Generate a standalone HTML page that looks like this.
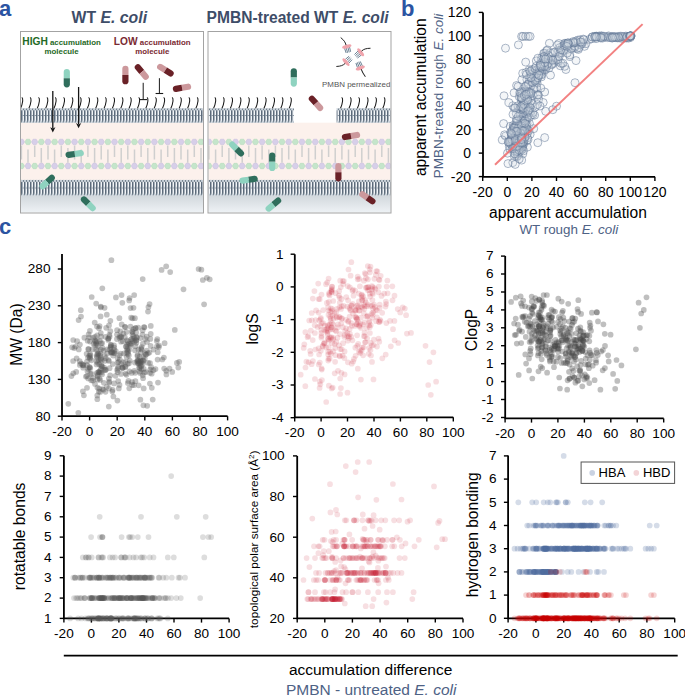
<!DOCTYPE html>
<html><head><meta charset="utf-8"><title>Figure</title>
<style>html,body{margin:0;padding:0;background:#fff}svg{display:block}text{font-family:"Liberation Sans",sans-serif}</style>
</head><body>
<svg width="685" height="695" viewBox="0 0 685 695">
<text x="-1" y="16" font-size="22" font-weight="bold" fill="#2b54a2" font-family='"Liberation Sans",sans-serif'>a</text><text x="401" y="16" font-size="22" font-weight="bold" fill="#2b54a2" font-family='"Liberation Sans",sans-serif'>b</text><defs><pattern id="mem" x="0" y="108.3" width="3" height="14.4" patternUnits="userSpaceOnUse"><rect width="3" height="14.4" fill="#f2f5f8"/><rect x="0" y="2" width="1.5" height="10.4" fill="#5b6a7a"/><rect x="1.45" y="6.8" width="1.55" height="0.9" fill="#8893a0"/><rect x="0" y="0" width="2" height="2" fill="#c6cfd8"/><rect x="2" y="0" width="1" height="2" fill="#76848f"/><rect x="1" y="12.4" width="2" height="2" fill="#c6cfd8"/><rect x="0" y="12.4" width="1" height="2" fill="#76848f"/></pattern><pattern id="mem2" x="0" y="179.9" width="3" height="15.8" patternUnits="userSpaceOnUse"><rect width="3" height="15.8" fill="#f2f5f8"/><rect x="0" y="2" width="1.5" height="11.8" fill="#5b6a7a"/><rect x="1.45" y="7.5" width="1.55" height="0.9" fill="#8893a0"/><rect x="0" y="0" width="2" height="2" fill="#c6cfd8"/><rect x="2" y="0" width="1" height="2" fill="#76848f"/><rect x="1" y="13.8" width="2" height="2" fill="#c6cfd8"/><rect x="0" y="13.8" width="1" height="2" fill="#76848f"/></pattern><linearGradient id="cyt" x1="0" y1="0" x2="0" y2="1"><stop offset="0" stop-color="#d2d8dd"/><stop offset="1" stop-color="#eef2f5"/></linearGradient></defs><clipPath id="cb1"><rect x="21" y="32" width="182" height="180.5"/></clipPath><clipPath id="cb2"><rect x="208.5" y="32" width="182" height="180.5"/></clipPath><rect x="20.5" y="31.5" width="183" height="181.5" fill="#fff"/><rect x="21.0" y="122.7" width="182" height="57.2" fill="#fcf1ec"/><g clip-path="url(#cb1)"><line x1="21.4" y1="145.4" x2="21.4" y2="159.5" stroke="#cfcfcf" stroke-width="1.5"/><line x1="28" y1="149.5" x2="28" y2="162.8" stroke="#cfcfcf" stroke-width="1.5"/><line x1="34.7" y1="145.4" x2="34.7" y2="157.0" stroke="#cfcfcf" stroke-width="1.5"/><line x1="41.3" y1="148.0" x2="41.3" y2="162.8" stroke="#cfcfcf" stroke-width="1.5"/><line x1="48" y1="145.4" x2="48" y2="159.5" stroke="#cfcfcf" stroke-width="1.5"/><line x1="54.6" y1="149.5" x2="54.6" y2="162.8" stroke="#cfcfcf" stroke-width="1.5"/><line x1="61.3" y1="145.4" x2="61.3" y2="157.0" stroke="#cfcfcf" stroke-width="1.5"/><line x1="67.9" y1="148.0" x2="67.9" y2="162.8" stroke="#cfcfcf" stroke-width="1.5"/><line x1="74.6" y1="145.4" x2="74.6" y2="159.5" stroke="#cfcfcf" stroke-width="1.5"/><line x1="81.2" y1="149.5" x2="81.2" y2="162.8" stroke="#cfcfcf" stroke-width="1.5"/><line x1="87.9" y1="145.4" x2="87.9" y2="157.0" stroke="#cfcfcf" stroke-width="1.5"/><line x1="94.6" y1="148.0" x2="94.6" y2="162.8" stroke="#cfcfcf" stroke-width="1.5"/><line x1="101.2" y1="145.4" x2="101.2" y2="159.5" stroke="#cfcfcf" stroke-width="1.5"/><line x1="107.9" y1="149.5" x2="107.9" y2="162.8" stroke="#cfcfcf" stroke-width="1.5"/><line x1="114.5" y1="145.4" x2="114.5" y2="157.0" stroke="#cfcfcf" stroke-width="1.5"/><line x1="121.2" y1="148.0" x2="121.2" y2="162.8" stroke="#cfcfcf" stroke-width="1.5"/><line x1="127.8" y1="145.4" x2="127.8" y2="159.5" stroke="#cfcfcf" stroke-width="1.5"/><line x1="134.5" y1="149.5" x2="134.5" y2="162.8" stroke="#cfcfcf" stroke-width="1.5"/><line x1="141.1" y1="145.4" x2="141.1" y2="157.0" stroke="#cfcfcf" stroke-width="1.5"/><line x1="147.8" y1="148.0" x2="147.8" y2="162.8" stroke="#cfcfcf" stroke-width="1.5"/><line x1="154.4" y1="145.4" x2="154.4" y2="159.5" stroke="#cfcfcf" stroke-width="1.5"/><line x1="161.1" y1="149.5" x2="161.1" y2="162.8" stroke="#cfcfcf" stroke-width="1.5"/><line x1="167.7" y1="145.4" x2="167.7" y2="157.0" stroke="#cfcfcf" stroke-width="1.5"/><line x1="174.4" y1="148.0" x2="174.4" y2="162.8" stroke="#cfcfcf" stroke-width="1.5"/><line x1="181" y1="145.4" x2="181" y2="159.5" stroke="#cfcfcf" stroke-width="1.5"/><line x1="187.7" y1="149.5" x2="187.7" y2="162.8" stroke="#cfcfcf" stroke-width="1.5"/><line x1="194.3" y1="145.4" x2="194.3" y2="157.0" stroke="#cfcfcf" stroke-width="1.5"/><line x1="201" y1="148.0" x2="201" y2="162.8" stroke="#cfcfcf" stroke-width="1.5"/><polygon points="24.5,141.9 22.9,144.6 19.8,144.6 18.3,141.9 19.8,139.2 22.9,139.2" fill="#d7cfe9" stroke="#c4badc" stroke-width="0.5"/><polygon points="31.1,141.9 29.6,144.6 26.5,144.6 24.9,141.9 26.5,139.2 29.6,139.2" fill="#c5e5cb" stroke="#aed8b6" stroke-width="0.5"/><polygon points="37.8,141.9 36.2,144.6 33.1,144.6 31.6,141.9 33.1,139.2 36.2,139.2" fill="#d7cfe9" stroke="#c4badc" stroke-width="0.5"/><polygon points="44.4,141.9 42.9,144.6 39.8,144.6 38.2,141.9 39.8,139.2 42.9,139.2" fill="#c5e5cb" stroke="#aed8b6" stroke-width="0.5"/><polygon points="51.1,141.9 49.5,144.6 46.4,144.6 44.9,141.9 46.4,139.2 49.5,139.2" fill="#d7cfe9" stroke="#c4badc" stroke-width="0.5"/><polygon points="57.7,141.9 56.2,144.6 53.1,144.6 51.5,141.9 53.1,139.2 56.2,139.2" fill="#c5e5cb" stroke="#aed8b6" stroke-width="0.5"/><polygon points="64.4,141.9 62.8,144.6 59.7,144.6 58.2,141.9 59.7,139.2 62.8,139.2" fill="#d7cfe9" stroke="#c4badc" stroke-width="0.5"/><polygon points="71,141.9 69.5,144.6 66.4,144.6 64.8,141.9 66.4,139.2 69.5,139.2" fill="#c5e5cb" stroke="#aed8b6" stroke-width="0.5"/><polygon points="77.7,141.9 76.1,144.6 73,144.6 71.5,141.9 73,139.2 76.1,139.2" fill="#d7cfe9" stroke="#c4badc" stroke-width="0.5"/><polygon points="84.3,141.9 82.8,144.6 79.7,144.6 78.2,141.9 79.7,139.2 82.8,139.2" fill="#c5e5cb" stroke="#aed8b6" stroke-width="0.5"/><polygon points="91,141.9 89.5,144.6 86.4,144.6 84.8,141.9 86.4,139.2 89.5,139.2" fill="#d7cfe9" stroke="#c4badc" stroke-width="0.5"/><polygon points="97.7,141.9 96.1,144.6 93,144.6 91.5,141.9 93,139.2 96.1,139.2" fill="#c5e5cb" stroke="#aed8b6" stroke-width="0.5"/><polygon points="104.3,141.9 102.8,144.6 99.7,144.6 98.1,141.9 99.7,139.2 102.8,139.2" fill="#d7cfe9" stroke="#c4badc" stroke-width="0.5"/><polygon points="111,141.9 109.4,144.6 106.3,144.6 104.8,141.9 106.3,139.2 109.4,139.2" fill="#c5e5cb" stroke="#aed8b6" stroke-width="0.5"/><polygon points="117.6,141.9 116.1,144.6 113,144.6 111.4,141.9 113,139.2 116.1,139.2" fill="#d7cfe9" stroke="#c4badc" stroke-width="0.5"/><polygon points="124.3,141.9 122.7,144.6 119.6,144.6 118.1,141.9 119.6,139.2 122.7,139.2" fill="#c5e5cb" stroke="#aed8b6" stroke-width="0.5"/><polygon points="130.9,141.9 129.4,144.6 126.3,144.6 124.7,141.9 126.3,139.2 129.4,139.2" fill="#d7cfe9" stroke="#c4badc" stroke-width="0.5"/><polygon points="137.6,141.9 136,144.6 132.9,144.6 131.4,141.9 132.9,139.2 136,139.2" fill="#c5e5cb" stroke="#aed8b6" stroke-width="0.5"/><polygon points="144.2,141.9 142.7,144.6 139.6,144.6 138,141.9 139.6,139.2 142.7,139.2" fill="#d7cfe9" stroke="#c4badc" stroke-width="0.5"/><polygon points="150.9,141.9 149.3,144.6 146.2,144.6 144.7,141.9 146.2,139.2 149.3,139.2" fill="#c5e5cb" stroke="#aed8b6" stroke-width="0.5"/><polygon points="157.5,141.9 156,144.6 152.9,144.6 151.3,141.9 152.9,139.2 156,139.2" fill="#d7cfe9" stroke="#c4badc" stroke-width="0.5"/><polygon points="164.2,141.9 162.6,144.6 159.5,144.6 158,141.9 159.5,139.2 162.6,139.2" fill="#c5e5cb" stroke="#aed8b6" stroke-width="0.5"/><polygon points="170.8,141.9 169.3,144.6 166.2,144.6 164.6,141.9 166.2,139.2 169.3,139.2" fill="#d7cfe9" stroke="#c4badc" stroke-width="0.5"/><polygon points="177.5,141.9 175.9,144.6 172.8,144.6 171.3,141.9 172.8,139.2 175.9,139.2" fill="#c5e5cb" stroke="#aed8b6" stroke-width="0.5"/><polygon points="184.1,141.9 182.6,144.6 179.5,144.6 177.9,141.9 179.5,139.2 182.6,139.2" fill="#d7cfe9" stroke="#c4badc" stroke-width="0.5"/><polygon points="190.8,141.9 189.2,144.6 186.1,144.6 184.6,141.9 186.1,139.2 189.2,139.2" fill="#c5e5cb" stroke="#aed8b6" stroke-width="0.5"/><polygon points="197.4,141.9 195.9,144.6 192.8,144.6 191.2,141.9 192.8,139.2 195.9,139.2" fill="#d7cfe9" stroke="#c4badc" stroke-width="0.5"/><polygon points="204.1,141.9 202.5,144.6 199.4,144.6 197.9,141.9 199.4,139.2 202.5,139.2" fill="#c5e5cb" stroke="#aed8b6" stroke-width="0.5"/><polygon points="24.5,166 22.9,168.7 19.8,168.7 18.3,166 19.8,163.3 22.9,163.3" fill="#c5e5cb" stroke="#aed8b6" stroke-width="0.5"/><polygon points="31.1,166 29.6,168.7 26.5,168.7 24.9,166 26.5,163.3 29.6,163.3" fill="#d7cfe9" stroke="#c4badc" stroke-width="0.5"/><polygon points="37.8,166 36.2,168.7 33.1,168.7 31.6,166 33.1,163.3 36.2,163.3" fill="#c5e5cb" stroke="#aed8b6" stroke-width="0.5"/><polygon points="44.4,166 42.9,168.7 39.8,168.7 38.2,166 39.8,163.3 42.9,163.3" fill="#d7cfe9" stroke="#c4badc" stroke-width="0.5"/><polygon points="51.1,166 49.5,168.7 46.4,168.7 44.9,166 46.4,163.3 49.5,163.3" fill="#c5e5cb" stroke="#aed8b6" stroke-width="0.5"/><polygon points="57.7,166 56.2,168.7 53.1,168.7 51.5,166 53.1,163.3 56.2,163.3" fill="#d7cfe9" stroke="#c4badc" stroke-width="0.5"/><polygon points="64.4,166 62.8,168.7 59.7,168.7 58.2,166 59.7,163.3 62.8,163.3" fill="#c5e5cb" stroke="#aed8b6" stroke-width="0.5"/><polygon points="71,166 69.5,168.7 66.4,168.7 64.8,166 66.4,163.3 69.5,163.3" fill="#d7cfe9" stroke="#c4badc" stroke-width="0.5"/><polygon points="77.7,166 76.1,168.7 73,168.7 71.5,166 73,163.3 76.1,163.3" fill="#c5e5cb" stroke="#aed8b6" stroke-width="0.5"/><polygon points="84.3,166 82.8,168.7 79.7,168.7 78.2,166 79.7,163.3 82.8,163.3" fill="#d7cfe9" stroke="#c4badc" stroke-width="0.5"/><polygon points="91,166 89.5,168.7 86.4,168.7 84.8,166 86.4,163.3 89.5,163.3" fill="#c5e5cb" stroke="#aed8b6" stroke-width="0.5"/><polygon points="97.7,166 96.1,168.7 93,168.7 91.5,166 93,163.3 96.1,163.3" fill="#d7cfe9" stroke="#c4badc" stroke-width="0.5"/><polygon points="104.3,166 102.8,168.7 99.7,168.7 98.1,166 99.7,163.3 102.8,163.3" fill="#c5e5cb" stroke="#aed8b6" stroke-width="0.5"/><polygon points="111,166 109.4,168.7 106.3,168.7 104.8,166 106.3,163.3 109.4,163.3" fill="#d7cfe9" stroke="#c4badc" stroke-width="0.5"/><polygon points="117.6,166 116.1,168.7 113,168.7 111.4,166 113,163.3 116.1,163.3" fill="#c5e5cb" stroke="#aed8b6" stroke-width="0.5"/><polygon points="124.3,166 122.7,168.7 119.6,168.7 118.1,166 119.6,163.3 122.7,163.3" fill="#d7cfe9" stroke="#c4badc" stroke-width="0.5"/><polygon points="130.9,166 129.4,168.7 126.3,168.7 124.7,166 126.3,163.3 129.4,163.3" fill="#c5e5cb" stroke="#aed8b6" stroke-width="0.5"/><polygon points="137.6,166 136,168.7 132.9,168.7 131.4,166 132.9,163.3 136,163.3" fill="#d7cfe9" stroke="#c4badc" stroke-width="0.5"/><polygon points="144.2,166 142.7,168.7 139.6,168.7 138,166 139.6,163.3 142.7,163.3" fill="#c5e5cb" stroke="#aed8b6" stroke-width="0.5"/><polygon points="150.9,166 149.3,168.7 146.2,168.7 144.7,166 146.2,163.3 149.3,163.3" fill="#d7cfe9" stroke="#c4badc" stroke-width="0.5"/><polygon points="157.5,166 156,168.7 152.9,168.7 151.3,166 152.9,163.3 156,163.3" fill="#c5e5cb" stroke="#aed8b6" stroke-width="0.5"/><polygon points="164.2,166 162.6,168.7 159.5,168.7 158,166 159.5,163.3 162.6,163.3" fill="#d7cfe9" stroke="#c4badc" stroke-width="0.5"/><polygon points="170.8,166 169.3,168.7 166.2,168.7 164.6,166 166.2,163.3 169.3,163.3" fill="#c5e5cb" stroke="#aed8b6" stroke-width="0.5"/><polygon points="177.5,166 175.9,168.7 172.8,168.7 171.3,166 172.8,163.3 175.9,163.3" fill="#d7cfe9" stroke="#c4badc" stroke-width="0.5"/><polygon points="184.1,166 182.6,168.7 179.5,168.7 177.9,166 179.5,163.3 182.6,163.3" fill="#c5e5cb" stroke="#aed8b6" stroke-width="0.5"/><polygon points="190.8,166 189.2,168.7 186.1,168.7 184.6,166 186.1,163.3 189.2,163.3" fill="#d7cfe9" stroke="#c4badc" stroke-width="0.5"/><polygon points="197.4,166 195.9,168.7 192.8,168.7 191.2,166 192.8,163.3 195.9,163.3" fill="#c5e5cb" stroke="#aed8b6" stroke-width="0.5"/><polygon points="204.1,166 202.5,168.7 199.4,168.7 197.9,166 199.4,163.3 202.5,163.3" fill="#d7cfe9" stroke="#c4badc" stroke-width="0.5"/></g><rect x="21" y="179.9" width="182" height="15.8" fill="url(#mem2)"/><rect x="21.0" y="195.7" width="182" height="16.8" fill="url(#cyt)"/><rect x="208.0" y="31.5" width="183" height="181.5" fill="#fff"/><rect x="208.5" y="122.7" width="182" height="57.2" fill="#fcf1ec"/><g clip-path="url(#cb2)"><line x1="208.9" y1="145.4" x2="208.9" y2="159.5" stroke="#cfcfcf" stroke-width="1.5"/><line x1="215.6" y1="149.5" x2="215.6" y2="162.8" stroke="#cfcfcf" stroke-width="1.5"/><line x1="222.2" y1="145.4" x2="222.2" y2="157.0" stroke="#cfcfcf" stroke-width="1.5"/><line x1="228.9" y1="148.0" x2="228.9" y2="162.8" stroke="#cfcfcf" stroke-width="1.5"/><line x1="235.5" y1="145.4" x2="235.5" y2="159.5" stroke="#cfcfcf" stroke-width="1.5"/><line x1="242.2" y1="149.5" x2="242.2" y2="162.8" stroke="#cfcfcf" stroke-width="1.5"/><line x1="248.8" y1="145.4" x2="248.8" y2="157.0" stroke="#cfcfcf" stroke-width="1.5"/><line x1="255.5" y1="148.0" x2="255.5" y2="162.8" stroke="#cfcfcf" stroke-width="1.5"/><line x1="262.1" y1="145.4" x2="262.1" y2="159.5" stroke="#cfcfcf" stroke-width="1.5"/><line x1="268.8" y1="149.5" x2="268.8" y2="162.8" stroke="#cfcfcf" stroke-width="1.5"/><line x1="275.4" y1="145.4" x2="275.4" y2="157.0" stroke="#cfcfcf" stroke-width="1.5"/><line x1="282" y1="148.0" x2="282" y2="162.8" stroke="#cfcfcf" stroke-width="1.5"/><line x1="288.7" y1="145.4" x2="288.7" y2="159.5" stroke="#cfcfcf" stroke-width="1.5"/><line x1="295.3" y1="149.5" x2="295.3" y2="162.8" stroke="#cfcfcf" stroke-width="1.5"/><line x1="302" y1="145.4" x2="302" y2="157.0" stroke="#cfcfcf" stroke-width="1.5"/><line x1="308.6" y1="148.0" x2="308.6" y2="162.8" stroke="#cfcfcf" stroke-width="1.5"/><line x1="315.3" y1="145.4" x2="315.3" y2="159.5" stroke="#cfcfcf" stroke-width="1.5"/><line x1="321.9" y1="149.5" x2="321.9" y2="162.8" stroke="#cfcfcf" stroke-width="1.5"/><line x1="328.6" y1="145.4" x2="328.6" y2="157.0" stroke="#cfcfcf" stroke-width="1.5"/><line x1="335.2" y1="148.0" x2="335.2" y2="162.8" stroke="#cfcfcf" stroke-width="1.5"/><line x1="341.9" y1="145.4" x2="341.9" y2="159.5" stroke="#cfcfcf" stroke-width="1.5"/><line x1="348.5" y1="149.5" x2="348.5" y2="162.8" stroke="#cfcfcf" stroke-width="1.5"/><line x1="355.2" y1="145.4" x2="355.2" y2="157.0" stroke="#cfcfcf" stroke-width="1.5"/><line x1="361.8" y1="148.0" x2="361.8" y2="162.8" stroke="#cfcfcf" stroke-width="1.5"/><line x1="368.5" y1="145.4" x2="368.5" y2="159.5" stroke="#cfcfcf" stroke-width="1.5"/><line x1="375.1" y1="149.5" x2="375.1" y2="162.8" stroke="#cfcfcf" stroke-width="1.5"/><line x1="381.8" y1="145.4" x2="381.8" y2="157.0" stroke="#cfcfcf" stroke-width="1.5"/><line x1="388.4" y1="148.0" x2="388.4" y2="162.8" stroke="#cfcfcf" stroke-width="1.5"/><polygon points="212,141.9 210.5,144.6 207.3,144.6 205.8,141.9 207.3,139.2 210.5,139.2" fill="#d7cfe9" stroke="#c4badc" stroke-width="0.5"/><polygon points="218.7,141.9 217.1,144.6 214,144.6 212.5,141.9 214,139.2 217.1,139.2" fill="#c5e5cb" stroke="#aed8b6" stroke-width="0.5"/><polygon points="225.3,141.9 223.8,144.6 220.7,144.6 219.1,141.9 220.7,139.2 223.8,139.2" fill="#d7cfe9" stroke="#c4badc" stroke-width="0.5"/><polygon points="232,141.9 230.4,144.6 227.3,144.6 225.8,141.9 227.3,139.2 230.4,139.2" fill="#c5e5cb" stroke="#aed8b6" stroke-width="0.5"/><polygon points="238.6,141.9 237.1,144.6 234,144.6 232.4,141.9 234,139.2 237.1,139.2" fill="#d7cfe9" stroke="#c4badc" stroke-width="0.5"/><polygon points="245.3,141.9 243.7,144.6 240.6,144.6 239.1,141.9 240.6,139.2 243.7,139.2" fill="#c5e5cb" stroke="#aed8b6" stroke-width="0.5"/><polygon points="251.9,141.9 250.4,144.6 247.3,144.6 245.7,141.9 247.3,139.2 250.4,139.2" fill="#d7cfe9" stroke="#c4badc" stroke-width="0.5"/><polygon points="258.6,141.9 257,144.6 253.9,144.6 252.4,141.9 253.9,139.2 257,139.2" fill="#c5e5cb" stroke="#aed8b6" stroke-width="0.5"/><polygon points="265.2,141.9 263.7,144.6 260.6,144.6 259,141.9 260.6,139.2 263.7,139.2" fill="#d7cfe9" stroke="#c4badc" stroke-width="0.5"/><polygon points="271.9,141.9 270.3,144.6 267.2,144.6 265.6,141.9 267.2,139.2 270.3,139.2" fill="#c5e5cb" stroke="#aed8b6" stroke-width="0.5"/><polygon points="278.5,141.9 276.9,144.6 273.8,144.6 272.3,141.9 273.8,139.2 276.9,139.2" fill="#d7cfe9" stroke="#c4badc" stroke-width="0.5"/><polygon points="285.1,141.9 283.6,144.6 280.5,144.6 278.9,141.9 280.5,139.2 283.6,139.2" fill="#c5e5cb" stroke="#aed8b6" stroke-width="0.5"/><polygon points="291.8,141.9 290.2,144.6 287.1,144.6 285.6,141.9 287.1,139.2 290.2,139.2" fill="#d7cfe9" stroke="#c4badc" stroke-width="0.5"/><polygon points="298.4,141.9 296.9,144.6 293.8,144.6 292.2,141.9 293.8,139.2 296.9,139.2" fill="#c5e5cb" stroke="#aed8b6" stroke-width="0.5"/><polygon points="305.1,141.9 303.5,144.6 300.4,144.6 298.9,141.9 300.4,139.2 303.5,139.2" fill="#d7cfe9" stroke="#c4badc" stroke-width="0.5"/><polygon points="311.7,141.9 310.2,144.6 307.1,144.6 305.5,141.9 307.1,139.2 310.2,139.2" fill="#c5e5cb" stroke="#aed8b6" stroke-width="0.5"/><polygon points="318.4,141.9 316.8,144.6 313.7,144.6 312.2,141.9 313.7,139.2 316.8,139.2" fill="#d7cfe9" stroke="#c4badc" stroke-width="0.5"/><polygon points="325,141.9 323.5,144.6 320.4,144.6 318.8,141.9 320.4,139.2 323.5,139.2" fill="#c5e5cb" stroke="#aed8b6" stroke-width="0.5"/><polygon points="331.7,141.9 330.1,144.6 327,144.6 325.5,141.9 327,139.2 330.1,139.2" fill="#d7cfe9" stroke="#c4badc" stroke-width="0.5"/><polygon points="338.3,141.9 336.8,144.6 333.7,144.6 332.1,141.9 333.7,139.2 336.8,139.2" fill="#c5e5cb" stroke="#aed8b6" stroke-width="0.5"/><polygon points="345,141.9 343.4,144.6 340.3,144.6 338.8,141.9 340.3,139.2 343.4,139.2" fill="#d7cfe9" stroke="#c4badc" stroke-width="0.5"/><polygon points="351.6,141.9 350.1,144.6 347,144.6 345.4,141.9 347,139.2 350.1,139.2" fill="#c5e5cb" stroke="#aed8b6" stroke-width="0.5"/><polygon points="358.3,141.9 356.7,144.6 353.6,144.6 352.1,141.9 353.6,139.2 356.7,139.2" fill="#d7cfe9" stroke="#c4badc" stroke-width="0.5"/><polygon points="364.9,141.9 363.4,144.6 360.3,144.6 358.7,141.9 360.3,139.2 363.4,139.2" fill="#c5e5cb" stroke="#aed8b6" stroke-width="0.5"/><polygon points="371.6,141.9 370,144.6 366.9,144.6 365.4,141.9 366.9,139.2 370,139.2" fill="#d7cfe9" stroke="#c4badc" stroke-width="0.5"/><polygon points="378.2,141.9 376.7,144.6 373.6,144.6 372,141.9 373.6,139.2 376.7,139.2" fill="#c5e5cb" stroke="#aed8b6" stroke-width="0.5"/><polygon points="384.9,141.9 383.3,144.6 380.2,144.6 378.7,141.9 380.2,139.2 383.3,139.2" fill="#d7cfe9" stroke="#c4badc" stroke-width="0.5"/><polygon points="391.5,141.9 390,144.6 386.9,144.6 385.3,141.9 386.9,139.2 390,139.2" fill="#c5e5cb" stroke="#aed8b6" stroke-width="0.5"/><polygon points="212,166 210.5,168.7 207.3,168.7 205.8,166 207.3,163.3 210.5,163.3" fill="#c5e5cb" stroke="#aed8b6" stroke-width="0.5"/><polygon points="218.7,166 217.1,168.7 214,168.7 212.5,166 214,163.3 217.1,163.3" fill="#d7cfe9" stroke="#c4badc" stroke-width="0.5"/><polygon points="225.3,166 223.8,168.7 220.7,168.7 219.1,166 220.7,163.3 223.8,163.3" fill="#c5e5cb" stroke="#aed8b6" stroke-width="0.5"/><polygon points="232,166 230.4,168.7 227.3,168.7 225.8,166 227.3,163.3 230.4,163.3" fill="#d7cfe9" stroke="#c4badc" stroke-width="0.5"/><polygon points="238.6,166 237.1,168.7 234,168.7 232.4,166 234,163.3 237.1,163.3" fill="#c5e5cb" stroke="#aed8b6" stroke-width="0.5"/><polygon points="245.3,166 243.7,168.7 240.6,168.7 239.1,166 240.6,163.3 243.7,163.3" fill="#d7cfe9" stroke="#c4badc" stroke-width="0.5"/><polygon points="251.9,166 250.4,168.7 247.3,168.7 245.7,166 247.3,163.3 250.4,163.3" fill="#c5e5cb" stroke="#aed8b6" stroke-width="0.5"/><polygon points="258.6,166 257,168.7 253.9,168.7 252.4,166 253.9,163.3 257,163.3" fill="#d7cfe9" stroke="#c4badc" stroke-width="0.5"/><polygon points="265.2,166 263.7,168.7 260.6,168.7 259,166 260.6,163.3 263.7,163.3" fill="#c5e5cb" stroke="#aed8b6" stroke-width="0.5"/><polygon points="271.9,166 270.3,168.7 267.2,168.7 265.6,166 267.2,163.3 270.3,163.3" fill="#d7cfe9" stroke="#c4badc" stroke-width="0.5"/><polygon points="278.5,166 276.9,168.7 273.8,168.7 272.3,166 273.8,163.3 276.9,163.3" fill="#c5e5cb" stroke="#aed8b6" stroke-width="0.5"/><polygon points="285.1,166 283.6,168.7 280.5,168.7 278.9,166 280.5,163.3 283.6,163.3" fill="#d7cfe9" stroke="#c4badc" stroke-width="0.5"/><polygon points="291.8,166 290.2,168.7 287.1,168.7 285.6,166 287.1,163.3 290.2,163.3" fill="#c5e5cb" stroke="#aed8b6" stroke-width="0.5"/><polygon points="298.4,166 296.9,168.7 293.8,168.7 292.2,166 293.8,163.3 296.9,163.3" fill="#d7cfe9" stroke="#c4badc" stroke-width="0.5"/><polygon points="305.1,166 303.5,168.7 300.4,168.7 298.9,166 300.4,163.3 303.5,163.3" fill="#c5e5cb" stroke="#aed8b6" stroke-width="0.5"/><polygon points="311.7,166 310.2,168.7 307.1,168.7 305.5,166 307.1,163.3 310.2,163.3" fill="#d7cfe9" stroke="#c4badc" stroke-width="0.5"/><polygon points="318.4,166 316.8,168.7 313.7,168.7 312.2,166 313.7,163.3 316.8,163.3" fill="#c5e5cb" stroke="#aed8b6" stroke-width="0.5"/><polygon points="325,166 323.5,168.7 320.4,168.7 318.8,166 320.4,163.3 323.5,163.3" fill="#d7cfe9" stroke="#c4badc" stroke-width="0.5"/><polygon points="331.7,166 330.1,168.7 327,168.7 325.5,166 327,163.3 330.1,163.3" fill="#c5e5cb" stroke="#aed8b6" stroke-width="0.5"/><polygon points="338.3,166 336.8,168.7 333.7,168.7 332.1,166 333.7,163.3 336.8,163.3" fill="#d7cfe9" stroke="#c4badc" stroke-width="0.5"/><polygon points="345,166 343.4,168.7 340.3,168.7 338.8,166 340.3,163.3 343.4,163.3" fill="#c5e5cb" stroke="#aed8b6" stroke-width="0.5"/><polygon points="351.6,166 350.1,168.7 347,168.7 345.4,166 347,163.3 350.1,163.3" fill="#d7cfe9" stroke="#c4badc" stroke-width="0.5"/><polygon points="358.3,166 356.7,168.7 353.6,168.7 352.1,166 353.6,163.3 356.7,163.3" fill="#c5e5cb" stroke="#aed8b6" stroke-width="0.5"/><polygon points="364.9,166 363.4,168.7 360.3,168.7 358.7,166 360.3,163.3 363.4,163.3" fill="#d7cfe9" stroke="#c4badc" stroke-width="0.5"/><polygon points="371.6,166 370,168.7 366.9,168.7 365.4,166 366.9,163.3 370,163.3" fill="#c5e5cb" stroke="#aed8b6" stroke-width="0.5"/><polygon points="378.2,166 376.7,168.7 373.6,168.7 372,166 373.6,163.3 376.7,163.3" fill="#d7cfe9" stroke="#c4badc" stroke-width="0.5"/><polygon points="384.9,166 383.3,168.7 380.2,168.7 378.7,166 380.2,163.3 383.3,163.3" fill="#c5e5cb" stroke="#aed8b6" stroke-width="0.5"/><polygon points="391.5,166 390,168.7 386.9,168.7 385.3,166 386.9,163.3 390,163.3" fill="#d7cfe9" stroke="#c4badc" stroke-width="0.5"/></g><rect x="208.5" y="179.9" width="182" height="15.8" fill="url(#mem2)"/><rect x="208.5" y="195.7" width="182" height="16.8" fill="url(#cyt)"/><rect x="21" y="108.3" width="182" height="14.4" fill="url(#mem)"/><rect x="208.5" y="108.3" width="85.5" height="14.4" fill="url(#mem)"/><rect x="336.6" y="108.3" width="53.9" height="14.4" fill="url(#mem)"/><path d="M21.8,97.4 q1.2,0.8 0.9,3.6 q-0.5,4 -2.1,7.2" fill="none" stroke="#161616" stroke-width="1.05"/><path d="M30.1,97.4 q1.2,0.8 0.9,3.6 q-0.5,4 -2.1,7.2" fill="none" stroke="#161616" stroke-width="1.05"/><path d="M38.5,97.4 q1.2,0.8 0.9,3.6 q-0.5,4 -2.1,7.2" fill="none" stroke="#161616" stroke-width="1.05"/><path d="M46.9,97.4 q1.2,0.8 0.9,3.6 q-0.5,4 -2.1,7.2" fill="none" stroke="#161616" stroke-width="1.05"/><path d="M55.2,97.4 q1.2,0.8 0.9,3.6 q-0.5,4 -2.1,7.2" fill="none" stroke="#161616" stroke-width="1.05"/><path d="M63.6,97.4 q1.2,0.8 0.9,3.6 q-0.5,4 -2.1,7.2" fill="none" stroke="#161616" stroke-width="1.05"/><path d="M71.9,97.4 q1.2,0.8 0.9,3.6 q-0.5,4 -2.1,7.2" fill="none" stroke="#161616" stroke-width="1.05"/><path d="M80.2,97.4 q1.2,0.8 0.9,3.6 q-0.5,4 -2.1,7.2" fill="none" stroke="#161616" stroke-width="1.05"/><path d="M88.6,97.4 q1.2,0.8 0.9,3.6 q-0.5,4 -2.1,7.2" fill="none" stroke="#161616" stroke-width="1.05"/><path d="M96.9,97.4 q1.2,0.8 0.9,3.6 q-0.5,4 -2.1,7.2" fill="none" stroke="#161616" stroke-width="1.05"/><path d="M105.3,97.4 q1.2,0.8 0.9,3.6 q-0.5,4 -2.1,7.2" fill="none" stroke="#161616" stroke-width="1.05"/><path d="M113.6,97.4 q1.2,0.8 0.9,3.6 q-0.5,4 -2.1,7.2" fill="none" stroke="#161616" stroke-width="1.05"/><path d="M122,97.4 q1.2,0.8 0.9,3.6 q-0.5,4 -2.1,7.2" fill="none" stroke="#161616" stroke-width="1.05"/><path d="M130.3,97.4 q1.2,0.8 0.9,3.6 q-0.5,4 -2.1,7.2" fill="none" stroke="#161616" stroke-width="1.05"/><path d="M138.7,97.4 q1.2,0.8 0.9,3.6 q-0.5,4 -2.1,7.2" fill="none" stroke="#161616" stroke-width="1.05"/><path d="M147,97.4 q1.2,0.8 0.9,3.6 q-0.5,4 -2.1,7.2" fill="none" stroke="#161616" stroke-width="1.05"/><path d="M155.4,97.4 q1.2,0.8 0.9,3.6 q-0.5,4 -2.1,7.2" fill="none" stroke="#161616" stroke-width="1.05"/><path d="M163.7,97.4 q1.2,0.8 0.9,3.6 q-0.5,4 -2.1,7.2" fill="none" stroke="#161616" stroke-width="1.05"/><path d="M172.1,97.4 q1.2,0.8 0.9,3.6 q-0.5,4 -2.1,7.2" fill="none" stroke="#161616" stroke-width="1.05"/><path d="M180.4,97.4 q1.2,0.8 0.9,3.6 q-0.5,4 -2.1,7.2" fill="none" stroke="#161616" stroke-width="1.05"/><path d="M188.8,97.4 q1.2,0.8 0.9,3.6 q-0.5,4 -2.1,7.2" fill="none" stroke="#161616" stroke-width="1.05"/><path d="M197.1,97.4 q1.2,0.8 0.9,3.6 q-0.5,4 -2.1,7.2" fill="none" stroke="#161616" stroke-width="1.05"/><path d="M214.8,97.4 q1.2,0.8 0.9,3.6 q-0.5,4 -2.1,7.2" fill="none" stroke="#161616" stroke-width="1.05"/><path d="M223.2,97.4 q1.2,0.8 0.9,3.6 q-0.5,4 -2.1,7.2" fill="none" stroke="#161616" stroke-width="1.05"/><path d="M231.6,97.4 q1.2,0.8 0.9,3.6 q-0.5,4 -2.1,7.2" fill="none" stroke="#161616" stroke-width="1.05"/><path d="M240,97.4 q1.2,0.8 0.9,3.6 q-0.5,4 -2.1,7.2" fill="none" stroke="#161616" stroke-width="1.05"/><path d="M248.4,97.4 q1.2,0.8 0.9,3.6 q-0.5,4 -2.1,7.2" fill="none" stroke="#161616" stroke-width="1.05"/><path d="M256.8,97.4 q1.2,0.8 0.9,3.6 q-0.5,4 -2.1,7.2" fill="none" stroke="#161616" stroke-width="1.05"/><path d="M265.2,97.4 q1.2,0.8 0.9,3.6 q-0.5,4 -2.1,7.2" fill="none" stroke="#161616" stroke-width="1.05"/><path d="M273.6,97.4 q1.2,0.8 0.9,3.6 q-0.5,4 -2.1,7.2" fill="none" stroke="#161616" stroke-width="1.05"/><path d="M282,97.4 q1.2,0.8 0.9,3.6 q-0.5,4 -2.1,7.2" fill="none" stroke="#161616" stroke-width="1.05"/><path d="M290.4,97.4 q1.2,0.8 0.9,3.6 q-0.5,4 -2.1,7.2" fill="none" stroke="#161616" stroke-width="1.05"/><path d="M341.7,97.4 q1.2,0.8 0.9,3.6 q-0.5,4 -2.1,7.2" fill="none" stroke="#161616" stroke-width="1.05"/><path d="M350.2,97.4 q1.2,0.8 0.9,3.6 q-0.5,4 -2.1,7.2" fill="none" stroke="#161616" stroke-width="1.05"/><path d="M358.6,97.4 q1.2,0.8 0.9,3.6 q-0.5,4 -2.1,7.2" fill="none" stroke="#161616" stroke-width="1.05"/><path d="M367.1,97.4 q1.2,0.8 0.9,3.6 q-0.5,4 -2.1,7.2" fill="none" stroke="#161616" stroke-width="1.05"/><path d="M375.5,97.4 q1.2,0.8 0.9,3.6 q-0.5,4 -2.1,7.2" fill="none" stroke="#161616" stroke-width="1.05"/><path d="M384,97.4 q1.2,0.8 0.9,3.6 q-0.5,4 -2.1,7.2" fill="none" stroke="#161616" stroke-width="1.05"/><line x1="52.8" y1="91" x2="52.8" y2="128.4" stroke="#151515" stroke-width="1.3"/><path d="M50.2,127.2 L52.8,132.4 L55.4,127.2 L52.8,128.6 Z" fill="#151515"/><line x1="78.6" y1="87" x2="78.6" y2="124.30000000000001" stroke="#151515" stroke-width="1.3"/><path d="M76,123.1 L78.6,128.3 L81.2,123.1 L78.6,124.5 Z" fill="#151515"/><line x1="143.2" y1="82.8" x2="143.2" y2="99.6" stroke="#1a1a1a" stroke-width="1"/><line x1="139.4" y1="99.6" x2="147" y2="99.6" stroke="#1a1a1a" stroke-width="1.1"/><line x1="159.4" y1="78.2" x2="159.4" y2="93.5" stroke="#1a1a1a" stroke-width="1"/><line x1="155.6" y1="93.5" x2="163.2" y2="93.5" stroke="#1a1a1a" stroke-width="1.1"/><g transform="translate(66.8,78.2) rotate(0)"><path d="M-3.1,0 V-6.15 A3.1,3.1 0 0 1 3.1,-6.15 V0 Z" fill="#8fd3c0"/><path d="M-3.1,0 V6.15 A3.1,3.1 0 0 0 3.1,6.15 V0 Z" fill="#2f6e5c"/></g><g transform="translate(125.4,75) rotate(0)"><path d="M-3.1,0 V-6.15 A3.1,3.1 0 0 1 3.1,-6.15 V0 Z" fill="#cc989c"/><path d="M-3.1,0 V6.15 A3.1,3.1 0 0 0 3.1,6.15 V0 Z" fill="#6a2127"/></g><g transform="translate(141.8,72) rotate(-40)"><path d="M-3.1,0 V-6.15 A3.1,3.1 0 0 1 3.1,-6.15 V0 Z" fill="#6a2127"/><path d="M-3.1,0 V6.15 A3.1,3.1 0 0 0 3.1,6.15 V0 Z" fill="#cc989c"/></g><g transform="translate(165.4,70.2) rotate(-58)"><path d="M-3.1,0 V-6.15 A3.1,3.1 0 0 1 3.1,-6.15 V0 Z" fill="#cc989c"/><path d="M-3.1,0 V6.15 A3.1,3.1 0 0 0 3.1,6.15 V0 Z" fill="#6a2127"/></g><g transform="translate(182,87.8) rotate(80)"><path d="M-3.1,0 V-6.15 A3.1,3.1 0 0 1 3.1,-6.15 V0 Z" fill="#cc989c"/><path d="M-3.1,0 V6.15 A3.1,3.1 0 0 0 3.1,6.15 V0 Z" fill="#6a2127"/></g><g transform="translate(74.7,154) rotate(82)"><path d="M-3.1,0 V-6.15 A3.1,3.1 0 0 1 3.1,-6.15 V0 Z" fill="#8fd3c0"/><path d="M-3.1,0 V6.15 A3.1,3.1 0 0 0 3.1,6.15 V0 Z" fill="#2f6e5c"/></g><g transform="translate(47.2,182) rotate(48)"><path d="M-3.1,0 V-6.15 A3.1,3.1 0 0 1 3.1,-6.15 V0 Z" fill="#2f6e5c"/><path d="M-3.1,0 V6.15 A3.1,3.1 0 0 0 3.1,6.15 V0 Z" fill="#8fd3c0"/></g><g transform="translate(88.3,203.8) rotate(-45)"><path d="M-3.1,0 V-6.15 A3.1,3.1 0 0 1 3.1,-6.15 V0 Z" fill="#2f6e5c"/><path d="M-3.1,0 V6.15 A3.1,3.1 0 0 0 3.1,6.15 V0 Z" fill="#8fd3c0"/></g><g transform="translate(293.8,77.4) rotate(0)"><path d="M-3.1,0 V-6.15 A3.1,3.1 0 0 1 3.1,-6.15 V0 Z" fill="#2f6e5c"/><path d="M-3.1,0 V6.15 A3.1,3.1 0 0 0 3.1,6.15 V0 Z" fill="#8fd3c0"/></g><g transform="translate(316,103.3) rotate(-42)"><path d="M-3.1,0 V-6.15 A3.1,3.1 0 0 1 3.1,-6.15 V0 Z" fill="#6a2127"/><path d="M-3.1,0 V6.15 A3.1,3.1 0 0 0 3.1,6.15 V0 Z" fill="#cc989c"/></g><g transform="translate(351,136) rotate(80)"><path d="M-3.1,0 V-6.15 A3.1,3.1 0 0 1 3.1,-6.15 V0 Z" fill="#cc989c"/><path d="M-3.1,0 V6.15 A3.1,3.1 0 0 0 3.1,6.15 V0 Z" fill="#6a2127"/></g><g transform="translate(236.6,149) rotate(-45)"><path d="M-3.1,0 V-6.15 A3.1,3.1 0 0 1 3.1,-6.15 V0 Z" fill="#8fd3c0"/><path d="M-3.1,0 V6.15 A3.1,3.1 0 0 0 3.1,6.15 V0 Z" fill="#2f6e5c"/></g><g transform="translate(272.2,161.8) rotate(0)"><path d="M-3.1,0 V-6.15 A3.1,3.1 0 0 1 3.1,-6.15 V0 Z" fill="#2f6e5c"/><path d="M-3.1,0 V6.15 A3.1,3.1 0 0 0 3.1,6.15 V0 Z" fill="#8fd3c0"/></g><g transform="translate(338.4,172.2) rotate(0)"><path d="M-3.1,0 V-6.15 A3.1,3.1 0 0 1 3.1,-6.15 V0 Z" fill="#cc989c"/><path d="M-3.1,0 V6.15 A3.1,3.1 0 0 0 3.1,6.15 V0 Z" fill="#6a2127"/></g><g transform="translate(248.6,179.8) rotate(82)"><path d="M-3.1,0 V-6.15 A3.1,3.1 0 0 1 3.1,-6.15 V0 Z" fill="#2f6e5c"/><path d="M-3.1,0 V6.15 A3.1,3.1 0 0 0 3.1,6.15 V0 Z" fill="#8fd3c0"/></g><g transform="translate(367.4,197.8) rotate(-55)"><path d="M-3.1,0 V-6.15 A3.1,3.1 0 0 1 3.1,-6.15 V0 Z" fill="#cc989c"/><path d="M-3.1,0 V6.15 A3.1,3.1 0 0 0 3.1,6.15 V0 Z" fill="#6a2127"/></g><g transform="translate(273.4,204.6) rotate(50)"><path d="M-3.1,0 V-6.15 A3.1,3.1 0 0 1 3.1,-6.15 V0 Z" fill="#2f6e5c"/><path d="M-3.1,0 V6.15 A3.1,3.1 0 0 0 3.1,6.15 V0 Z" fill="#8fd3c0"/></g><g transform="translate(346.8,46.4) rotate(-15)"><path d="M-2.7,1.2 l0.4,5 M-1,1.4 l0.2,5 M0.8,1.4 l0,5 M2.5,1.2 l-0.2,5" stroke="#5f768b" stroke-width="0.85" fill="none"/><ellipse cx="0" cy="0" rx="4.8" ry="1.8" fill="#f0a4ac"/><path d="M-0.4,-1.5 c0,-3 -0.6,-5 -3.2,-8.6" fill="none" stroke="#1d1d1d" stroke-width="0.9"/></g><g transform="translate(360.7,52.3) rotate(50)"><path d="M-2.7,1.2 l0.4,5 M-1,1.4 l0.2,5 M0.8,1.4 l0,5 M2.5,1.2 l-0.2,5" stroke="#5f768b" stroke-width="0.85" fill="none"/><ellipse cx="0" cy="0" rx="4.8" ry="1.8" fill="#f0a4ac"/><path d="M-0.4,-1.5 c0,-3 0.7,-5 3.6,-8.6" fill="none" stroke="#1d1d1d" stroke-width="0.9"/></g><g transform="translate(346.0,62.1) rotate(228)"><path d="M-2.7,1.2 l0.4,5 M-1,1.4 l0.2,5 M0.8,1.4 l0,5 M2.5,1.2 l-0.2,5" stroke="#5f768b" stroke-width="0.85" fill="none"/><ellipse cx="0" cy="0" rx="4.8" ry="1.8" fill="#f0a4ac"/><path d="M-0.4,-1.5 c0,-3 0.7,-5 3.6,-8.6" fill="none" stroke="#1d1d1d" stroke-width="0.9"/></g><g transform="translate(360.3,68.0) rotate(159)"><path d="M-2.7,1.2 l0.4,5 M-1,1.4 l0.2,5 M0.8,1.4 l0,5 M2.5,1.2 l-0.2,5" stroke="#5f768b" stroke-width="0.85" fill="none"/><ellipse cx="0" cy="0" rx="4.8" ry="1.8" fill="#f0a4ac"/><path d="M-0.4,-1.5 c0,-3 -0.2,-5 -1.2,-8.6" fill="none" stroke="#1d1d1d" stroke-width="0.9"/></g><text x="322" y="86.5" font-size="7.95" fill="#555" font-family='"Liberation Sans",sans-serif'>PMBN permealized</text><text x="22.3" y="45.3" font-family='"Liberation Sans",sans-serif' font-weight="bold" fill="#1f6a26"><tspan font-size="10.2">HIGH</tspan><tspan font-size="7.9"> accumulation</tspan></text><text x="61.6" y="54.4" font-family='"Liberation Sans",sans-serif' font-weight="bold" fill="#1f6a26" font-size="7.9" text-anchor="middle">molecule</text><text x="113.8" y="45.3" font-family='"Liberation Sans",sans-serif' font-weight="bold" fill="#7a2a31"><tspan font-size="10.2">LOW</tspan><tspan font-size="7.9"> accumulation</tspan></text><text x="152.3" y="54.4" font-family='"Liberation Sans",sans-serif' font-weight="bold" fill="#7a2a31" font-size="7.9" text-anchor="middle">molecule</text><text x="109.3" y="23.4" font-family='"Liberation Sans",sans-serif' font-weight="bold" font-size="15.8" fill="#3e4d68" text-anchor="middle">WT <tspan font-style="italic">E. coli</tspan></text><text x="297.6" y="23.4" font-family='"Liberation Sans",sans-serif' font-weight="bold" font-size="15.6" fill="#3e4d68" text-anchor="middle">PMBN-treated WT <tspan font-style="italic">E. coli</tspan></text><rect x="20.5" y="31.5" width="183" height="181.5" fill="none" stroke="#a3a3a3" stroke-width="1"/><rect x="208.0" y="31.5" width="183" height="181.5" fill="none" stroke="#a3a3a3" stroke-width="1"/><g fill="#d3dbe5" fill-opacity="0.25" stroke="#5a7090" stroke-opacity="0.7" stroke-width="0.7"><circle cx="509.9" cy="142" r="4.0"/><circle cx="522.4" cy="130.6" r="4.0"/><circle cx="519.6" cy="138.1" r="4.0"/><circle cx="525.8" cy="121.5" r="4.0"/><circle cx="522.3" cy="129.7" r="4.0"/><circle cx="521.7" cy="142.6" r="4.0"/><circle cx="516.3" cy="149" r="4.0"/><circle cx="511.3" cy="139.1" r="4.0"/><circle cx="524.8" cy="136.4" r="4.0"/><circle cx="513.4" cy="138.3" r="4.0"/><circle cx="521.8" cy="136.3" r="4.0"/><circle cx="518.8" cy="133.9" r="4.0"/><circle cx="519.7" cy="147.1" r="4.0"/><circle cx="524.5" cy="131.5" r="4.0"/><circle cx="523.8" cy="123.3" r="4.0"/><circle cx="512" cy="149" r="4.0"/><circle cx="519" cy="144.5" r="4.0"/><circle cx="523.1" cy="142" r="4.0"/><circle cx="520.3" cy="133.5" r="4.0"/><circle cx="521" cy="129.4" r="4.0"/><circle cx="527.4" cy="147.1" r="4.0"/><circle cx="527" cy="123.5" r="4.0"/><circle cx="510.7" cy="141.6" r="4.0"/><circle cx="513.6" cy="147.9" r="4.0"/><circle cx="523.4" cy="128.3" r="4.0"/><circle cx="529.4" cy="123.5" r="4.0"/><circle cx="520.7" cy="131.2" r="4.0"/><circle cx="516.8" cy="138.5" r="4.0"/><circle cx="519.8" cy="145" r="4.0"/><circle cx="517.4" cy="132.9" r="4.0"/><circle cx="519.7" cy="142.2" r="4.0"/><circle cx="520.9" cy="124.8" r="4.0"/><circle cx="516.8" cy="133.2" r="4.0"/><circle cx="516.9" cy="137.6" r="4.0"/><circle cx="515.8" cy="137.9" r="4.0"/><circle cx="524.2" cy="132.3" r="4.0"/><circle cx="523.4" cy="143.3" r="4.0"/><circle cx="516.6" cy="138.8" r="4.0"/><circle cx="507.5" cy="153.2" r="4.0"/><circle cx="515.3" cy="129.5" r="4.0"/><circle cx="519.9" cy="128.9" r="4.0"/><circle cx="524.2" cy="133.5" r="4.0"/><circle cx="505.6" cy="136.1" r="4.0"/><circle cx="521.4" cy="149.8" r="4.0"/><circle cx="522" cy="119.1" r="4.0"/><circle cx="512.5" cy="141.3" r="4.0"/><circle cx="512.3" cy="131" r="4.0"/><circle cx="518.3" cy="145.7" r="4.0"/><circle cx="517.7" cy="134.7" r="4.0"/><circle cx="515.2" cy="126.8" r="4.0"/><circle cx="516.2" cy="145.3" r="4.0"/><circle cx="517.3" cy="135" r="4.0"/><circle cx="520" cy="119.2" r="4.0"/><circle cx="517.2" cy="130.3" r="4.0"/><circle cx="517.3" cy="132.9" r="4.0"/><circle cx="524.5" cy="138.7" r="4.0"/><circle cx="524.9" cy="138.3" r="4.0"/><circle cx="516.1" cy="141.6" r="4.0"/><circle cx="510.4" cy="126.4" r="4.0"/><circle cx="517.7" cy="149.3" r="4.0"/><circle cx="521.5" cy="131.6" r="4.0"/><circle cx="512.4" cy="138.2" r="4.0"/><circle cx="521.5" cy="128.7" r="4.0"/><circle cx="518.2" cy="144.9" r="4.0"/><circle cx="522.4" cy="120.6" r="4.0"/><circle cx="516.1" cy="145.4" r="4.0"/><circle cx="519.4" cy="138.6" r="4.0"/><circle cx="516.1" cy="128" r="4.0"/><circle cx="522.1" cy="141" r="4.0"/><circle cx="525" cy="129.4" r="4.0"/><circle cx="513.9" cy="147.7" r="4.0"/><circle cx="516.2" cy="127.2" r="4.0"/><circle cx="518.8" cy="132.8" r="4.0"/><circle cx="523.8" cy="141.8" r="4.0"/><circle cx="516.5" cy="135.7" r="4.0"/><circle cx="519.3" cy="136.9" r="4.0"/><circle cx="514.2" cy="148.7" r="4.0"/><circle cx="509.3" cy="146.2" r="4.0"/><circle cx="525.7" cy="127.4" r="4.0"/><circle cx="513.3" cy="125.6" r="4.0"/><circle cx="521.8" cy="132.2" r="4.0"/><circle cx="521.3" cy="140.3" r="4.0"/><circle cx="513.5" cy="144.9" r="4.0"/><circle cx="515" cy="142.5" r="4.0"/><circle cx="521.7" cy="144" r="4.0"/><circle cx="516" cy="144.5" r="4.0"/><circle cx="526.8" cy="140.9" r="4.0"/><circle cx="519.8" cy="143" r="4.0"/><circle cx="517.2" cy="120.4" r="4.0"/><circle cx="516.6" cy="142.5" r="4.0"/><circle cx="522.6" cy="146.6" r="4.0"/><circle cx="522.2" cy="139.5" r="4.0"/><circle cx="519.4" cy="131.1" r="4.0"/><circle cx="518.7" cy="127.6" r="4.0"/><circle cx="514.9" cy="126.8" r="4.0"/><circle cx="522.7" cy="141.7" r="4.0"/><circle cx="519" cy="152.9" r="4.0"/><circle cx="515.9" cy="138.9" r="4.0"/><circle cx="523.1" cy="141.3" r="4.0"/><circle cx="521" cy="148.1" r="4.0"/><circle cx="517.5" cy="131.6" r="4.0"/><circle cx="521.2" cy="136.2" r="4.0"/><circle cx="512" cy="140.4" r="4.0"/><circle cx="515.6" cy="133.2" r="4.0"/><circle cx="518.3" cy="138.9" r="4.0"/><circle cx="526.8" cy="129.5" r="4.0"/><circle cx="519.5" cy="132.7" r="4.0"/><circle cx="520.9" cy="128.8" r="4.0"/><circle cx="515.3" cy="149.4" r="4.0"/><circle cx="520.5" cy="145.7" r="4.0"/><circle cx="521.9" cy="125.1" r="4.0"/><circle cx="521" cy="144" r="4.0"/><circle cx="518.9" cy="143.4" r="4.0"/><circle cx="512.3" cy="145.4" r="4.0"/><circle cx="517.8" cy="147" r="4.0"/><circle cx="519.7" cy="140.9" r="4.0"/><circle cx="519.7" cy="146.2" r="4.0"/><circle cx="522.9" cy="140.6" r="4.0"/><circle cx="519.2" cy="127.1" r="4.0"/><circle cx="519.7" cy="134.6" r="4.0"/><circle cx="518.1" cy="131.7" r="4.0"/><circle cx="518.1" cy="126.5" r="4.0"/><circle cx="518.3" cy="151.3" r="4.0"/><circle cx="521.7" cy="136.4" r="4.0"/><circle cx="519.9" cy="130.6" r="4.0"/><circle cx="519.2" cy="134.6" r="4.0"/><circle cx="513.2" cy="140.9" r="4.0"/><circle cx="517.6" cy="142.3" r="4.0"/><circle cx="515.2" cy="154.1" r="4.0"/><circle cx="517.5" cy="143.6" r="4.0"/><circle cx="518.2" cy="142.2" r="4.0"/><circle cx="523.3" cy="137.4" r="4.0"/><circle cx="517.1" cy="138.3" r="4.0"/><circle cx="511.4" cy="135.3" r="4.0"/><circle cx="523.5" cy="144.3" r="4.0"/><circle cx="519.6" cy="131.3" r="4.0"/><circle cx="519.4" cy="126.6" r="4.0"/><circle cx="517" cy="137.6" r="4.0"/><circle cx="521.3" cy="150.1" r="4.0"/><circle cx="517.9" cy="137.1" r="4.0"/><circle cx="515.6" cy="138.3" r="4.0"/><circle cx="517.5" cy="154.1" r="4.0"/><circle cx="526.7" cy="117.6" r="4.0"/><circle cx="514.5" cy="137.9" r="4.0"/><circle cx="520" cy="135.3" r="4.0"/><circle cx="521.6" cy="136.5" r="4.0"/><circle cx="522.1" cy="143.3" r="4.0"/><circle cx="516.6" cy="134.2" r="4.0"/><circle cx="519.5" cy="137.8" r="4.0"/><circle cx="519.9" cy="129.3" r="4.0"/><circle cx="528.9" cy="130.7" r="4.0"/><circle cx="509.8" cy="149" r="4.0"/><circle cx="514.9" cy="134.8" r="4.0"/><circle cx="512.4" cy="134.6" r="4.0"/><circle cx="523.9" cy="134.4" r="4.0"/><circle cx="515.8" cy="126.4" r="4.0"/><circle cx="521.6" cy="138.1" r="4.0"/><circle cx="518.2" cy="120.5" r="4.0"/><circle cx="522.3" cy="142.5" r="4.0"/><circle cx="514.1" cy="138.5" r="4.0"/><circle cx="513.5" cy="126.9" r="4.0"/><circle cx="521.8" cy="141.1" r="4.0"/><circle cx="521" cy="140.7" r="4.0"/><circle cx="520.9" cy="145.6" r="4.0"/><circle cx="525.6" cy="131.6" r="4.0"/><circle cx="516.8" cy="137.5" r="4.0"/><circle cx="522.5" cy="136.3" r="4.0"/><circle cx="517.4" cy="141.6" r="4.0"/><circle cx="525.3" cy="119.5" r="4.0"/><circle cx="517.6" cy="129.6" r="4.0"/><circle cx="515.2" cy="128.4" r="4.0"/><circle cx="514" cy="147.8" r="4.0"/><circle cx="521.6" cy="123.9" r="4.0"/><circle cx="516.5" cy="143.2" r="4.0"/><circle cx="523.9" cy="131.8" r="4.0"/><circle cx="522.9" cy="148.9" r="4.0"/><circle cx="517.2" cy="127.9" r="4.0"/><circle cx="520" cy="138.8" r="4.0"/><circle cx="518.7" cy="137.9" r="4.0"/><circle cx="510.7" cy="144.2" r="4.0"/><circle cx="524.1" cy="115.6" r="4.0"/><circle cx="520.9" cy="133.7" r="4.0"/><circle cx="524.4" cy="124.6" r="4.0"/><circle cx="517.4" cy="144" r="4.0"/><circle cx="521.6" cy="134.9" r="4.0"/><circle cx="519.5" cy="140.4" r="4.0"/><circle cx="524.3" cy="133.7" r="4.0"/><circle cx="516.8" cy="156.9" r="4.0"/><circle cx="521.7" cy="132.7" r="4.0"/><circle cx="515.3" cy="135.6" r="4.0"/><circle cx="521" cy="130" r="4.0"/><circle cx="512.6" cy="142.4" r="4.0"/><circle cx="515.9" cy="130.9" r="4.0"/><circle cx="525.5" cy="130.2" r="4.0"/><circle cx="519.7" cy="133.8" r="4.0"/><circle cx="524.2" cy="134.5" r="4.0"/><circle cx="521.2" cy="124" r="4.0"/><circle cx="519.8" cy="129.4" r="4.0"/><circle cx="521.1" cy="139.6" r="4.0"/><circle cx="515.1" cy="136.2" r="4.0"/><circle cx="521.6" cy="147.8" r="4.0"/><circle cx="513.5" cy="143.4" r="4.0"/><circle cx="521.1" cy="137.7" r="4.0"/><circle cx="520.1" cy="149.7" r="4.0"/><circle cx="514.3" cy="132.3" r="4.0"/><circle cx="517.1" cy="144.9" r="4.0"/><circle cx="521.2" cy="119.6" r="4.0"/><circle cx="523.8" cy="126.6" r="4.0"/><circle cx="517.7" cy="148.5" r="4.0"/><circle cx="518" cy="127.4" r="4.0"/><circle cx="516.2" cy="125.5" r="4.0"/><circle cx="516" cy="147.6" r="4.0"/><circle cx="518" cy="130.1" r="4.0"/><circle cx="513.8" cy="127.9" r="4.0"/><circle cx="523.4" cy="140.3" r="4.0"/><circle cx="517.9" cy="155.6" r="4.0"/><circle cx="515" cy="142.8" r="4.0"/><circle cx="512.3" cy="138.2" r="4.0"/><circle cx="522.2" cy="127.9" r="4.0"/><circle cx="521.1" cy="125.5" r="4.0"/><circle cx="520.5" cy="143.2" r="4.0"/><circle cx="514.2" cy="146.5" r="4.0"/><circle cx="526.9" cy="118.2" r="4.0"/><circle cx="525.1" cy="131.8" r="4.0"/><circle cx="520.5" cy="137.8" r="4.0"/><circle cx="516.7" cy="142.1" r="4.0"/><circle cx="524.6" cy="134.7" r="4.0"/><circle cx="522.2" cy="141.2" r="4.0"/><circle cx="511.6" cy="135.5" r="4.0"/><circle cx="514.7" cy="151.3" r="4.0"/><circle cx="521.2" cy="126.6" r="4.0"/><circle cx="522.7" cy="120.5" r="4.0"/><circle cx="522" cy="123.7" r="4.0"/><circle cx="520.8" cy="142.9" r="4.0"/><circle cx="512.4" cy="141.5" r="4.0"/><circle cx="516.5" cy="141.6" r="4.0"/><circle cx="522.3" cy="133.4" r="4.0"/><circle cx="527.8" cy="130.4" r="4.0"/><circle cx="516.7" cy="151.5" r="4.0"/><circle cx="522.7" cy="114.1" r="4.0"/><circle cx="514.9" cy="145.7" r="4.0"/><circle cx="516" cy="143.4" r="4.0"/><circle cx="516.3" cy="121.1" r="4.0"/><circle cx="523.7" cy="141.1" r="4.0"/><circle cx="520.4" cy="132.9" r="4.0"/><circle cx="521.9" cy="138.4" r="4.0"/><circle cx="521.7" cy="143.7" r="4.0"/><circle cx="518.1" cy="134.3" r="4.0"/><circle cx="521.9" cy="139.7" r="4.0"/><circle cx="517.6" cy="132.5" r="4.0"/><circle cx="514.7" cy="134.3" r="4.0"/><circle cx="526.2" cy="124.8" r="4.0"/><circle cx="521.5" cy="125.9" r="4.0"/><circle cx="514.1" cy="131.1" r="4.0"/><circle cx="517.3" cy="138.3" r="4.0"/><circle cx="521" cy="136.3" r="4.0"/><circle cx="515.3" cy="138.9" r="4.0"/><circle cx="519.4" cy="125.3" r="4.0"/><circle cx="510.2" cy="140.5" r="4.0"/><circle cx="517" cy="146.5" r="4.0"/><circle cx="504.6" cy="134.8" r="4.0"/><circle cx="520.9" cy="138.9" r="4.0"/><circle cx="518.4" cy="145.8" r="4.0"/><circle cx="516.6" cy="118.9" r="4.0"/><circle cx="512.8" cy="162.6" r="4.0"/><circle cx="517.1" cy="151.2" r="4.0"/><circle cx="527" cy="129" r="4.0"/><circle cx="530.1" cy="134.3" r="4.0"/><circle cx="527.2" cy="133.7" r="4.0"/><circle cx="521.2" cy="133.9" r="4.0"/><circle cx="517.9" cy="145.9" r="4.0"/><circle cx="515.5" cy="146.9" r="4.0"/><circle cx="527.5" cy="137.8" r="4.0"/><circle cx="523" cy="142.4" r="4.0"/><circle cx="514.4" cy="156.3" r="4.0"/><circle cx="524.7" cy="120.9" r="4.0"/><circle cx="515.2" cy="164.4" r="4.0"/><circle cx="508.5" cy="142.3" r="4.0"/><circle cx="508" cy="163.6" r="4.0"/><circle cx="522.8" cy="153.9" r="4.0"/><circle cx="524.6" cy="130.7" r="4.0"/><circle cx="503.6" cy="123.6" r="4.0"/><circle cx="520.7" cy="142.7" r="4.0"/><circle cx="512.8" cy="148.3" r="4.0"/><circle cx="519" cy="150.1" r="4.0"/><circle cx="528" cy="139.7" r="4.0"/><circle cx="520.7" cy="133.3" r="4.0"/><circle cx="511.9" cy="139.2" r="4.0"/><circle cx="525" cy="137.1" r="4.0"/><circle cx="510.7" cy="132.2" r="4.0"/><circle cx="521.7" cy="160.1" r="4.0"/><circle cx="520.9" cy="136.1" r="4.0"/><circle cx="523.5" cy="150.8" r="4.0"/><circle cx="517.9" cy="128.6" r="4.0"/><circle cx="512.3" cy="130.6" r="4.0"/><circle cx="502.2" cy="139.9" r="4.0"/><circle cx="537.8" cy="142.7" r="4.0"/><circle cx="533.7" cy="128.7" r="4.0"/><circle cx="521.7" cy="130.4" r="4.0"/><circle cx="515.7" cy="135.3" r="4.0"/><circle cx="514.4" cy="128.1" r="4.0"/><circle cx="544.7" cy="137.6" r="4.0"/><circle cx="516" cy="131.2" r="4.0"/><circle cx="525.1" cy="123.2" r="4.0"/><circle cx="509.5" cy="141.9" r="4.0"/><circle cx="515" cy="140.5" r="4.0"/><circle cx="521.7" cy="137.5" r="4.0"/><circle cx="511.7" cy="134.1" r="4.0"/><circle cx="523.1" cy="130.9" r="4.0"/><circle cx="519.2" cy="159" r="4.0"/><circle cx="521.5" cy="139.5" r="4.0"/><circle cx="514.7" cy="153.8" r="4.0"/><circle cx="508.3" cy="141.9" r="4.0"/><circle cx="517.1" cy="131.4" r="4.0"/><circle cx="511.1" cy="133.2" r="4.0"/><circle cx="523.3" cy="91.9" r="4.0"/><circle cx="522.7" cy="98.7" r="4.0"/><circle cx="536.7" cy="88.7" r="4.0"/><circle cx="536.7" cy="87.3" r="4.0"/><circle cx="537.9" cy="94.6" r="4.0"/><circle cx="527.8" cy="116.6" r="4.0"/><circle cx="529.2" cy="69.9" r="4.0"/><circle cx="525.3" cy="110.6" r="4.0"/><circle cx="536.2" cy="73.6" r="4.0"/><circle cx="525" cy="95.8" r="4.0"/><circle cx="544.5" cy="69" r="4.0"/><circle cx="522.1" cy="93.7" r="4.0"/><circle cx="533" cy="114.7" r="4.0"/><circle cx="525.7" cy="107.5" r="4.0"/><circle cx="525.9" cy="72.5" r="4.0"/><circle cx="531" cy="85.9" r="4.0"/><circle cx="523.7" cy="104.1" r="4.0"/><circle cx="527.6" cy="101.5" r="4.0"/><circle cx="532" cy="72.9" r="4.0"/><circle cx="528.1" cy="85.4" r="4.0"/><circle cx="529.7" cy="98.2" r="4.0"/><circle cx="530.7" cy="81.6" r="4.0"/><circle cx="526.4" cy="93" r="4.0"/><circle cx="521" cy="93.8" r="4.0"/><circle cx="528.4" cy="112.7" r="4.0"/><circle cx="520.1" cy="93.6" r="4.0"/><circle cx="541.4" cy="72" r="4.0"/><circle cx="528.2" cy="101.6" r="4.0"/><circle cx="522" cy="98.2" r="4.0"/><circle cx="534.7" cy="78.4" r="4.0"/><circle cx="535.3" cy="79.5" r="4.0"/><circle cx="531.2" cy="101.2" r="4.0"/><circle cx="521.3" cy="101.1" r="4.0"/><circle cx="537.1" cy="83.2" r="4.0"/><circle cx="526" cy="93.6" r="4.0"/><circle cx="531.1" cy="92.6" r="4.0"/><circle cx="526.2" cy="113.5" r="4.0"/><circle cx="536.9" cy="80.3" r="4.0"/><circle cx="523.7" cy="88.7" r="4.0"/><circle cx="541.9" cy="73.7" r="4.0"/><circle cx="540.3" cy="65.6" r="4.0"/><circle cx="520.2" cy="109" r="4.0"/><circle cx="537.2" cy="69.6" r="4.0"/><circle cx="533.2" cy="95.7" r="4.0"/><circle cx="525.2" cy="106.5" r="4.0"/><circle cx="522.3" cy="105" r="4.0"/><circle cx="526.6" cy="85" r="4.0"/><circle cx="520" cy="109.9" r="4.0"/><circle cx="534.1" cy="89.3" r="4.0"/><circle cx="523" cy="105.8" r="4.0"/><circle cx="531.3" cy="74.4" r="4.0"/><circle cx="535.4" cy="77.9" r="4.0"/><circle cx="535.3" cy="107.2" r="4.0"/><circle cx="539.6" cy="66.5" r="4.0"/><circle cx="525" cy="110" r="4.0"/><circle cx="518.2" cy="108" r="4.0"/><circle cx="523.4" cy="109.8" r="4.0"/><circle cx="528.7" cy="92.2" r="4.0"/><circle cx="534.3" cy="73.8" r="4.0"/><circle cx="529.2" cy="108.2" r="4.0"/><circle cx="528.5" cy="94.2" r="4.0"/><circle cx="526.9" cy="79.5" r="4.0"/><circle cx="522.9" cy="100.1" r="4.0"/><circle cx="528.5" cy="83.9" r="4.0"/><circle cx="542.2" cy="70.8" r="4.0"/><circle cx="550.5" cy="75.2" r="4.0"/><circle cx="525.8" cy="91.6" r="4.0"/><circle cx="522.9" cy="112.8" r="4.0"/><circle cx="523.4" cy="108.5" r="4.0"/><circle cx="532.2" cy="78" r="4.0"/><circle cx="517.8" cy="105.9" r="4.0"/><circle cx="525.6" cy="102.8" r="4.0"/><circle cx="531.2" cy="74.1" r="4.0"/><circle cx="526.9" cy="111.7" r="4.0"/><circle cx="521.6" cy="91.4" r="4.0"/><circle cx="535.9" cy="78.9" r="4.0"/><circle cx="523.2" cy="108.4" r="4.0"/><circle cx="523.5" cy="104.5" r="4.0"/><circle cx="526.4" cy="108.2" r="4.0"/><circle cx="516.3" cy="113.7" r="4.0"/><circle cx="524.9" cy="94.6" r="4.0"/><circle cx="529.1" cy="92.1" r="4.0"/><circle cx="527.3" cy="99.7" r="4.0"/><circle cx="514.1" cy="107.9" r="4.0"/><circle cx="520.9" cy="97.8" r="4.0"/><circle cx="541.4" cy="76.9" r="4.0"/><circle cx="532.5" cy="82.5" r="4.0"/><circle cx="539.9" cy="71.5" r="4.0"/><circle cx="525.5" cy="86.4" r="4.0"/><circle cx="526.3" cy="101" r="4.0"/><circle cx="523.5" cy="107.9" r="4.0"/><circle cx="535.5" cy="70.6" r="4.0"/><circle cx="530.1" cy="112.4" r="4.0"/><circle cx="521.5" cy="97.6" r="4.0"/><circle cx="521.9" cy="79.6" r="4.0"/><circle cx="544" cy="67.5" r="4.0"/><circle cx="519.2" cy="96.7" r="4.0"/><circle cx="541.4" cy="75" r="4.0"/><circle cx="530.3" cy="77.5" r="4.0"/><circle cx="536.2" cy="79.9" r="4.0"/><circle cx="530.7" cy="93.5" r="4.0"/><circle cx="531.7" cy="103.5" r="4.0"/><circle cx="512.8" cy="105.8" r="4.0"/><circle cx="532" cy="70.6" r="4.0"/><circle cx="524.3" cy="104.4" r="4.0"/><circle cx="535" cy="80.9" r="4.0"/><circle cx="565.9" cy="69.5" r="4.0"/><circle cx="521.1" cy="106.6" r="4.0"/><circle cx="545.5" cy="69.6" r="4.0"/><circle cx="516.6" cy="85.5" r="4.0"/><circle cx="537.2" cy="95.3" r="4.0"/><circle cx="537.8" cy="77.7" r="4.0"/><circle cx="514.1" cy="92.8" r="4.0"/><circle cx="527.6" cy="99.6" r="4.0"/><circle cx="531.3" cy="115.3" r="4.0"/><circle cx="543" cy="66.7" r="4.0"/><circle cx="521.7" cy="98.1" r="4.0"/><circle cx="513" cy="114.3" r="4.0"/><circle cx="504" cy="95.8" r="4.0"/><circle cx="538.5" cy="75" r="4.0"/><circle cx="519.9" cy="92.3" r="4.0"/><circle cx="544.7" cy="92" r="4.0"/><circle cx="518.1" cy="86.5" r="4.0"/><circle cx="538.7" cy="99.2" r="4.0"/><circle cx="524.4" cy="95.7" r="4.0"/><circle cx="529" cy="109.8" r="4.0"/><circle cx="530" cy="107.5" r="4.0"/><circle cx="536.5" cy="73.8" r="4.0"/><circle cx="545.7" cy="111.3" r="4.0"/><circle cx="531.1" cy="77.6" r="4.0"/><circle cx="540.8" cy="88.1" r="4.0"/><circle cx="531.8" cy="69.5" r="4.0"/><circle cx="538.4" cy="95" r="4.0"/><circle cx="560.3" cy="65.8" r="4.0"/><circle cx="522.7" cy="73.3" r="4.0"/><circle cx="532.9" cy="112.5" r="4.0"/><circle cx="529.4" cy="117.4" r="4.0"/><circle cx="515.1" cy="107.9" r="4.0"/><circle cx="528.2" cy="111" r="4.0"/><circle cx="526.2" cy="94.4" r="4.0"/><circle cx="534.6" cy="115.2" r="4.0"/><circle cx="518.3" cy="116.3" r="4.0"/><circle cx="526.5" cy="74.5" r="4.0"/><circle cx="543.2" cy="102.5" r="4.0"/><circle cx="540" cy="106" r="4.0"/><circle cx="508.9" cy="102.6" r="4.0"/><circle cx="539.7" cy="70.7" r="4.0"/><circle cx="530.1" cy="71.5" r="4.0"/><circle cx="539" cy="75.5" r="4.0"/><circle cx="537.4" cy="104.6" r="4.0"/><circle cx="552.8" cy="63.7" r="4.0"/><circle cx="551.9" cy="59.9" r="4.0"/><circle cx="544.6" cy="62.6" r="4.0"/><circle cx="564.3" cy="49.8" r="4.0"/><circle cx="568.7" cy="46.5" r="4.0"/><circle cx="542.1" cy="62.6" r="4.0"/><circle cx="543.8" cy="62.1" r="4.0"/><circle cx="576.7" cy="48.8" r="4.0"/><circle cx="569.8" cy="56.6" r="4.0"/><circle cx="556.3" cy="60.2" r="4.0"/><circle cx="555.1" cy="58.2" r="4.0"/><circle cx="569.8" cy="54.9" r="4.0"/><circle cx="550.1" cy="52.7" r="4.0"/><circle cx="525.7" cy="62.1" r="4.0"/><circle cx="542.3" cy="65.8" r="4.0"/><circle cx="563.2" cy="50.9" r="4.0"/><circle cx="552.3" cy="59.2" r="4.0"/><circle cx="544" cy="56.1" r="4.0"/><circle cx="541.7" cy="59.6" r="4.0"/><circle cx="541.6" cy="57.8" r="4.0"/><circle cx="569.2" cy="44.7" r="4.0"/><circle cx="562.8" cy="45.9" r="4.0"/><circle cx="578.4" cy="49.4" r="4.0"/><circle cx="584.5" cy="46.3" r="4.0"/><circle cx="571.9" cy="47.8" r="4.0"/><circle cx="558.8" cy="43.5" r="4.0"/><circle cx="551.6" cy="63.8" r="4.0"/><circle cx="576" cy="60.6" r="4.0"/><circle cx="574.7" cy="47.6" r="4.0"/><circle cx="564.7" cy="66.3" r="4.0"/><circle cx="544.5" cy="53.2" r="4.0"/><circle cx="547.1" cy="64.7" r="4.0"/><circle cx="549.4" cy="43.3" r="4.0"/><circle cx="557.7" cy="61.4" r="4.0"/><circle cx="540.1" cy="64.5" r="4.0"/><circle cx="561.5" cy="52.9" r="4.0"/><circle cx="543.7" cy="53.4" r="4.0"/><circle cx="535" cy="68.5" r="4.0"/><circle cx="549.1" cy="67.9" r="4.0"/><circle cx="547" cy="66.5" r="4.0"/><circle cx="541.2" cy="67" r="4.0"/><circle cx="567.2" cy="53.1" r="4.0"/><circle cx="561.1" cy="63.4" r="4.0"/><circle cx="551.8" cy="64.7" r="4.0"/><circle cx="580.6" cy="44.8" r="4.0"/><circle cx="585.9" cy="43.7" r="4.0"/><circle cx="571.1" cy="48.8" r="4.0"/><circle cx="548" cy="54.9" r="4.0"/><circle cx="546.5" cy="50.9" r="4.0"/><circle cx="574.8" cy="46.1" r="4.0"/><circle cx="545.3" cy="59.1" r="4.0"/><circle cx="541" cy="67.1" r="4.0"/><circle cx="558.4" cy="50.9" r="4.0"/><circle cx="558" cy="56.7" r="4.0"/><circle cx="536.2" cy="66.3" r="4.0"/><circle cx="548.1" cy="63.4" r="4.0"/><circle cx="536.3" cy="60.9" r="4.0"/><circle cx="559.5" cy="53.3" r="4.0"/><circle cx="544.6" cy="66.2" r="4.0"/><circle cx="540.5" cy="63.7" r="4.0"/><circle cx="537.9" cy="58.2" r="4.0"/><circle cx="548.7" cy="55.8" r="4.0"/><circle cx="555.3" cy="51.9" r="4.0"/><circle cx="559.8" cy="47.6" r="4.0"/><circle cx="562.8" cy="63.2" r="4.0"/><circle cx="579" cy="47.7" r="4.0"/><circle cx="544.2" cy="56.7" r="4.0"/><circle cx="544.9" cy="62.5" r="4.0"/><circle cx="558.1" cy="59.5" r="4.0"/><circle cx="547.4" cy="49.9" r="4.0"/><circle cx="548.2" cy="58.8" r="4.0"/><circle cx="540.5" cy="65.5" r="4.0"/><circle cx="543.7" cy="58.8" r="4.0"/><circle cx="559.2" cy="56.4" r="4.0"/><circle cx="552.8" cy="60.3" r="4.0"/><circle cx="561.2" cy="49.8" r="4.0"/><circle cx="553" cy="52.6" r="4.0"/><circle cx="545.6" cy="59" r="4.0"/><circle cx="557.4" cy="45" r="4.0"/><circle cx="582.2" cy="43.6" r="4.0"/><circle cx="596.5" cy="36.1" r="4.0"/><circle cx="564.5" cy="45.2" r="4.0"/><circle cx="624.9" cy="37.9" r="4.0"/><circle cx="564.5" cy="43.4" r="4.0"/><circle cx="625.4" cy="36.2" r="4.0"/><circle cx="608.6" cy="35.9" r="4.0"/><circle cx="628.6" cy="36.9" r="4.0"/><circle cx="603.4" cy="36.8" r="4.0"/><circle cx="607.5" cy="36.5" r="4.0"/><circle cx="617.3" cy="37.9" r="4.0"/><circle cx="599.5" cy="35.9" r="4.0"/><circle cx="622" cy="37.2" r="4.0"/><circle cx="612" cy="38.1" r="4.0"/><circle cx="573.3" cy="42.6" r="4.0"/><circle cx="626.5" cy="38" r="4.0"/><circle cx="630.3" cy="37.5" r="4.0"/><circle cx="576.4" cy="42.5" r="4.0"/><circle cx="592.4" cy="36.8" r="4.0"/><circle cx="622.1" cy="38.5" r="4.0"/><circle cx="565.4" cy="43.4" r="4.0"/><circle cx="596" cy="38.7" r="4.0"/><circle cx="600.8" cy="36.7" r="4.0"/><circle cx="628.6" cy="38.1" r="4.0"/><circle cx="575.1" cy="42.3" r="4.0"/><circle cx="623.7" cy="36.9" r="4.0"/><circle cx="601.6" cy="36" r="4.0"/><circle cx="577.9" cy="40.1" r="4.0"/><circle cx="598.7" cy="37" r="4.0"/><circle cx="566.4" cy="43.9" r="4.0"/><circle cx="582" cy="42.2" r="4.0"/><circle cx="589.4" cy="39.4" r="4.0"/><circle cx="570.6" cy="42.9" r="4.0"/><circle cx="605.1" cy="37.1" r="4.0"/><circle cx="601.6" cy="36" r="4.0"/><circle cx="607.9" cy="37.7" r="4.0"/><circle cx="602.5" cy="38.1" r="4.0"/><circle cx="591.5" cy="38.8" r="4.0"/><circle cx="619" cy="37.9" r="4.0"/><circle cx="620.2" cy="36.2" r="4.0"/><circle cx="596.4" cy="36.5" r="4.0"/><circle cx="595" cy="36.3" r="4.0"/><circle cx="603.8" cy="36.2" r="4.0"/><circle cx="626.7" cy="36.3" r="4.0"/><circle cx="595.5" cy="36.9" r="4.0"/><circle cx="621.9" cy="36.3" r="4.0"/><circle cx="595" cy="36.3" r="4.0"/><circle cx="567.9" cy="42.9" r="4.0"/><circle cx="615.3" cy="36.5" r="4.0"/><circle cx="618.2" cy="36.4" r="4.0"/><circle cx="600.7" cy="38" r="4.0"/><circle cx="611.9" cy="36.5" r="4.0"/><circle cx="580.2" cy="39.7" r="4.0"/><circle cx="612.7" cy="36.6" r="4.0"/><circle cx="583.3" cy="39.1" r="4.0"/><circle cx="575.8" cy="41.1" r="4.0"/><circle cx="626.9" cy="37.2" r="4.0"/><circle cx="583.7" cy="39.8" r="4.0"/><circle cx="601.1" cy="37.4" r="4.0"/><circle cx="615.3" cy="37.6" r="4.0"/><circle cx="612.7" cy="37.5" r="4.0"/><circle cx="592.2" cy="37" r="4.0"/><circle cx="594.8" cy="37.2" r="4.0"/><circle cx="573.7" cy="42.9" r="4.0"/><circle cx="610.4" cy="37.5" r="4.0"/><circle cx="618.6" cy="37.4" r="4.0"/><circle cx="573.1" cy="41.6" r="4.0"/><circle cx="616.3" cy="37.4" r="4.0"/><circle cx="568.4" cy="44" r="4.0"/><circle cx="567.4" cy="44.4" r="4.0"/><circle cx="568" cy="42.9" r="4.0"/><circle cx="580.7" cy="42" r="4.0"/><circle cx="566.8" cy="46.4" r="4.0"/><circle cx="614.3" cy="37" r="4.0"/><circle cx="612.5" cy="37.7" r="4.0"/><circle cx="596.4" cy="37.1" r="4.0"/><circle cx="630.9" cy="36.2" r="4.0"/><circle cx="631.1" cy="35.6" r="4.0"/><circle cx="630" cy="35.9" r="4.0"/><circle cx="629.6" cy="36.4" r="4.0"/><circle cx="630.9" cy="36.1" r="4.0"/><circle cx="630.1" cy="36.1" r="4.0"/><circle cx="630.3" cy="36" r="4.0"/><circle cx="630.3" cy="35.9" r="4.0"/><circle cx="521.6" cy="36.4" r="4.0"/><circle cx="523" cy="36.4" r="4.0"/><circle cx="525.7" cy="36.4" r="4.0"/><circle cx="528.3" cy="36.4" r="4.0"/><circle cx="530.1" cy="36.4" r="4.0"/><circle cx="505.5" cy="48.2" r="4.0"/><circle cx="518.4" cy="44.9" r="4.0"/><circle cx="556.5" cy="106.2" r="4.0"/><circle cx="552.8" cy="109.7" r="4.0"/><circle cx="575" cy="82.7" r="4.0"/></g><line x1="495" y1="164.8" x2="642.6" y2="24.1" stroke="#f06b6b" stroke-opacity="0.85" stroke-width="2"/><path d="M483,12.4 V176.8 H655" fill="none" stroke="#000" stroke-width="1.8"/><line x1="478.8" y1="176.6" x2="483" y2="176.6" stroke="#000" stroke-width="1.4"/><line x1="478.8" y1="153.1" x2="483" y2="153.1" stroke="#000" stroke-width="1.4"/><line x1="478.8" y1="129.6" x2="483" y2="129.6" stroke="#000" stroke-width="1.4"/><line x1="478.8" y1="106.2" x2="483" y2="106.2" stroke="#000" stroke-width="1.4"/><line x1="478.8" y1="82.7" x2="483" y2="82.7" stroke="#000" stroke-width="1.4"/><line x1="478.8" y1="59.3" x2="483" y2="59.3" stroke="#000" stroke-width="1.4"/><line x1="478.8" y1="35.8" x2="483" y2="35.8" stroke="#000" stroke-width="1.4"/><line x1="478.8" y1="12.4" x2="483" y2="12.4" stroke="#000" stroke-width="1.4"/><line x1="482.7" y1="176.8" x2="482.7" y2="181" stroke="#000" stroke-width="1.4"/><line x1="507.3" y1="176.8" x2="507.3" y2="181" stroke="#000" stroke-width="1.4"/><line x1="531.9" y1="176.8" x2="531.9" y2="181" stroke="#000" stroke-width="1.4"/><line x1="556.5" y1="176.8" x2="556.5" y2="181" stroke="#000" stroke-width="1.4"/><line x1="581.1" y1="176.8" x2="581.1" y2="181" stroke="#000" stroke-width="1.4"/><line x1="605.7" y1="176.8" x2="605.7" y2="181" stroke="#000" stroke-width="1.4"/><line x1="630.3" y1="176.8" x2="630.3" y2="181" stroke="#000" stroke-width="1.4"/><line x1="654.9" y1="176.8" x2="654.9" y2="181" stroke="#000" stroke-width="1.4"/><text x="471" y="181.6" font-size="14" text-anchor="end" font-family='"Liberation Sans",sans-serif'>-20</text><text x="471" y="158.1" font-size="14" text-anchor="end" font-family='"Liberation Sans",sans-serif'>0</text><text x="471" y="134.6" font-size="14" text-anchor="end" font-family='"Liberation Sans",sans-serif'>20</text><text x="471" y="111.2" font-size="14" text-anchor="end" font-family='"Liberation Sans",sans-serif'>40</text><text x="471" y="87.7" font-size="14" text-anchor="end" font-family='"Liberation Sans",sans-serif'>60</text><text x="471" y="64.3" font-size="14" text-anchor="end" font-family='"Liberation Sans",sans-serif'>80</text><text x="471" y="40.8" font-size="14" text-anchor="end" font-family='"Liberation Sans",sans-serif'>100</text><text x="471" y="17.4" font-size="14" text-anchor="end" font-family='"Liberation Sans",sans-serif'>120</text><text x="482.7" y="196.6" font-size="14" text-anchor="middle" font-family='"Liberation Sans",sans-serif'>-20</text><text x="507.3" y="196.6" font-size="14" text-anchor="middle" font-family='"Liberation Sans",sans-serif'>0</text><text x="531.9" y="196.6" font-size="14" text-anchor="middle" font-family='"Liberation Sans",sans-serif'>20</text><text x="556.5" y="196.6" font-size="14" text-anchor="middle" font-family='"Liberation Sans",sans-serif'>40</text><text x="581.1" y="196.6" font-size="14" text-anchor="middle" font-family='"Liberation Sans",sans-serif'>60</text><text x="605.7" y="196.6" font-size="14" text-anchor="middle" font-family='"Liberation Sans",sans-serif'>80</text><text x="630.3" y="196.6" font-size="14" text-anchor="middle" font-family='"Liberation Sans",sans-serif'>100</text><text x="654.9" y="196.6" font-size="14" text-anchor="middle" font-family='"Liberation Sans",sans-serif'>120</text><text x="568" y="217.7" font-size="15.6" text-anchor="middle" font-family='"Liberation Sans",sans-serif'>apparent accumulation</text><text x="568.8" y="233.5" font-size="13.4" text-anchor="middle" fill="#4e6285" font-family='"Liberation Sans",sans-serif'>WT rough <tspan font-style="italic">E. coli</tspan></text><text transform="translate(426.4,97.2) rotate(-90)" font-size="15.6" fill="#000" font-family='"Liberation Sans",sans-serif' text-anchor="middle" >apparent accumulation</text><text transform="translate(442.6,96) rotate(-90)" font-size="13.5" fill="#4e6285" font-family='"Liberation Sans",sans-serif' text-anchor="middle" >PMBN-treated rough <tspan font-style="italic">E. coli</tspan></text><text x="-1" y="233.7" font-size="22" font-weight="bold" fill="#2b54a2" font-family='"Liberation Sans",sans-serif'>c</text><path d="M62,254.1 V416.2 H227.6" fill="none" stroke="#000" stroke-width="1.8"/><line x1="57.8" y1="416.2" x2="62" y2="416.2" stroke="#000" stroke-width="1.4"/><line x1="57.8" y1="379.4" x2="62" y2="379.4" stroke="#000" stroke-width="1.4"/><line x1="57.8" y1="342.6" x2="62" y2="342.6" stroke="#000" stroke-width="1.4"/><line x1="57.8" y1="305.8" x2="62" y2="305.8" stroke="#000" stroke-width="1.4"/><line x1="57.8" y1="269" x2="62" y2="269" stroke="#000" stroke-width="1.4"/><line x1="62" y1="416.2" x2="62" y2="420.4" stroke="#000" stroke-width="1.4"/><line x1="89.6" y1="416.2" x2="89.6" y2="420.4" stroke="#000" stroke-width="1.4"/><line x1="117.2" y1="416.2" x2="117.2" y2="420.4" stroke="#000" stroke-width="1.4"/><line x1="144.8" y1="416.2" x2="144.8" y2="420.4" stroke="#000" stroke-width="1.4"/><line x1="172.4" y1="416.2" x2="172.4" y2="420.4" stroke="#000" stroke-width="1.4"/><line x1="200" y1="416.2" x2="200" y2="420.4" stroke="#000" stroke-width="1.4"/><line x1="227.6" y1="416.2" x2="227.6" y2="420.4" stroke="#000" stroke-width="1.4"/><text x="50.5" y="420.5" font-size="13.6" text-anchor="end" font-family='"Liberation Sans",sans-serif'>80</text><text x="50.5" y="383.7" font-size="13.6" text-anchor="end" font-family='"Liberation Sans",sans-serif'>130</text><text x="50.5" y="346.9" font-size="13.6" text-anchor="end" font-family='"Liberation Sans",sans-serif'>180</text><text x="50.5" y="310.1" font-size="13.6" text-anchor="end" font-family='"Liberation Sans",sans-serif'>230</text><text x="50.5" y="273.3" font-size="13.6" text-anchor="end" font-family='"Liberation Sans",sans-serif'>280</text><text x="62" y="436.2" font-size="13.6" text-anchor="middle" font-family='"Liberation Sans",sans-serif'>-20</text><text x="89.6" y="436.2" font-size="13.6" text-anchor="middle" font-family='"Liberation Sans",sans-serif'>0</text><text x="117.2" y="436.2" font-size="13.6" text-anchor="middle" font-family='"Liberation Sans",sans-serif'>20</text><text x="144.8" y="436.2" font-size="13.6" text-anchor="middle" font-family='"Liberation Sans",sans-serif'>40</text><text x="172.4" y="436.2" font-size="13.6" text-anchor="middle" font-family='"Liberation Sans",sans-serif'>60</text><text x="200" y="436.2" font-size="13.6" text-anchor="middle" font-family='"Liberation Sans",sans-serif'>80</text><text x="227.6" y="436.2" font-size="13.6" text-anchor="middle" font-family='"Liberation Sans",sans-serif'>100</text><g fill="#555" fill-opacity="0.36"><circle cx="94.7" cy="322.6" r="2.85"/><circle cx="87.5" cy="371.2" r="2.85"/><circle cx="97.3" cy="399.2" r="2.85"/><circle cx="97.6" cy="374.9" r="2.85"/><circle cx="97" cy="326.5" r="2.85"/><circle cx="90" cy="354.1" r="2.85"/><circle cx="87" cy="364.9" r="2.85"/><circle cx="89.3" cy="355.9" r="2.85"/><circle cx="100.5" cy="353.6" r="2.85"/><circle cx="94.7" cy="340.4" r="2.85"/><circle cx="90.1" cy="357.4" r="2.85"/><circle cx="88.6" cy="334.4" r="2.85"/><circle cx="105.8" cy="369.7" r="2.85"/><circle cx="98.9" cy="360.5" r="2.85"/><circle cx="105.4" cy="370.1" r="2.85"/><circle cx="100.8" cy="358.3" r="2.85"/><circle cx="78.6" cy="320.1" r="2.85"/><circle cx="98.8" cy="391.7" r="2.85"/><circle cx="102.6" cy="389.1" r="2.85"/><circle cx="101.3" cy="372.6" r="2.85"/><circle cx="102.3" cy="288.3" r="2.85"/><circle cx="97.4" cy="354.4" r="2.85"/><circle cx="87" cy="376" r="2.85"/><circle cx="76.6" cy="358.4" r="2.85"/><circle cx="106.7" cy="386.8" r="2.85"/><circle cx="109.1" cy="382.8" r="2.85"/><circle cx="102.1" cy="374.3" r="2.85"/><circle cx="100.9" cy="349.6" r="2.85"/><circle cx="101.5" cy="365.6" r="2.85"/><circle cx="105.7" cy="358.2" r="2.85"/><circle cx="117" cy="334.6" r="2.85"/><circle cx="89.3" cy="367.4" r="2.85"/><circle cx="100.8" cy="333" r="2.85"/><circle cx="88.2" cy="378.5" r="2.85"/><circle cx="100.6" cy="316.4" r="2.85"/><circle cx="97.4" cy="387.6" r="2.85"/><circle cx="117.4" cy="400.6" r="2.85"/><circle cx="100" cy="355.4" r="2.85"/><circle cx="81" cy="363.6" r="2.85"/><circle cx="96.4" cy="344.4" r="2.85"/><circle cx="102.2" cy="343" r="2.85"/><circle cx="99.2" cy="388.6" r="2.85"/><circle cx="108.3" cy="360" r="2.85"/><circle cx="80.8" cy="310.2" r="2.85"/><circle cx="102.1" cy="366.5" r="2.85"/><circle cx="99.6" cy="326.1" r="2.85"/><circle cx="88" cy="357.5" r="2.85"/><circle cx="91.7" cy="297" r="2.85"/><circle cx="92.9" cy="380.6" r="2.85"/><circle cx="98.5" cy="372" r="2.85"/><circle cx="75.5" cy="346.5" r="2.85"/><circle cx="99" cy="328.2" r="2.85"/><circle cx="79.7" cy="361.2" r="2.85"/><circle cx="96.8" cy="373" r="2.85"/><circle cx="77.1" cy="341.2" r="2.85"/><circle cx="108.9" cy="378.6" r="2.85"/><circle cx="102.4" cy="347.9" r="2.85"/><circle cx="101" cy="343.4" r="2.85"/><circle cx="108.5" cy="338.5" r="2.85"/><circle cx="103.8" cy="350.6" r="2.85"/><circle cx="110.3" cy="331.2" r="2.85"/><circle cx="104.7" cy="361" r="2.85"/><circle cx="95.1" cy="345.1" r="2.85"/><circle cx="89.9" cy="330.9" r="2.85"/><circle cx="115.8" cy="351.1" r="2.85"/><circle cx="93" cy="337.8" r="2.85"/><circle cx="108.8" cy="406.6" r="2.85"/><circle cx="114" cy="345.4" r="2.85"/><circle cx="97.7" cy="345.7" r="2.85"/><circle cx="96.6" cy="360.9" r="2.85"/><circle cx="84.4" cy="337.7" r="2.85"/><circle cx="81" cy="316.5" r="2.85"/><circle cx="111.1" cy="344.8" r="2.85"/><circle cx="87.6" cy="340.7" r="2.85"/><circle cx="96.6" cy="364.5" r="2.85"/><circle cx="90.2" cy="368.4" r="2.85"/><circle cx="96.9" cy="357.2" r="2.85"/><circle cx="100.1" cy="380" r="2.85"/><circle cx="100.8" cy="359.5" r="2.85"/><circle cx="90" cy="341.6" r="2.85"/><circle cx="87" cy="361.5" r="2.85"/><circle cx="112.7" cy="364" r="2.85"/><circle cx="90.3" cy="373.8" r="2.85"/><circle cx="109.6" cy="336.7" r="2.85"/><circle cx="96.2" cy="303.6" r="2.85"/><circle cx="113.1" cy="355.6" r="2.85"/><circle cx="78.8" cy="349.4" r="2.85"/><circle cx="94.9" cy="336.9" r="2.85"/><circle cx="97.6" cy="376.2" r="2.85"/><circle cx="106.8" cy="314.7" r="2.85"/><circle cx="97.1" cy="335.4" r="2.85"/><circle cx="89.8" cy="367.2" r="2.85"/><circle cx="107.2" cy="349.4" r="2.85"/><circle cx="104.6" cy="307.8" r="2.85"/><circle cx="103.8" cy="382.8" r="2.85"/><circle cx="107.3" cy="353.5" r="2.85"/><circle cx="79.9" cy="344.6" r="2.85"/><circle cx="106.2" cy="327.8" r="2.85"/><circle cx="89.9" cy="358.7" r="2.85"/><circle cx="95" cy="383.9" r="2.85"/><circle cx="91.2" cy="380.3" r="2.85"/><circle cx="117.5" cy="362.6" r="2.85"/><circle cx="105.5" cy="391.8" r="2.85"/><circle cx="110.4" cy="320.8" r="2.85"/><circle cx="97.5" cy="379.4" r="2.85"/><circle cx="101" cy="336.7" r="2.85"/><circle cx="109.6" cy="349.5" r="2.85"/><circle cx="91.5" cy="360.3" r="2.85"/><circle cx="126.8" cy="352.7" r="2.85"/><circle cx="103.5" cy="389.8" r="2.85"/><circle cx="100.7" cy="369.1" r="2.85"/><circle cx="110.9" cy="352" r="2.85"/><circle cx="101.7" cy="360.4" r="2.85"/><circle cx="86.6" cy="353.8" r="2.85"/><circle cx="96.8" cy="355.7" r="2.85"/><circle cx="89.3" cy="337.3" r="2.85"/><circle cx="110.2" cy="375.4" r="2.85"/><circle cx="98.6" cy="355.4" r="2.85"/><circle cx="73.2" cy="340" r="2.85"/><circle cx="79.8" cy="364.9" r="2.85"/><circle cx="99.9" cy="371" r="2.85"/><circle cx="93.6" cy="343.7" r="2.85"/><circle cx="96.2" cy="342.9" r="2.85"/><circle cx="73.3" cy="373.3" r="2.85"/><circle cx="85.9" cy="376.6" r="2.85"/><circle cx="112" cy="352" r="2.85"/><circle cx="95.7" cy="341.3" r="2.85"/><circle cx="91.7" cy="373.9" r="2.85"/><circle cx="115.5" cy="375.8" r="2.85"/><circle cx="88.7" cy="349" r="2.85"/><circle cx="100.8" cy="306.5" r="2.85"/><circle cx="99.2" cy="364.2" r="2.85"/><circle cx="88.3" cy="369.1" r="2.85"/><circle cx="93.2" cy="378.1" r="2.85"/><circle cx="111.4" cy="260.2" r="2.85"/><circle cx="101.4" cy="366" r="2.85"/><circle cx="97.3" cy="395.4" r="2.85"/><circle cx="112.6" cy="389.9" r="2.85"/><circle cx="87" cy="387.8" r="2.85"/><circle cx="99.8" cy="372.4" r="2.85"/><circle cx="82.6" cy="364.4" r="2.85"/><circle cx="96.1" cy="349.7" r="2.85"/><circle cx="114.1" cy="383.4" r="2.85"/><circle cx="114.7" cy="353.2" r="2.85"/><circle cx="112.3" cy="391.6" r="2.85"/><circle cx="98.2" cy="353.5" r="2.85"/><circle cx="97.4" cy="362.6" r="2.85"/><circle cx="104.8" cy="356.1" r="2.85"/><circle cx="82.9" cy="391.3" r="2.85"/><circle cx="99.5" cy="378.5" r="2.85"/><circle cx="140.5" cy="361.4" r="2.85"/><circle cx="132.6" cy="332" r="2.85"/><circle cx="124" cy="353.4" r="2.85"/><circle cx="132.6" cy="340.9" r="2.85"/><circle cx="121.6" cy="295.1" r="2.85"/><circle cx="137.1" cy="337.4" r="2.85"/><circle cx="143.2" cy="357" r="2.85"/><circle cx="144" cy="327.1" r="2.85"/><circle cx="120.7" cy="353.5" r="2.85"/><circle cx="123.1" cy="362.2" r="2.85"/><circle cx="129.6" cy="298" r="2.85"/><circle cx="119.7" cy="336.4" r="2.85"/><circle cx="129.7" cy="360.5" r="2.85"/><circle cx="105.4" cy="336.8" r="2.85"/><circle cx="125.6" cy="373.6" r="2.85"/><circle cx="134.2" cy="341.7" r="2.85"/><circle cx="133.9" cy="385.2" r="2.85"/><circle cx="136" cy="340.1" r="2.85"/><circle cx="150" cy="372.8" r="2.85"/><circle cx="134.9" cy="350.3" r="2.85"/><circle cx="127.4" cy="348.9" r="2.85"/><circle cx="145.7" cy="354.7" r="2.85"/><circle cx="142.9" cy="343.7" r="2.85"/><circle cx="140.5" cy="366.1" r="2.85"/><circle cx="140.6" cy="360.6" r="2.85"/><circle cx="141.5" cy="349.5" r="2.85"/><circle cx="142.8" cy="363.7" r="2.85"/><circle cx="139.1" cy="367.4" r="2.85"/><circle cx="119.4" cy="337.8" r="2.85"/><circle cx="142.9" cy="360.8" r="2.85"/><circle cx="166.2" cy="266.3" r="2.85"/><circle cx="147.2" cy="405.8" r="2.85"/><circle cx="132.2" cy="384.9" r="2.85"/><circle cx="151.1" cy="367.2" r="2.85"/><circle cx="151.7" cy="373.7" r="2.85"/><circle cx="169.5" cy="368.7" r="2.85"/><circle cx="110.8" cy="346.6" r="2.85"/><circle cx="133.4" cy="329.2" r="2.85"/><circle cx="130.5" cy="308.1" r="2.85"/><circle cx="134.3" cy="370.8" r="2.85"/><circle cx="119.5" cy="384.9" r="2.85"/><circle cx="183.5" cy="289.3" r="2.85"/><circle cx="161.6" cy="269.9" r="2.85"/><circle cx="143.4" cy="360.7" r="2.85"/><circle cx="125.6" cy="366.6" r="2.85"/><circle cx="137.6" cy="355.1" r="2.85"/><circle cx="109" cy="325.4" r="2.85"/><circle cx="100.9" cy="307.3" r="2.85"/><circle cx="134.9" cy="318.2" r="2.85"/><circle cx="122.3" cy="302.8" r="2.85"/><circle cx="117.8" cy="368.4" r="2.85"/><circle cx="129" cy="363.2" r="2.85"/><circle cx="148.4" cy="307" r="2.85"/><circle cx="134.2" cy="295.1" r="2.85"/><circle cx="127.8" cy="383.1" r="2.85"/><circle cx="138.4" cy="349.6" r="2.85"/><circle cx="110.8" cy="345.2" r="2.85"/><circle cx="137.4" cy="356.1" r="2.85"/><circle cx="131.7" cy="372.9" r="2.85"/><circle cx="135.5" cy="346.2" r="2.85"/><circle cx="146.2" cy="354.3" r="2.85"/><circle cx="138.5" cy="363.6" r="2.85"/><circle cx="130.1" cy="344.2" r="2.85"/><circle cx="131.8" cy="331.5" r="2.85"/><circle cx="139.6" cy="368.1" r="2.85"/><circle cx="166.2" cy="370.8" r="2.85"/><circle cx="116.9" cy="339.1" r="2.85"/><circle cx="149.6" cy="304.1" r="2.85"/><circle cx="121.7" cy="324.4" r="2.85"/><circle cx="126.4" cy="346.7" r="2.85"/><circle cx="140.8" cy="352.3" r="2.85"/><circle cx="155.5" cy="369.1" r="2.85"/><circle cx="128.4" cy="380.9" r="2.85"/><circle cx="132.1" cy="338.9" r="2.85"/><circle cx="153.5" cy="349.6" r="2.85"/><circle cx="117.1" cy="370.1" r="2.85"/><circle cx="176.9" cy="362.9" r="2.85"/><circle cx="137.9" cy="363.3" r="2.85"/><circle cx="132.4" cy="334.3" r="2.85"/><circle cx="163.9" cy="357.5" r="2.85"/><circle cx="121" cy="373.9" r="2.85"/><circle cx="126.8" cy="340.3" r="2.85"/><circle cx="127.9" cy="354" r="2.85"/><circle cx="126.5" cy="374.8" r="2.85"/><circle cx="135.2" cy="372.8" r="2.85"/><circle cx="124.8" cy="337" r="2.85"/><circle cx="156.8" cy="341.1" r="2.85"/><circle cx="150.6" cy="345.9" r="2.85"/><circle cx="138.6" cy="385.3" r="2.85"/><circle cx="144.8" cy="358.8" r="2.85"/><circle cx="141.3" cy="366" r="2.85"/><circle cx="111" cy="352.8" r="2.85"/><circle cx="128.9" cy="343.7" r="2.85"/><circle cx="146.7" cy="336.5" r="2.85"/><circle cx="108.2" cy="338.6" r="2.85"/><circle cx="158" cy="382.6" r="2.85"/><circle cx="121" cy="337.1" r="2.85"/><circle cx="140.2" cy="372.9" r="2.85"/><circle cx="120.4" cy="331.3" r="2.85"/><circle cx="135.5" cy="328.1" r="2.85"/><circle cx="144.4" cy="327.3" r="2.85"/><circle cx="146.8" cy="350.5" r="2.85"/><circle cx="139.7" cy="356.9" r="2.85"/><circle cx="125.3" cy="362" r="2.85"/><circle cx="129.1" cy="349.8" r="2.85"/><circle cx="144.7" cy="353" r="2.85"/><circle cx="143.4" cy="405.3" r="2.85"/><circle cx="139.9" cy="363.6" r="2.85"/><circle cx="122.8" cy="367.7" r="2.85"/><circle cx="142.7" cy="279.1" r="2.85"/><circle cx="130.5" cy="326.5" r="2.85"/><circle cx="109.4" cy="334.9" r="2.85"/><circle cx="127.2" cy="350" r="2.85"/><circle cx="157" cy="346.4" r="2.85"/><circle cx="125.8" cy="346.4" r="2.85"/><circle cx="152.7" cy="399.6" r="2.85"/><circle cx="139.7" cy="371.4" r="2.85"/><circle cx="142.5" cy="334.5" r="2.85"/><circle cx="140.4" cy="338.1" r="2.85"/><circle cx="134.3" cy="338.1" r="2.85"/><circle cx="164.6" cy="343.2" r="2.85"/><circle cx="115.9" cy="297.4" r="2.85"/><circle cx="114.2" cy="350.1" r="2.85"/><circle cx="136.4" cy="342.8" r="2.85"/><circle cx="144.3" cy="372.5" r="2.85"/><circle cx="129.5" cy="371.4" r="2.85"/><circle cx="119.8" cy="359.6" r="2.85"/><circle cx="141.4" cy="369" r="2.85"/><circle cx="131.2" cy="317.7" r="2.85"/><circle cx="150.3" cy="338.9" r="2.85"/><circle cx="147.9" cy="353.3" r="2.85"/><circle cx="135.5" cy="328" r="2.85"/><circle cx="133.5" cy="336.1" r="2.85"/><circle cx="118.2" cy="381" r="2.85"/><circle cx="141.2" cy="348.5" r="2.85"/><circle cx="114.2" cy="347.5" r="2.85"/><circle cx="121.1" cy="341.7" r="2.85"/><circle cx="96.9" cy="340.9" r="2.85"/><circle cx="145.9" cy="372" r="2.85"/><circle cx="118.2" cy="366.7" r="2.85"/><circle cx="118.6" cy="361.8" r="2.85"/><circle cx="125.3" cy="327.1" r="2.85"/><circle cx="150.8" cy="325.9" r="2.85"/><circle cx="138.2" cy="327.6" r="2.85"/><circle cx="132.6" cy="318.3" r="2.85"/><circle cx="142.7" cy="375.3" r="2.85"/><circle cx="143.7" cy="388.4" r="2.85"/><circle cx="119.3" cy="355.4" r="2.85"/><circle cx="138.3" cy="361.4" r="2.85"/><circle cx="150.7" cy="333.9" r="2.85"/><circle cx="117.1" cy="330.2" r="2.85"/><circle cx="148" cy="311.6" r="2.85"/><circle cx="133.5" cy="307.8" r="2.85"/><circle cx="109.6" cy="368.2" r="2.85"/><circle cx="121.3" cy="336.6" r="2.85"/><circle cx="136.1" cy="332.7" r="2.85"/><circle cx="157.3" cy="339.1" r="2.85"/><circle cx="132.1" cy="382" r="2.85"/><circle cx="124.8" cy="326.8" r="2.85"/><circle cx="148.1" cy="362.8" r="2.85"/><circle cx="136.2" cy="340.6" r="2.85"/><circle cx="129.3" cy="388.3" r="2.85"/><circle cx="131.2" cy="339.4" r="2.85"/><circle cx="142.7" cy="330.3" r="2.85"/><circle cx="129.2" cy="300.4" r="2.85"/><circle cx="128.3" cy="351.4" r="2.85"/><circle cx="126.7" cy="356.9" r="2.85"/><circle cx="141.7" cy="347" r="2.85"/><circle cx="113.4" cy="396.5" r="2.85"/><circle cx="143.1" cy="378.2" r="2.85"/><circle cx="127.3" cy="344.5" r="2.85"/><circle cx="147" cy="341.9" r="2.85"/><circle cx="131.3" cy="343.5" r="2.85"/><circle cx="112.2" cy="352.4" r="2.85"/><circle cx="150.3" cy="369.5" r="2.85"/><circle cx="141.2" cy="362.4" r="2.85"/><circle cx="139.3" cy="362" r="2.85"/><circle cx="122.8" cy="341.2" r="2.85"/><circle cx="153.4" cy="370.2" r="2.85"/><circle cx="125.2" cy="367.1" r="2.85"/><circle cx="157.7" cy="352.2" r="2.85"/><circle cx="135.4" cy="381.2" r="2.85"/><circle cx="157.6" cy="359.6" r="2.85"/><circle cx="121.2" cy="364" r="2.85"/><circle cx="109" cy="361" r="2.85"/><circle cx="117.7" cy="372.2" r="2.85"/><circle cx="127.8" cy="341.4" r="2.85"/><circle cx="122.5" cy="367.9" r="2.85"/><circle cx="126.4" cy="331.9" r="2.85"/><circle cx="136.5" cy="337.4" r="2.85"/><circle cx="134.8" cy="362.6" r="2.85"/><circle cx="138.2" cy="360.5" r="2.85"/><circle cx="128.8" cy="355.4" r="2.85"/><circle cx="143.7" cy="368.9" r="2.85"/><circle cx="150" cy="363" r="2.85"/><circle cx="118.8" cy="388.4" r="2.85"/><circle cx="151.8" cy="387.8" r="2.85"/><circle cx="119.4" cy="318.2" r="2.85"/><circle cx="159" cy="345.5" r="2.85"/><circle cx="137.7" cy="360.2" r="2.85"/><circle cx="164.2" cy="368.6" r="2.85"/><circle cx="97.6" cy="350.4" r="2.85"/><circle cx="76.2" cy="371.9" r="2.85"/><circle cx="83.1" cy="365.2" r="2.85"/><circle cx="123.4" cy="333.6" r="2.85"/><circle cx="117.6" cy="358.1" r="2.85"/><circle cx="172.2" cy="371.9" r="2.85"/><circle cx="149.9" cy="383.5" r="2.85"/><circle cx="68.3" cy="403.8" r="2.85"/><circle cx="140.4" cy="399.7" r="2.85"/><circle cx="113.9" cy="353" r="2.85"/><circle cx="122.3" cy="367.7" r="2.85"/><circle cx="130.6" cy="345.7" r="2.85"/><circle cx="73.1" cy="361" r="2.85"/><circle cx="90.5" cy="355.3" r="2.85"/><circle cx="83.9" cy="395.3" r="2.85"/><circle cx="83.2" cy="367.7" r="2.85"/><circle cx="158.8" cy="347.2" r="2.85"/><circle cx="99.8" cy="340.9" r="2.85"/><circle cx="88.2" cy="349.2" r="2.85"/><circle cx="170.2" cy="272.1" r="2.85"/><circle cx="72.1" cy="347.3" r="2.85"/><circle cx="98.5" cy="372" r="2.85"/><circle cx="166.4" cy="374.4" r="2.85"/><circle cx="179.2" cy="361.9" r="2.85"/><circle cx="104.2" cy="367.6" r="2.85"/><circle cx="110.6" cy="347.4" r="2.85"/><circle cx="108.2" cy="340" r="2.85"/><circle cx="127.6" cy="363.9" r="2.85"/><circle cx="109" cy="388.5" r="2.85"/><circle cx="71.4" cy="376.1" r="2.85"/><circle cx="74.3" cy="348.1" r="2.85"/><circle cx="109.3" cy="381.7" r="2.85"/><circle cx="174.8" cy="329.9" r="2.85"/><circle cx="178.3" cy="367.6" r="2.85"/><circle cx="92.4" cy="349.3" r="2.85"/><circle cx="100.3" cy="391.9" r="2.85"/><circle cx="145.3" cy="339.1" r="2.85"/><circle cx="78.3" cy="412.8" r="2.85"/><circle cx="137" cy="361.6" r="2.85"/><circle cx="149.4" cy="352.6" r="2.85"/><circle cx="83.6" cy="365.4" r="2.85"/><circle cx="162.3" cy="359.5" r="2.85"/><circle cx="104.4" cy="369.8" r="2.85"/><circle cx="198.6" cy="269" r="2.85"/><circle cx="202.8" cy="280" r="2.85"/><circle cx="204.1" cy="304.3" r="2.85"/><circle cx="206.9" cy="277.8" r="2.85"/><circle cx="209.7" cy="279.3" r="2.85"/><circle cx="201.4" cy="269.7" r="2.85"/></g><text transform="translate(21.8,334.6) rotate(-90)" font-size="15.6" fill="#000" font-family='"Liberation Sans",sans-serif' text-anchor="middle" >MW (Da)</text><path d="M294.8,254.2 V417.3 H453.3" fill="none" stroke="#000" stroke-width="1.8"/><line x1="290.6" y1="254.2" x2="294.8" y2="254.2" stroke="#000" stroke-width="1.4"/><line x1="290.6" y1="286.9" x2="294.8" y2="286.9" stroke="#000" stroke-width="1.4"/><line x1="290.6" y1="319.6" x2="294.8" y2="319.6" stroke="#000" stroke-width="1.4"/><line x1="290.6" y1="352.3" x2="294.8" y2="352.3" stroke="#000" stroke-width="1.4"/><line x1="290.6" y1="385" x2="294.8" y2="385" stroke="#000" stroke-width="1.4"/><line x1="290.6" y1="417.7" x2="294.8" y2="417.7" stroke="#000" stroke-width="1.4"/><line x1="294.7" y1="417.3" x2="294.7" y2="421.5" stroke="#000" stroke-width="1.4"/><line x1="321.1" y1="417.3" x2="321.1" y2="421.5" stroke="#000" stroke-width="1.4"/><line x1="347.5" y1="417.3" x2="347.5" y2="421.5" stroke="#000" stroke-width="1.4"/><line x1="374" y1="417.3" x2="374" y2="421.5" stroke="#000" stroke-width="1.4"/><line x1="400.4" y1="417.3" x2="400.4" y2="421.5" stroke="#000" stroke-width="1.4"/><line x1="426.8" y1="417.3" x2="426.8" y2="421.5" stroke="#000" stroke-width="1.4"/><line x1="453.3" y1="417.3" x2="453.3" y2="421.5" stroke="#000" stroke-width="1.4"/><text x="283.5" y="258.5" font-size="13.6" text-anchor="end" font-family='"Liberation Sans",sans-serif'>1</text><text x="283.5" y="291.2" font-size="13.6" text-anchor="end" font-family='"Liberation Sans",sans-serif'>0</text><text x="283.5" y="323.9" font-size="13.6" text-anchor="end" font-family='"Liberation Sans",sans-serif'>-1</text><text x="283.5" y="356.6" font-size="13.6" text-anchor="end" font-family='"Liberation Sans",sans-serif'>-2</text><text x="283.5" y="389.3" font-size="13.6" text-anchor="end" font-family='"Liberation Sans",sans-serif'>-3</text><text x="283.5" y="422" font-size="13.6" text-anchor="end" font-family='"Liberation Sans",sans-serif'>-4</text><text x="294.7" y="437.3" font-size="13.6" text-anchor="middle" font-family='"Liberation Sans",sans-serif'>-20</text><text x="321.1" y="437.3" font-size="13.6" text-anchor="middle" font-family='"Liberation Sans",sans-serif'>0</text><text x="347.5" y="437.3" font-size="13.6" text-anchor="middle" font-family='"Liberation Sans",sans-serif'>20</text><text x="374" y="437.3" font-size="13.6" text-anchor="middle" font-family='"Liberation Sans",sans-serif'>40</text><text x="400.4" y="437.3" font-size="13.6" text-anchor="middle" font-family='"Liberation Sans",sans-serif'>60</text><text x="426.8" y="437.3" font-size="13.6" text-anchor="middle" font-family='"Liberation Sans",sans-serif'>80</text><text x="453.3" y="437.3" font-size="13.6" text-anchor="middle" font-family='"Liberation Sans",sans-serif'>100</text><g fill="#c81e32" fill-opacity="0.145"><circle cx="326" cy="284.2" r="2.85"/><circle cx="319.1" cy="354.5" r="2.85"/><circle cx="328.5" cy="358.7" r="2.85"/><circle cx="328.8" cy="340.7" r="2.85"/><circle cx="328.2" cy="360.6" r="2.85"/><circle cx="321.5" cy="294.6" r="2.85"/><circle cx="318.6" cy="312.6" r="2.85"/><circle cx="320.8" cy="317.8" r="2.85"/><circle cx="331.5" cy="291.8" r="2.85"/><circle cx="326" cy="347.4" r="2.85"/><circle cx="321.6" cy="368.4" r="2.85"/><circle cx="320.1" cy="325.8" r="2.85"/><circle cx="336.7" cy="317.8" r="2.85"/><circle cx="330" cy="351.9" r="2.85"/><circle cx="336.3" cy="312" r="2.85"/><circle cx="331.8" cy="290" r="2.85"/><circle cx="310.6" cy="354" r="2.85"/><circle cx="329.9" cy="324.4" r="2.85"/><circle cx="333.6" cy="318.5" r="2.85"/><circle cx="332.4" cy="315.5" r="2.85"/><circle cx="333.2" cy="301" r="2.85"/><circle cx="328.5" cy="314.9" r="2.85"/><circle cx="318.6" cy="299" r="2.85"/><circle cx="308.6" cy="362.3" r="2.85"/><circle cx="337.5" cy="337.7" r="2.85"/><circle cx="339.8" cy="302.7" r="2.85"/><circle cx="333.1" cy="339.4" r="2.85"/><circle cx="331.9" cy="343.1" r="2.85"/><circle cx="332.5" cy="329.3" r="2.85"/><circle cx="336.5" cy="316.7" r="2.85"/><circle cx="347.3" cy="333" r="2.85"/><circle cx="320.8" cy="319" r="2.85"/><circle cx="331.8" cy="292.2" r="2.85"/><circle cx="319.8" cy="381.7" r="2.85"/><circle cx="331.7" cy="388.4" r="2.85"/><circle cx="328.6" cy="310.5" r="2.85"/><circle cx="347.7" cy="340.7" r="2.85"/><circle cx="331.1" cy="290.8" r="2.85"/><circle cx="312.8" cy="298.6" r="2.85"/><circle cx="327.6" cy="334.5" r="2.85"/><circle cx="333.2" cy="337.8" r="2.85"/><circle cx="330.3" cy="329.5" r="2.85"/><circle cx="339" cy="317.2" r="2.85"/><circle cx="312.7" cy="340.1" r="2.85"/><circle cx="333.1" cy="351.4" r="2.85"/><circle cx="330.7" cy="318.3" r="2.85"/><circle cx="319.6" cy="387.9" r="2.85"/><circle cx="323.1" cy="323" r="2.85"/><circle cx="324.3" cy="329.9" r="2.85"/><circle cx="329.6" cy="295.4" r="2.85"/><circle cx="307.6" cy="337.2" r="2.85"/><circle cx="330.1" cy="316.7" r="2.85"/><circle cx="311.6" cy="364.2" r="2.85"/><circle cx="328" cy="326" r="2.85"/><circle cx="309.2" cy="320.5" r="2.85"/><circle cx="339.6" cy="297.5" r="2.85"/><circle cx="333.3" cy="324.5" r="2.85"/><circle cx="332" cy="286.9" r="2.85"/><circle cx="339.2" cy="291.1" r="2.85"/><circle cx="334.7" cy="344" r="2.85"/><circle cx="340.9" cy="388.1" r="2.85"/><circle cx="335.5" cy="355.2" r="2.85"/><circle cx="326.4" cy="329.6" r="2.85"/><circle cx="321.4" cy="330" r="2.85"/><circle cx="346.2" cy="328.3" r="2.85"/><circle cx="324.4" cy="343.5" r="2.85"/><circle cx="339.5" cy="307.3" r="2.85"/><circle cx="344.4" cy="337" r="2.85"/><circle cx="328.9" cy="385.7" r="2.85"/><circle cx="327.8" cy="338.8" r="2.85"/><circle cx="316.1" cy="310.4" r="2.85"/><circle cx="312.9" cy="361" r="2.85"/><circle cx="341.7" cy="306.4" r="2.85"/><circle cx="319.2" cy="320.3" r="2.85"/><circle cx="327.8" cy="331.1" r="2.85"/><circle cx="321.7" cy="323.3" r="2.85"/><circle cx="328.1" cy="354.5" r="2.85"/><circle cx="331.2" cy="327.3" r="2.85"/><circle cx="331.8" cy="289.2" r="2.85"/><circle cx="321.5" cy="336.1" r="2.85"/><circle cx="318.7" cy="364.5" r="2.85"/><circle cx="343.2" cy="284" r="2.85"/><circle cx="321.8" cy="369.6" r="2.85"/><circle cx="340.2" cy="280.7" r="2.85"/><circle cx="327.5" cy="328.4" r="2.85"/><circle cx="343.6" cy="305.9" r="2.85"/><circle cx="310.8" cy="330.7" r="2.85"/><circle cx="326.2" cy="331" r="2.85"/><circle cx="328.8" cy="301.9" r="2.85"/><circle cx="337.5" cy="327.4" r="2.85"/><circle cx="328.2" cy="351.8" r="2.85"/><circle cx="321.3" cy="333" r="2.85"/><circle cx="338" cy="370.8" r="2.85"/><circle cx="335.4" cy="330.3" r="2.85"/><circle cx="334.7" cy="373.3" r="2.85"/><circle cx="338.1" cy="324.4" r="2.85"/><circle cx="311.8" cy="320.3" r="2.85"/><circle cx="337" cy="308.8" r="2.85"/><circle cx="321.4" cy="337.7" r="2.85"/><circle cx="326.2" cy="402" r="2.85"/><circle cx="322.6" cy="345.8" r="2.85"/><circle cx="347.8" cy="286.2" r="2.85"/><circle cx="336.3" cy="342" r="2.85"/><circle cx="341" cy="309" r="2.85"/><circle cx="328.7" cy="347.2" r="2.85"/><circle cx="332" cy="286.6" r="2.85"/><circle cx="340.2" cy="378.5" r="2.85"/><circle cx="322.9" cy="346.4" r="2.85"/><circle cx="356.7" cy="324.4" r="2.85"/><circle cx="334.4" cy="313.3" r="2.85"/><circle cx="331.7" cy="327.3" r="2.85"/><circle cx="341.5" cy="318.7" r="2.85"/><circle cx="332.7" cy="387.5" r="2.85"/><circle cx="318.2" cy="283.6" r="2.85"/><circle cx="328" cy="325.2" r="2.85"/><circle cx="320.8" cy="350.8" r="2.85"/><circle cx="340.8" cy="287.1" r="2.85"/><circle cx="329.7" cy="358.7" r="2.85"/><circle cx="305.4" cy="332.2" r="2.85"/><circle cx="311.7" cy="313" r="2.85"/><circle cx="331" cy="308.4" r="2.85"/><circle cx="324.9" cy="325.5" r="2.85"/><circle cx="327.4" cy="332.8" r="2.85"/><circle cx="305.5" cy="367.5" r="2.85"/><circle cx="317.6" cy="327" r="2.85"/><circle cx="342.6" cy="355.7" r="2.85"/><circle cx="326.9" cy="302.9" r="2.85"/><circle cx="323.2" cy="310.1" r="2.85"/><circle cx="345.9" cy="319.8" r="2.85"/><circle cx="320.3" cy="384.3" r="2.85"/><circle cx="331.8" cy="310.9" r="2.85"/><circle cx="330.3" cy="311.9" r="2.85"/><circle cx="319.8" cy="362.6" r="2.85"/><circle cx="324.5" cy="342.6" r="2.85"/><circle cx="342" cy="318.3" r="2.85"/><circle cx="332.4" cy="309" r="2.85"/><circle cx="328.4" cy="339.2" r="2.85"/><circle cx="343.1" cy="343.2" r="2.85"/><circle cx="318.6" cy="348.4" r="2.85"/><circle cx="330.9" cy="353.7" r="2.85"/><circle cx="314.4" cy="291.1" r="2.85"/><circle cx="327.3" cy="282.4" r="2.85"/><circle cx="344.6" cy="374.4" r="2.85"/><circle cx="345.1" cy="331" r="2.85"/><circle cx="342.8" cy="281.2" r="2.85"/><circle cx="329.3" cy="292.8" r="2.85"/><circle cx="328.6" cy="278.5" r="2.85"/><circle cx="335.6" cy="293.2" r="2.85"/><circle cx="314.7" cy="325.3" r="2.85"/><circle cx="330.6" cy="320.7" r="2.85"/><circle cx="369.9" cy="272.3" r="2.85"/><circle cx="362.2" cy="299.8" r="2.85"/><circle cx="354" cy="358.9" r="2.85"/><circle cx="362.3" cy="307.5" r="2.85"/><circle cx="351.7" cy="363.7" r="2.85"/><circle cx="366.6" cy="287.6" r="2.85"/><circle cx="372.4" cy="300" r="2.85"/><circle cx="373.2" cy="312.3" r="2.85"/><circle cx="350.9" cy="310.6" r="2.85"/><circle cx="353.2" cy="361.5" r="2.85"/><circle cx="359.4" cy="326.4" r="2.85"/><circle cx="349.9" cy="333.9" r="2.85"/><circle cx="359.5" cy="310.6" r="2.85"/><circle cx="336.2" cy="331.3" r="2.85"/><circle cx="355.6" cy="310.7" r="2.85"/><circle cx="363.9" cy="304.9" r="2.85"/><circle cx="363.6" cy="347.3" r="2.85"/><circle cx="365.5" cy="342.1" r="2.85"/><circle cx="378.9" cy="279.5" r="2.85"/><circle cx="364.5" cy="332.7" r="2.85"/><circle cx="357.3" cy="318.9" r="2.85"/><circle cx="374.8" cy="288.1" r="2.85"/><circle cx="372.1" cy="317.7" r="2.85"/><circle cx="369.8" cy="269.3" r="2.85"/><circle cx="369.9" cy="333" r="2.85"/><circle cx="370.8" cy="325" r="2.85"/><circle cx="372" cy="361.9" r="2.85"/><circle cx="368.5" cy="287.1" r="2.85"/><circle cx="349.7" cy="328.9" r="2.85"/><circle cx="372.2" cy="293" r="2.85"/><circle cx="394.5" cy="295.7" r="2.85"/><circle cx="376.3" cy="271" r="2.85"/><circle cx="361.9" cy="297.6" r="2.85"/><circle cx="380" cy="319.8" r="2.85"/><circle cx="380.6" cy="321" r="2.85"/><circle cx="397.7" cy="309.1" r="2.85"/><circle cx="341.4" cy="372.9" r="2.85"/><circle cx="363.1" cy="324.5" r="2.85"/><circle cx="360.3" cy="353.1" r="2.85"/><circle cx="363.9" cy="336.2" r="2.85"/><circle cx="349.8" cy="287.3" r="2.85"/><circle cx="411" cy="332.9" r="2.85"/><circle cx="390" cy="320.9" r="2.85"/><circle cx="372.6" cy="287.2" r="2.85"/><circle cx="355.6" cy="355.8" r="2.85"/><circle cx="367.1" cy="306.2" r="2.85"/><circle cx="339.7" cy="355.6" r="2.85"/><circle cx="331.9" cy="323.2" r="2.85"/><circle cx="364.5" cy="322.4" r="2.85"/><circle cx="352.5" cy="290.8" r="2.85"/><circle cx="348.1" cy="321.8" r="2.85"/><circle cx="358.9" cy="301.4" r="2.85"/><circle cx="377.4" cy="271.4" r="2.85"/><circle cx="363.8" cy="313" r="2.85"/><circle cx="357.7" cy="279.3" r="2.85"/><circle cx="367.8" cy="290.3" r="2.85"/><circle cx="341.4" cy="298.9" r="2.85"/><circle cx="366.8" cy="328" r="2.85"/><circle cx="361.4" cy="306.5" r="2.85"/><circle cx="365" cy="306.2" r="2.85"/><circle cx="375.3" cy="289.4" r="2.85"/><circle cx="367.9" cy="279.3" r="2.85"/><circle cx="359.9" cy="286.3" r="2.85"/><circle cx="361.5" cy="295.4" r="2.85"/><circle cx="369" cy="322.6" r="2.85"/><circle cx="394.4" cy="320.9" r="2.85"/><circle cx="347.3" cy="306.5" r="2.85"/><circle cx="378.5" cy="338.6" r="2.85"/><circle cx="351.9" cy="325.8" r="2.85"/><circle cx="356.3" cy="317.3" r="2.85"/><circle cx="370.1" cy="296.6" r="2.85"/><circle cx="384.2" cy="293.6" r="2.85"/><circle cx="358.2" cy="343.9" r="2.85"/><circle cx="361.8" cy="294.5" r="2.85"/><circle cx="382.3" cy="358.3" r="2.85"/><circle cx="347.5" cy="336.3" r="2.85"/><circle cx="404.8" cy="308.6" r="2.85"/><circle cx="367.3" cy="316.5" r="2.85"/><circle cx="362.1" cy="300.5" r="2.85"/><circle cx="392.3" cy="286.3" r="2.85"/><circle cx="351.2" cy="323.1" r="2.85"/><circle cx="356.8" cy="319.4" r="2.85"/><circle cx="357.8" cy="368.7" r="2.85"/><circle cx="356.4" cy="306" r="2.85"/><circle cx="364.8" cy="273" r="2.85"/><circle cx="354.8" cy="310.4" r="2.85"/><circle cx="385.5" cy="306.6" r="2.85"/><circle cx="379.5" cy="280.1" r="2.85"/><circle cx="368" cy="304.5" r="2.85"/><circle cx="374" cy="304.5" r="2.85"/><circle cx="370.6" cy="305.9" r="2.85"/><circle cx="341.6" cy="349.2" r="2.85"/><circle cx="358.8" cy="293.6" r="2.85"/><circle cx="375.8" cy="274.9" r="2.85"/><circle cx="338.9" cy="295.6" r="2.85"/><circle cx="386.6" cy="286.6" r="2.85"/><circle cx="351.2" cy="336.8" r="2.85"/><circle cx="369.6" cy="321" r="2.85"/><circle cx="350.6" cy="275.7" r="2.85"/><circle cx="365" cy="342.3" r="2.85"/><circle cx="373.6" cy="345" r="2.85"/><circle cx="375.9" cy="309.8" r="2.85"/><circle cx="369.1" cy="348.1" r="2.85"/><circle cx="355.3" cy="347.7" r="2.85"/><circle cx="358.9" cy="351.9" r="2.85"/><circle cx="373.9" cy="339.7" r="2.85"/><circle cx="372.7" cy="314.7" r="2.85"/><circle cx="369.2" cy="290" r="2.85"/><circle cx="352.9" cy="313.5" r="2.85"/><circle cx="372" cy="289.1" r="2.85"/><circle cx="360.3" cy="323.5" r="2.85"/><circle cx="340.1" cy="394" r="2.85"/><circle cx="357.1" cy="335.3" r="2.85"/><circle cx="385.7" cy="354.6" r="2.85"/><circle cx="355.8" cy="309.7" r="2.85"/><circle cx="381.5" cy="295.9" r="2.85"/><circle cx="369.1" cy="325.5" r="2.85"/><circle cx="371.7" cy="313.5" r="2.85"/><circle cx="369.8" cy="293.7" r="2.85"/><circle cx="363.9" cy="280.7" r="2.85"/><circle cx="393" cy="329.2" r="2.85"/><circle cx="346.3" cy="297" r="2.85"/><circle cx="344.6" cy="335.1" r="2.85"/><circle cx="365.9" cy="287.7" r="2.85"/><circle cx="373.5" cy="379.4" r="2.85"/><circle cx="359.3" cy="325.3" r="2.85"/><circle cx="350.1" cy="309.7" r="2.85"/><circle cx="370.7" cy="342.9" r="2.85"/><circle cx="360.9" cy="379.6" r="2.85"/><circle cx="379.3" cy="341.7" r="2.85"/><circle cx="377" cy="317.3" r="2.85"/><circle cx="365.1" cy="300" r="2.85"/><circle cx="363.1" cy="296.4" r="2.85"/><circle cx="348.5" cy="321" r="2.85"/><circle cx="370.5" cy="350" r="2.85"/><circle cx="344.6" cy="351.4" r="2.85"/><circle cx="351.3" cy="305.6" r="2.85"/><circle cx="328.1" cy="307.3" r="2.85"/><circle cx="375" cy="307.1" r="2.85"/><circle cx="348.5" cy="269.5" r="2.85"/><circle cx="348.8" cy="336.1" r="2.85"/><circle cx="355.3" cy="316.9" r="2.85"/><circle cx="379.7" cy="304.6" r="2.85"/><circle cx="367.7" cy="315.6" r="2.85"/><circle cx="362.3" cy="347.5" r="2.85"/><circle cx="371.9" cy="345.4" r="2.85"/><circle cx="372.9" cy="308.6" r="2.85"/><circle cx="349.5" cy="308.1" r="2.85"/><circle cx="367.8" cy="266" r="2.85"/><circle cx="379.6" cy="307.9" r="2.85"/><circle cx="347.5" cy="392.7" r="2.85"/><circle cx="377" cy="346.6" r="2.85"/><circle cx="363.1" cy="355.3" r="2.85"/><circle cx="340.2" cy="349.1" r="2.85"/><circle cx="351.5" cy="305.4" r="2.85"/><circle cx="365.7" cy="302.4" r="2.85"/><circle cx="385.9" cy="301.6" r="2.85"/><circle cx="361.8" cy="349.9" r="2.85"/><circle cx="354.8" cy="326" r="2.85"/><circle cx="377.1" cy="310.4" r="2.85"/><circle cx="365.7" cy="274" r="2.85"/><circle cx="359.1" cy="278.9" r="2.85"/><circle cx="361" cy="317.6" r="2.85"/><circle cx="371.9" cy="286.2" r="2.85"/><circle cx="359" cy="310.4" r="2.85"/><circle cx="358.1" cy="322" r="2.85"/><circle cx="356.7" cy="324.1" r="2.85"/><circle cx="371" cy="355.5" r="2.85"/><circle cx="343.9" cy="281" r="2.85"/><circle cx="372.4" cy="305.8" r="2.85"/><circle cx="357.2" cy="345.8" r="2.85"/><circle cx="376.1" cy="321.2" r="2.85"/><circle cx="361.1" cy="328" r="2.85"/><circle cx="342.8" cy="327.2" r="2.85"/><circle cx="379.2" cy="322.2" r="2.85"/><circle cx="370.5" cy="266.6" r="2.85"/><circle cx="368.7" cy="353.8" r="2.85"/><circle cx="352.9" cy="289.7" r="2.85"/><circle cx="382.2" cy="312.8" r="2.85"/><circle cx="355.2" cy="290.5" r="2.85"/><circle cx="386.3" cy="323.1" r="2.85"/><circle cx="364.9" cy="336.3" r="2.85"/><circle cx="386.2" cy="304.1" r="2.85"/><circle cx="351.3" cy="262.2" r="2.85"/><circle cx="339.7" cy="356.3" r="2.85"/><circle cx="348.1" cy="300.3" r="2.85"/><circle cx="357.7" cy="276.7" r="2.85"/><circle cx="352.6" cy="303.9" r="2.85"/><circle cx="356.3" cy="317.8" r="2.85"/><circle cx="366" cy="278.2" r="2.85"/><circle cx="364.4" cy="308.8" r="2.85"/><circle cx="367.6" cy="287.2" r="2.85"/><circle cx="358.6" cy="307.1" r="2.85"/><circle cx="372.9" cy="294.1" r="2.85"/><circle cx="379" cy="321.6" r="2.85"/><circle cx="349" cy="338" r="2.85"/><circle cx="380.7" cy="275.8" r="2.85"/><circle cx="349.6" cy="316.7" r="2.85"/><circle cx="387.6" cy="293.3" r="2.85"/><circle cx="367.1" cy="338.3" r="2.85"/><circle cx="392.5" cy="300.3" r="2.85"/><circle cx="328.8" cy="294.3" r="2.85"/><circle cx="308.3" cy="336.1" r="2.85"/><circle cx="314.9" cy="379" r="2.85"/><circle cx="353.5" cy="295.7" r="2.85"/><circle cx="347.9" cy="362.3" r="2.85"/><circle cx="400.2" cy="312.4" r="2.85"/><circle cx="378.9" cy="286.6" r="2.85"/><circle cx="300.7" cy="374.7" r="2.85"/><circle cx="369.7" cy="327.2" r="2.85"/><circle cx="344.4" cy="358.1" r="2.85"/><circle cx="352.4" cy="340.3" r="2.85"/><circle cx="360.4" cy="350.7" r="2.85"/><circle cx="305.3" cy="386.2" r="2.85"/><circle cx="321.9" cy="380" r="2.85"/><circle cx="315.7" cy="320.1" r="2.85"/><circle cx="314.9" cy="333" r="2.85"/><circle cx="387.4" cy="280.5" r="2.85"/><circle cx="330.9" cy="338.1" r="2.85"/><circle cx="319.7" cy="299.2" r="2.85"/><circle cx="398.3" cy="343" r="2.85"/><circle cx="304.3" cy="344.3" r="2.85"/><circle cx="329.6" cy="337.3" r="2.85"/><circle cx="394.6" cy="340.3" r="2.85"/><circle cx="406.9" cy="333.6" r="2.85"/><circle cx="335.1" cy="361.8" r="2.85"/><circle cx="341.2" cy="323.5" r="2.85"/><circle cx="338.9" cy="345.3" r="2.85"/><circle cx="357.5" cy="305.3" r="2.85"/><circle cx="339.7" cy="317" r="2.85"/><circle cx="303.7" cy="347.9" r="2.85"/><circle cx="306.4" cy="361.7" r="2.85"/><circle cx="340" cy="334.1" r="2.85"/><circle cx="402.7" cy="307.4" r="2.85"/><circle cx="406.1" cy="315.2" r="2.85"/><circle cx="323.8" cy="343.6" r="2.85"/><circle cx="331.3" cy="337" r="2.85"/><circle cx="374.4" cy="278.8" r="2.85"/><circle cx="310.2" cy="350.9" r="2.85"/><circle cx="366.5" cy="316.6" r="2.85"/><circle cx="378.4" cy="292.3" r="2.85"/><circle cx="315.4" cy="349.5" r="2.85"/><circle cx="390.8" cy="346.3" r="2.85"/><circle cx="335.2" cy="347.9" r="2.85"/><circle cx="425.5" cy="345.8" r="2.85"/><circle cx="429.5" cy="362.1" r="2.85"/><circle cx="430.8" cy="394.8" r="2.85"/><circle cx="433.4" cy="352.3" r="2.85"/><circle cx="436.1" cy="381.7" r="2.85"/><circle cx="428.2" cy="385" r="2.85"/></g><text transform="translate(258.1,329) rotate(-90)" font-size="15.6" fill="#000" font-family='"Liberation Sans",sans-serif' text-anchor="middle" >logS</text><path d="M505.2,255.9 V418.4 H663.7" fill="none" stroke="#000" stroke-width="1.8"/><line x1="501" y1="256.1" x2="505.2" y2="256.1" stroke="#000" stroke-width="1.4"/><line x1="501" y1="274" x2="505.2" y2="274" stroke="#000" stroke-width="1.4"/><line x1="501" y1="292" x2="505.2" y2="292" stroke="#000" stroke-width="1.4"/><line x1="501" y1="309.9" x2="505.2" y2="309.9" stroke="#000" stroke-width="1.4"/><line x1="501" y1="327.8" x2="505.2" y2="327.8" stroke="#000" stroke-width="1.4"/><line x1="501" y1="345.7" x2="505.2" y2="345.7" stroke="#000" stroke-width="1.4"/><line x1="501" y1="363.7" x2="505.2" y2="363.7" stroke="#000" stroke-width="1.4"/><line x1="501" y1="381.6" x2="505.2" y2="381.6" stroke="#000" stroke-width="1.4"/><line x1="501" y1="399.5" x2="505.2" y2="399.5" stroke="#000" stroke-width="1.4"/><line x1="501" y1="417.5" x2="505.2" y2="417.5" stroke="#000" stroke-width="1.4"/><line x1="505.1" y1="418.4" x2="505.1" y2="422.6" stroke="#000" stroke-width="1.4"/><line x1="531.5" y1="418.4" x2="531.5" y2="422.6" stroke="#000" stroke-width="1.4"/><line x1="557.9" y1="418.4" x2="557.9" y2="422.6" stroke="#000" stroke-width="1.4"/><line x1="584.4" y1="418.4" x2="584.4" y2="422.6" stroke="#000" stroke-width="1.4"/><line x1="610.8" y1="418.4" x2="610.8" y2="422.6" stroke="#000" stroke-width="1.4"/><line x1="637.2" y1="418.4" x2="637.2" y2="422.6" stroke="#000" stroke-width="1.4"/><line x1="663.7" y1="418.4" x2="663.7" y2="422.6" stroke="#000" stroke-width="1.4"/><text x="493.5" y="260.4" font-size="13.6" text-anchor="end" font-family='"Liberation Sans",sans-serif'>7</text><text x="493.5" y="278.3" font-size="13.6" text-anchor="end" font-family='"Liberation Sans",sans-serif'>6</text><text x="493.5" y="296.3" font-size="13.6" text-anchor="end" font-family='"Liberation Sans",sans-serif'>5</text><text x="493.5" y="314.2" font-size="13.6" text-anchor="end" font-family='"Liberation Sans",sans-serif'>4</text><text x="493.5" y="332.1" font-size="13.6" text-anchor="end" font-family='"Liberation Sans",sans-serif'>3</text><text x="493.5" y="350" font-size="13.6" text-anchor="end" font-family='"Liberation Sans",sans-serif'>2</text><text x="493.5" y="368" font-size="13.6" text-anchor="end" font-family='"Liberation Sans",sans-serif'>1</text><text x="493.5" y="385.9" font-size="13.6" text-anchor="end" font-family='"Liberation Sans",sans-serif'>0</text><text x="493.5" y="403.8" font-size="13.6" text-anchor="end" font-family='"Liberation Sans",sans-serif'>-1</text><text x="493.5" y="421.8" font-size="13.6" text-anchor="end" font-family='"Liberation Sans",sans-serif'>-2</text><text x="505.1" y="437.8" font-size="13.6" text-anchor="middle" font-family='"Liberation Sans",sans-serif'>-20</text><text x="531.5" y="437.8" font-size="13.6" text-anchor="middle" font-family='"Liberation Sans",sans-serif'>0</text><text x="557.9" y="437.8" font-size="13.6" text-anchor="middle" font-family='"Liberation Sans",sans-serif'>20</text><text x="584.4" y="437.8" font-size="13.6" text-anchor="middle" font-family='"Liberation Sans",sans-serif'>40</text><text x="610.8" y="437.8" font-size="13.6" text-anchor="middle" font-family='"Liberation Sans",sans-serif'>60</text><text x="637.2" y="437.8" font-size="13.6" text-anchor="middle" font-family='"Liberation Sans",sans-serif'>80</text><text x="663.7" y="437.8" font-size="13.6" text-anchor="middle" font-family='"Liberation Sans",sans-serif'>100</text><g fill="#444" fill-opacity="0.34"><circle cx="536.4" cy="338.7" r="2.85"/><circle cx="529.5" cy="331.7" r="2.85"/><circle cx="538.9" cy="312.3" r="2.85"/><circle cx="539.2" cy="299.4" r="2.85"/><circle cx="538.6" cy="347.6" r="2.85"/><circle cx="531.9" cy="309.2" r="2.85"/><circle cx="529" cy="307.6" r="2.85"/><circle cx="531.2" cy="341.8" r="2.85"/><circle cx="541.9" cy="347.8" r="2.85"/><circle cx="536.4" cy="330.6" r="2.85"/><circle cx="532" cy="336.8" r="2.85"/><circle cx="530.5" cy="354.2" r="2.85"/><circle cx="547.1" cy="372.7" r="2.85"/><circle cx="540.4" cy="317.3" r="2.85"/><circle cx="546.7" cy="353.4" r="2.85"/><circle cx="542.2" cy="302.4" r="2.85"/><circle cx="521" cy="303.4" r="2.85"/><circle cx="540.3" cy="339.9" r="2.85"/><circle cx="544" cy="305.9" r="2.85"/><circle cx="542.8" cy="342.9" r="2.85"/><circle cx="543.6" cy="295" r="2.85"/><circle cx="538.9" cy="315.7" r="2.85"/><circle cx="529" cy="358.4" r="2.85"/><circle cx="519" cy="330.9" r="2.85"/><circle cx="547.9" cy="340.4" r="2.85"/><circle cx="550.2" cy="330.6" r="2.85"/><circle cx="543.5" cy="305.1" r="2.85"/><circle cx="542.3" cy="368.1" r="2.85"/><circle cx="542.9" cy="333.8" r="2.85"/><circle cx="546.9" cy="295" r="2.85"/><circle cx="557.7" cy="348.9" r="2.85"/><circle cx="531.2" cy="340.2" r="2.85"/><circle cx="542.2" cy="330.7" r="2.85"/><circle cx="530.2" cy="350.9" r="2.85"/><circle cx="542.1" cy="317.4" r="2.85"/><circle cx="539" cy="326.7" r="2.85"/><circle cx="558.1" cy="322" r="2.85"/><circle cx="541.5" cy="309.8" r="2.85"/><circle cx="523.2" cy="300.5" r="2.85"/><circle cx="538" cy="336.6" r="2.85"/><circle cx="543.6" cy="325.7" r="2.85"/><circle cx="540.7" cy="366.5" r="2.85"/><circle cx="549.4" cy="315" r="2.85"/><circle cx="523.1" cy="317.5" r="2.85"/><circle cx="543.5" cy="323.3" r="2.85"/><circle cx="541.1" cy="337.8" r="2.85"/><circle cx="530" cy="326.6" r="2.85"/><circle cx="533.5" cy="306.9" r="2.85"/><circle cx="534.7" cy="330.8" r="2.85"/><circle cx="540" cy="328.3" r="2.85"/><circle cx="518" cy="324.7" r="2.85"/><circle cx="540.5" cy="332.9" r="2.85"/><circle cx="522" cy="305.9" r="2.85"/><circle cx="538.4" cy="341.7" r="2.85"/><circle cx="519.6" cy="329.8" r="2.85"/><circle cx="550" cy="349.9" r="2.85"/><circle cx="543.7" cy="339.5" r="2.85"/><circle cx="542.4" cy="332.6" r="2.85"/><circle cx="549.6" cy="347.6" r="2.85"/><circle cx="545.1" cy="339" r="2.85"/><circle cx="551.3" cy="321" r="2.85"/><circle cx="545.9" cy="346.6" r="2.85"/><circle cx="536.8" cy="340" r="2.85"/><circle cx="531.8" cy="308.8" r="2.85"/><circle cx="556.6" cy="342.4" r="2.85"/><circle cx="534.8" cy="321" r="2.85"/><circle cx="549.9" cy="361.4" r="2.85"/><circle cx="554.8" cy="346.1" r="2.85"/><circle cx="539.3" cy="299.8" r="2.85"/><circle cx="538.2" cy="317.3" r="2.85"/><circle cx="526.5" cy="322.6" r="2.85"/><circle cx="523.3" cy="316.3" r="2.85"/><circle cx="552.1" cy="356.5" r="2.85"/><circle cx="529.6" cy="342" r="2.85"/><circle cx="538.2" cy="331.4" r="2.85"/><circle cx="532.1" cy="312.8" r="2.85"/><circle cx="538.5" cy="371.3" r="2.85"/><circle cx="541.6" cy="307.8" r="2.85"/><circle cx="542.2" cy="347" r="2.85"/><circle cx="531.9" cy="333.9" r="2.85"/><circle cx="529.1" cy="370.4" r="2.85"/><circle cx="553.6" cy="361.4" r="2.85"/><circle cx="532.2" cy="326.3" r="2.85"/><circle cx="550.6" cy="328.4" r="2.85"/><circle cx="537.9" cy="355.5" r="2.85"/><circle cx="554" cy="367.2" r="2.85"/><circle cx="521.2" cy="343.1" r="2.85"/><circle cx="536.6" cy="300.8" r="2.85"/><circle cx="539.2" cy="342.1" r="2.85"/><circle cx="547.9" cy="317.5" r="2.85"/><circle cx="538.6" cy="326.2" r="2.85"/><circle cx="531.7" cy="296.6" r="2.85"/><circle cx="548.4" cy="323.6" r="2.85"/><circle cx="545.8" cy="343.9" r="2.85"/><circle cx="545.1" cy="349.5" r="2.85"/><circle cx="548.5" cy="314.9" r="2.85"/><circle cx="522.2" cy="316.9" r="2.85"/><circle cx="547.4" cy="326.3" r="2.85"/><circle cx="531.8" cy="301.4" r="2.85"/><circle cx="536.6" cy="324.4" r="2.85"/><circle cx="533" cy="314" r="2.85"/><circle cx="558.2" cy="351.5" r="2.85"/><circle cx="546.7" cy="354.9" r="2.85"/><circle cx="551.4" cy="356.8" r="2.85"/><circle cx="539.1" cy="341.4" r="2.85"/><circle cx="542.4" cy="305.4" r="2.85"/><circle cx="550.6" cy="330.1" r="2.85"/><circle cx="533.3" cy="329" r="2.85"/><circle cx="567.1" cy="363.1" r="2.85"/><circle cx="544.8" cy="334.2" r="2.85"/><circle cx="542.1" cy="300.6" r="2.85"/><circle cx="551.9" cy="317.1" r="2.85"/><circle cx="543.1" cy="328.3" r="2.85"/><circle cx="528.6" cy="325.8" r="2.85"/><circle cx="538.4" cy="315" r="2.85"/><circle cx="531.2" cy="324.1" r="2.85"/><circle cx="551.2" cy="317.9" r="2.85"/><circle cx="540.1" cy="312.6" r="2.85"/><circle cx="515.8" cy="297.7" r="2.85"/><circle cx="522.1" cy="331.6" r="2.85"/><circle cx="541.4" cy="351.1" r="2.85"/><circle cx="535.3" cy="298" r="2.85"/><circle cx="537.8" cy="348.4" r="2.85"/><circle cx="515.9" cy="334.8" r="2.85"/><circle cx="528" cy="326.5" r="2.85"/><circle cx="553" cy="327.5" r="2.85"/><circle cx="537.3" cy="331" r="2.85"/><circle cx="533.6" cy="305.9" r="2.85"/><circle cx="556.3" cy="361.7" r="2.85"/><circle cx="530.7" cy="348.4" r="2.85"/><circle cx="542.2" cy="344.3" r="2.85"/><circle cx="540.7" cy="319.2" r="2.85"/><circle cx="530.2" cy="316.1" r="2.85"/><circle cx="534.9" cy="335.4" r="2.85"/><circle cx="552.4" cy="322.3" r="2.85"/><circle cx="542.8" cy="327.2" r="2.85"/><circle cx="538.8" cy="333.5" r="2.85"/><circle cx="553.5" cy="350" r="2.85"/><circle cx="529" cy="318.6" r="2.85"/><circle cx="541.3" cy="341.3" r="2.85"/><circle cx="524.8" cy="321.8" r="2.85"/><circle cx="537.7" cy="345.4" r="2.85"/><circle cx="555" cy="346.2" r="2.85"/><circle cx="555.5" cy="339.8" r="2.85"/><circle cx="553.2" cy="344.8" r="2.85"/><circle cx="539.7" cy="320.9" r="2.85"/><circle cx="539" cy="326.3" r="2.85"/><circle cx="546" cy="335.5" r="2.85"/><circle cx="525.1" cy="306.3" r="2.85"/><circle cx="541" cy="353.8" r="2.85"/><circle cx="580.3" cy="327.4" r="2.85"/><circle cx="572.6" cy="376.1" r="2.85"/><circle cx="564.4" cy="321.1" r="2.85"/><circle cx="572.7" cy="322.6" r="2.85"/><circle cx="562.1" cy="312.6" r="2.85"/><circle cx="577" cy="340.1" r="2.85"/><circle cx="582.8" cy="336.1" r="2.85"/><circle cx="583.6" cy="335.4" r="2.85"/><circle cx="561.3" cy="336.4" r="2.85"/><circle cx="563.6" cy="334.8" r="2.85"/><circle cx="569.8" cy="328.1" r="2.85"/><circle cx="560.3" cy="333.9" r="2.85"/><circle cx="569.9" cy="345.7" r="2.85"/><circle cx="546.6" cy="328.1" r="2.85"/><circle cx="566" cy="339.4" r="2.85"/><circle cx="574.3" cy="321.6" r="2.85"/><circle cx="574" cy="361.6" r="2.85"/><circle cx="575.9" cy="359.4" r="2.85"/><circle cx="589.3" cy="341.3" r="2.85"/><circle cx="574.9" cy="356.7" r="2.85"/><circle cx="567.7" cy="360.9" r="2.85"/><circle cx="585.2" cy="352" r="2.85"/><circle cx="582.5" cy="340.9" r="2.85"/><circle cx="580.2" cy="330.7" r="2.85"/><circle cx="580.3" cy="370.9" r="2.85"/><circle cx="581.2" cy="360.9" r="2.85"/><circle cx="582.4" cy="351" r="2.85"/><circle cx="578.9" cy="346.1" r="2.85"/><circle cx="560.1" cy="330.4" r="2.85"/><circle cx="582.6" cy="346.9" r="2.85"/><circle cx="604.9" cy="368.1" r="2.85"/><circle cx="586.7" cy="376.4" r="2.85"/><circle cx="572.3" cy="353.3" r="2.85"/><circle cx="590.4" cy="325.6" r="2.85"/><circle cx="591" cy="330.7" r="2.85"/><circle cx="608.1" cy="355.3" r="2.85"/><circle cx="551.8" cy="354.4" r="2.85"/><circle cx="573.5" cy="355.8" r="2.85"/><circle cx="570.7" cy="328.7" r="2.85"/><circle cx="574.3" cy="377.5" r="2.85"/><circle cx="560.2" cy="358" r="2.85"/><circle cx="621.4" cy="365.4" r="2.85"/><circle cx="600.4" cy="389.7" r="2.85"/><circle cx="583" cy="340.3" r="2.85"/><circle cx="566" cy="353.7" r="2.85"/><circle cx="577.5" cy="309" r="2.85"/><circle cx="550.1" cy="336" r="2.85"/><circle cx="542.3" cy="319.9" r="2.85"/><circle cx="574.9" cy="339.9" r="2.85"/><circle cx="562.9" cy="310.8" r="2.85"/><circle cx="558.5" cy="341.8" r="2.85"/><circle cx="569.3" cy="336" r="2.85"/><circle cx="587.8" cy="364.8" r="2.85"/><circle cx="574.2" cy="377.7" r="2.85"/><circle cx="568.1" cy="345.7" r="2.85"/><circle cx="578.2" cy="348.2" r="2.85"/><circle cx="551.8" cy="348.9" r="2.85"/><circle cx="577.2" cy="366.3" r="2.85"/><circle cx="571.8" cy="341.8" r="2.85"/><circle cx="575.4" cy="346.4" r="2.85"/><circle cx="585.7" cy="358.6" r="2.85"/><circle cx="578.3" cy="300.2" r="2.85"/><circle cx="570.3" cy="347.4" r="2.85"/><circle cx="571.9" cy="324.9" r="2.85"/><circle cx="579.4" cy="371.1" r="2.85"/><circle cx="604.8" cy="333.8" r="2.85"/><circle cx="557.7" cy="345.8" r="2.85"/><circle cx="588.9" cy="368.2" r="2.85"/><circle cx="562.3" cy="351.5" r="2.85"/><circle cx="566.7" cy="348.4" r="2.85"/><circle cx="580.5" cy="365" r="2.85"/><circle cx="594.6" cy="380.2" r="2.85"/><circle cx="568.6" cy="351.5" r="2.85"/><circle cx="572.2" cy="368.3" r="2.85"/><circle cx="592.7" cy="365.7" r="2.85"/><circle cx="557.9" cy="348.1" r="2.85"/><circle cx="615.2" cy="388.8" r="2.85"/><circle cx="577.7" cy="349.5" r="2.85"/><circle cx="572.5" cy="352.1" r="2.85"/><circle cx="602.7" cy="370.3" r="2.85"/><circle cx="561.6" cy="363" r="2.85"/><circle cx="567.2" cy="389.7" r="2.85"/><circle cx="568.2" cy="303.8" r="2.85"/><circle cx="566.8" cy="337.9" r="2.85"/><circle cx="575.2" cy="357.1" r="2.85"/><circle cx="565.2" cy="336.8" r="2.85"/><circle cx="595.9" cy="360.2" r="2.85"/><circle cx="589.9" cy="359.8" r="2.85"/><circle cx="578.4" cy="380.5" r="2.85"/><circle cx="584.4" cy="379.5" r="2.85"/><circle cx="581" cy="340.2" r="2.85"/><circle cx="552" cy="317" r="2.85"/><circle cx="569.2" cy="321.6" r="2.85"/><circle cx="586.2" cy="377.9" r="2.85"/><circle cx="549.3" cy="319.3" r="2.85"/><circle cx="597" cy="312.4" r="2.85"/><circle cx="561.6" cy="328.7" r="2.85"/><circle cx="580" cy="338.2" r="2.85"/><circle cx="561" cy="331.3" r="2.85"/><circle cx="575.4" cy="382.7" r="2.85"/><circle cx="584" cy="335.5" r="2.85"/><circle cx="586.3" cy="335.3" r="2.85"/><circle cx="579.5" cy="351.9" r="2.85"/><circle cx="565.7" cy="356.8" r="2.85"/><circle cx="569.3" cy="352.4" r="2.85"/><circle cx="584.3" cy="346.6" r="2.85"/><circle cx="583.1" cy="332" r="2.85"/><circle cx="579.6" cy="348.8" r="2.85"/><circle cx="563.3" cy="335.9" r="2.85"/><circle cx="582.4" cy="350.6" r="2.85"/><circle cx="570.7" cy="357.2" r="2.85"/><circle cx="550.5" cy="352.3" r="2.85"/><circle cx="567.5" cy="340.2" r="2.85"/><circle cx="596.1" cy="362.7" r="2.85"/><circle cx="566.2" cy="340.7" r="2.85"/><circle cx="591.9" cy="312.7" r="2.85"/><circle cx="579.5" cy="335.3" r="2.85"/><circle cx="582.1" cy="375.6" r="2.85"/><circle cx="580.2" cy="339.5" r="2.85"/><circle cx="574.3" cy="343.7" r="2.85"/><circle cx="603.4" cy="324.3" r="2.85"/><circle cx="556.7" cy="326.8" r="2.85"/><circle cx="555" cy="311.6" r="2.85"/><circle cx="576.3" cy="333.3" r="2.85"/><circle cx="583.9" cy="341.4" r="2.85"/><circle cx="569.7" cy="378.6" r="2.85"/><circle cx="560.5" cy="318.9" r="2.85"/><circle cx="581.1" cy="313.9" r="2.85"/><circle cx="571.3" cy="352.5" r="2.85"/><circle cx="589.7" cy="322.6" r="2.85"/><circle cx="587.4" cy="377.8" r="2.85"/><circle cx="575.5" cy="343.3" r="2.85"/><circle cx="573.5" cy="339.4" r="2.85"/><circle cx="558.9" cy="317.2" r="2.85"/><circle cx="580.9" cy="331.7" r="2.85"/><circle cx="555" cy="345.7" r="2.85"/><circle cx="561.7" cy="301.6" r="2.85"/><circle cx="538.5" cy="353.2" r="2.85"/><circle cx="585.4" cy="364.3" r="2.85"/><circle cx="558.9" cy="348.6" r="2.85"/><circle cx="559.2" cy="377.5" r="2.85"/><circle cx="565.7" cy="362.9" r="2.85"/><circle cx="590.1" cy="352.9" r="2.85"/><circle cx="578.1" cy="311.9" r="2.85"/><circle cx="572.7" cy="318.2" r="2.85"/><circle cx="582.3" cy="350.9" r="2.85"/><circle cx="583.3" cy="340.8" r="2.85"/><circle cx="559.9" cy="388.5" r="2.85"/><circle cx="578.2" cy="344.6" r="2.85"/><circle cx="590" cy="327.8" r="2.85"/><circle cx="557.9" cy="356.9" r="2.85"/><circle cx="587.4" cy="335" r="2.85"/><circle cx="573.5" cy="370.8" r="2.85"/><circle cx="550.6" cy="335.6" r="2.85"/><circle cx="561.9" cy="340.3" r="2.85"/><circle cx="576.1" cy="340.2" r="2.85"/><circle cx="596.3" cy="350" r="2.85"/><circle cx="572.2" cy="318.2" r="2.85"/><circle cx="565.2" cy="327.7" r="2.85"/><circle cx="587.5" cy="355.2" r="2.85"/><circle cx="576.1" cy="353.6" r="2.85"/><circle cx="569.5" cy="364.4" r="2.85"/><circle cx="571.4" cy="355.9" r="2.85"/><circle cx="582.3" cy="386.3" r="2.85"/><circle cx="569.4" cy="378.7" r="2.85"/><circle cx="568.5" cy="332.7" r="2.85"/><circle cx="567.1" cy="333" r="2.85"/><circle cx="581.4" cy="339.1" r="2.85"/><circle cx="554.3" cy="348.9" r="2.85"/><circle cx="582.8" cy="345" r="2.85"/><circle cx="567.6" cy="380.3" r="2.85"/><circle cx="586.5" cy="339.1" r="2.85"/><circle cx="571.5" cy="333.8" r="2.85"/><circle cx="553.2" cy="311" r="2.85"/><circle cx="589.6" cy="350.4" r="2.85"/><circle cx="580.9" cy="348.8" r="2.85"/><circle cx="579.1" cy="376.5" r="2.85"/><circle cx="563.3" cy="317.7" r="2.85"/><circle cx="592.6" cy="355.2" r="2.85"/><circle cx="565.6" cy="353.5" r="2.85"/><circle cx="596.7" cy="352.8" r="2.85"/><circle cx="575.3" cy="318.6" r="2.85"/><circle cx="596.6" cy="312.2" r="2.85"/><circle cx="561.7" cy="340.5" r="2.85"/><circle cx="550.1" cy="360" r="2.85"/><circle cx="558.5" cy="343.4" r="2.85"/><circle cx="568.1" cy="340.8" r="2.85"/><circle cx="563" cy="342.1" r="2.85"/><circle cx="566.7" cy="331.2" r="2.85"/><circle cx="576.4" cy="348.5" r="2.85"/><circle cx="574.8" cy="346.7" r="2.85"/><circle cx="578" cy="328.7" r="2.85"/><circle cx="569" cy="371.8" r="2.85"/><circle cx="583.3" cy="345.6" r="2.85"/><circle cx="589.4" cy="335.8" r="2.85"/><circle cx="559.4" cy="345.8" r="2.85"/><circle cx="591.1" cy="355.1" r="2.85"/><circle cx="560" cy="324.2" r="2.85"/><circle cx="598" cy="321.4" r="2.85"/><circle cx="577.5" cy="380.9" r="2.85"/><circle cx="602.9" cy="350" r="2.85"/><circle cx="539.2" cy="325.7" r="2.85"/><circle cx="518.7" cy="374.9" r="2.85"/><circle cx="525.3" cy="316.1" r="2.85"/><circle cx="563.9" cy="362.8" r="2.85"/><circle cx="558.3" cy="298.7" r="2.85"/><circle cx="610.6" cy="334.7" r="2.85"/><circle cx="589.3" cy="383.1" r="2.85"/><circle cx="511.1" cy="301.9" r="2.85"/><circle cx="580.1" cy="370.2" r="2.85"/><circle cx="554.8" cy="343.9" r="2.85"/><circle cx="562.8" cy="326.3" r="2.85"/><circle cx="570.8" cy="346.9" r="2.85"/><circle cx="515.7" cy="318.5" r="2.85"/><circle cx="532.3" cy="378.5" r="2.85"/><circle cx="526.1" cy="363.6" r="2.85"/><circle cx="525.3" cy="354.4" r="2.85"/><circle cx="597.8" cy="355.1" r="2.85"/><circle cx="541.3" cy="319.8" r="2.85"/><circle cx="530.1" cy="323.7" r="2.85"/><circle cx="608.7" cy="361.4" r="2.85"/><circle cx="514.7" cy="335" r="2.85"/><circle cx="540" cy="317.7" r="2.85"/><circle cx="605" cy="345.9" r="2.85"/><circle cx="617.3" cy="380.9" r="2.85"/><circle cx="545.5" cy="331.5" r="2.85"/><circle cx="551.6" cy="309.7" r="2.85"/><circle cx="549.3" cy="357.4" r="2.85"/><circle cx="567.9" cy="359.2" r="2.85"/><circle cx="550.1" cy="332.4" r="2.85"/><circle cx="514.1" cy="323.5" r="2.85"/><circle cx="516.8" cy="343.6" r="2.85"/><circle cx="550.4" cy="340.5" r="2.85"/><circle cx="613.1" cy="373.9" r="2.85"/><circle cx="616.5" cy="360" r="2.85"/><circle cx="534.2" cy="306.5" r="2.85"/><circle cx="541.7" cy="359.3" r="2.85"/><circle cx="584.8" cy="374.3" r="2.85"/><circle cx="520.6" cy="296.3" r="2.85"/><circle cx="576.9" cy="352.5" r="2.85"/><circle cx="588.8" cy="364.3" r="2.85"/><circle cx="525.8" cy="336.9" r="2.85"/><circle cx="601.2" cy="351.5" r="2.85"/><circle cx="545.6" cy="350.7" r="2.85"/><circle cx="635.9" cy="349.3" r="2.85"/><circle cx="639.9" cy="327.8" r="2.85"/><circle cx="641.2" cy="313.5" r="2.85"/><circle cx="643.8" cy="309.9" r="2.85"/><circle cx="646.5" cy="297.3" r="2.85"/><circle cx="638.6" cy="302.7" r="2.85"/></g><text transform="translate(477.3,330) rotate(-90)" font-size="15.6" fill="#000" font-family='"Liberation Sans",sans-serif' text-anchor="middle" >ClogP</text><path d="M63.9,455.7 V618.4 H229.1" fill="none" stroke="#000" stroke-width="1.8"/><line x1="59.7" y1="455.8" x2="63.9" y2="455.8" stroke="#000" stroke-width="1.4"/><line x1="59.7" y1="476.1" x2="63.9" y2="476.1" stroke="#000" stroke-width="1.4"/><line x1="59.7" y1="496.4" x2="63.9" y2="496.4" stroke="#000" stroke-width="1.4"/><line x1="59.7" y1="516.8" x2="63.9" y2="516.8" stroke="#000" stroke-width="1.4"/><line x1="59.7" y1="537.1" x2="63.9" y2="537.1" stroke="#000" stroke-width="1.4"/><line x1="59.7" y1="557.4" x2="63.9" y2="557.4" stroke="#000" stroke-width="1.4"/><line x1="59.7" y1="577.7" x2="63.9" y2="577.7" stroke="#000" stroke-width="1.4"/><line x1="59.7" y1="598.1" x2="63.9" y2="598.1" stroke="#000" stroke-width="1.4"/><line x1="59.7" y1="618.4" x2="63.9" y2="618.4" stroke="#000" stroke-width="1.4"/><line x1="63.9" y1="618.4" x2="63.9" y2="622.6" stroke="#000" stroke-width="1.4"/><line x1="91.4" y1="618.4" x2="91.4" y2="622.6" stroke="#000" stroke-width="1.4"/><line x1="118.9" y1="618.4" x2="118.9" y2="622.6" stroke="#000" stroke-width="1.4"/><line x1="146.5" y1="618.4" x2="146.5" y2="622.6" stroke="#000" stroke-width="1.4"/><line x1="174" y1="618.4" x2="174" y2="622.6" stroke="#000" stroke-width="1.4"/><line x1="201.5" y1="618.4" x2="201.5" y2="622.6" stroke="#000" stroke-width="1.4"/><line x1="229.1" y1="618.4" x2="229.1" y2="622.6" stroke="#000" stroke-width="1.4"/><text x="51.6" y="460.1" font-size="13.6" text-anchor="end" font-family='"Liberation Sans",sans-serif'>9</text><text x="51.6" y="480.4" font-size="13.6" text-anchor="end" font-family='"Liberation Sans",sans-serif'>8</text><text x="51.6" y="500.7" font-size="13.6" text-anchor="end" font-family='"Liberation Sans",sans-serif'>7</text><text x="51.6" y="521" font-size="13.6" text-anchor="end" font-family='"Liberation Sans",sans-serif'>6</text><text x="51.6" y="541.4" font-size="13.6" text-anchor="end" font-family='"Liberation Sans",sans-serif'>5</text><text x="51.6" y="561.7" font-size="13.6" text-anchor="end" font-family='"Liberation Sans",sans-serif'>4</text><text x="51.6" y="582" font-size="13.6" text-anchor="end" font-family='"Liberation Sans",sans-serif'>3</text><text x="51.6" y="602.4" font-size="13.6" text-anchor="end" font-family='"Liberation Sans",sans-serif'>2</text><text x="51.6" y="622.7" font-size="13.6" text-anchor="end" font-family='"Liberation Sans",sans-serif'>1</text><text x="63.9" y="638.3" font-size="13.6" text-anchor="middle" font-family='"Liberation Sans",sans-serif'>-20</text><text x="91.4" y="638.3" font-size="13.6" text-anchor="middle" font-family='"Liberation Sans",sans-serif'>0</text><text x="118.9" y="638.3" font-size="13.6" text-anchor="middle" font-family='"Liberation Sans",sans-serif'>20</text><text x="146.5" y="638.3" font-size="13.6" text-anchor="middle" font-family='"Liberation Sans",sans-serif'>40</text><text x="174" y="638.3" font-size="13.6" text-anchor="middle" font-family='"Liberation Sans",sans-serif'>60</text><text x="201.5" y="638.3" font-size="13.6" text-anchor="middle" font-family='"Liberation Sans",sans-serif'>80</text><text x="229.1" y="638.3" font-size="13.6" text-anchor="middle" font-family='"Liberation Sans",sans-serif'>100</text><g fill="#555" fill-opacity="0.2"><circle cx="96.5" cy="598.1" r="2.85"/><circle cx="89.3" cy="577.7" r="2.85"/><circle cx="99.1" cy="598.1" r="2.85"/><circle cx="99.4" cy="618.4" r="2.85"/><circle cx="98.8" cy="618.4" r="2.85"/><circle cx="91.8" cy="618.4" r="2.85"/><circle cx="88.8" cy="618.4" r="2.85"/><circle cx="91.1" cy="598.1" r="2.85"/><circle cx="102.3" cy="557.4" r="2.85"/><circle cx="96.5" cy="577.7" r="2.85"/><circle cx="91.9" cy="598.1" r="2.85"/><circle cx="90.4" cy="618.4" r="2.85"/><circle cx="107.6" cy="618.4" r="2.85"/><circle cx="100.6" cy="618.4" r="2.85"/><circle cx="107.2" cy="618.4" r="2.85"/><circle cx="102.6" cy="618.4" r="2.85"/><circle cx="80.5" cy="598.1" r="2.85"/><circle cx="100.6" cy="618.4" r="2.85"/><circle cx="104.4" cy="598.1" r="2.85"/><circle cx="103.1" cy="618.4" r="2.85"/><circle cx="104" cy="598.1" r="2.85"/><circle cx="99.1" cy="598.1" r="2.85"/><circle cx="88.8" cy="577.7" r="2.85"/><circle cx="78.4" cy="577.7" r="2.85"/><circle cx="108.5" cy="598.1" r="2.85"/><circle cx="110.8" cy="577.7" r="2.85"/><circle cx="103.9" cy="598.1" r="2.85"/><circle cx="102.6" cy="577.7" r="2.85"/><circle cx="103.3" cy="598.1" r="2.85"/><circle cx="107.5" cy="577.7" r="2.85"/><circle cx="118.7" cy="598.1" r="2.85"/><circle cx="91.1" cy="537.1" r="2.85"/><circle cx="102.6" cy="598.1" r="2.85"/><circle cx="90" cy="598.1" r="2.85"/><circle cx="102.4" cy="537.1" r="2.85"/><circle cx="99.2" cy="577.7" r="2.85"/><circle cx="119.1" cy="598.1" r="2.85"/><circle cx="101.8" cy="598.1" r="2.85"/><circle cx="82.8" cy="557.4" r="2.85"/><circle cx="98.2" cy="618.4" r="2.85"/><circle cx="104" cy="618.4" r="2.85"/><circle cx="101" cy="598.1" r="2.85"/><circle cx="110.1" cy="577.7" r="2.85"/><circle cx="82.7" cy="577.7" r="2.85"/><circle cx="103.9" cy="598.1" r="2.85"/><circle cx="101.4" cy="557.4" r="2.85"/><circle cx="89.8" cy="577.7" r="2.85"/><circle cx="93.5" cy="577.7" r="2.85"/><circle cx="94.7" cy="598.1" r="2.85"/><circle cx="100.3" cy="598.1" r="2.85"/><circle cx="77.3" cy="598.1" r="2.85"/><circle cx="100.8" cy="577.7" r="2.85"/><circle cx="81.5" cy="618.4" r="2.85"/><circle cx="98.6" cy="618.4" r="2.85"/><circle cx="79" cy="598.1" r="2.85"/><circle cx="110.7" cy="598.1" r="2.85"/><circle cx="104.2" cy="598.1" r="2.85"/><circle cx="102.7" cy="598.1" r="2.85"/><circle cx="110.3" cy="618.4" r="2.85"/><circle cx="105.5" cy="598.1" r="2.85"/><circle cx="112.1" cy="577.7" r="2.85"/><circle cx="106.4" cy="618.4" r="2.85"/><circle cx="96.9" cy="577.7" r="2.85"/><circle cx="91.7" cy="557.4" r="2.85"/><circle cx="117.5" cy="598.1" r="2.85"/><circle cx="94.8" cy="598.1" r="2.85"/><circle cx="110.6" cy="618.4" r="2.85"/><circle cx="115.7" cy="618.4" r="2.85"/><circle cx="99.5" cy="577.7" r="2.85"/><circle cx="98.4" cy="618.4" r="2.85"/><circle cx="86.2" cy="557.4" r="2.85"/><circle cx="82.9" cy="577.7" r="2.85"/><circle cx="112.8" cy="577.7" r="2.85"/><circle cx="89.4" cy="598.1" r="2.85"/><circle cx="98.4" cy="557.4" r="2.85"/><circle cx="92" cy="577.7" r="2.85"/><circle cx="98.7" cy="557.4" r="2.85"/><circle cx="101.9" cy="598.1" r="2.85"/><circle cx="102.6" cy="537.1" r="2.85"/><circle cx="91.8" cy="598.1" r="2.85"/><circle cx="88.9" cy="618.4" r="2.85"/><circle cx="114.5" cy="598.1" r="2.85"/><circle cx="92.1" cy="598.1" r="2.85"/><circle cx="111.3" cy="598.1" r="2.85"/><circle cx="98" cy="577.7" r="2.85"/><circle cx="114.8" cy="598.1" r="2.85"/><circle cx="80.7" cy="577.7" r="2.85"/><circle cx="96.7" cy="618.4" r="2.85"/><circle cx="99.4" cy="598.1" r="2.85"/><circle cx="108.5" cy="598.1" r="2.85"/><circle cx="98.8" cy="618.4" r="2.85"/><circle cx="91.6" cy="598.1" r="2.85"/><circle cx="109" cy="618.4" r="2.85"/><circle cx="106.3" cy="598.1" r="2.85"/><circle cx="105.6" cy="577.7" r="2.85"/><circle cx="109.1" cy="577.7" r="2.85"/><circle cx="81.7" cy="577.7" r="2.85"/><circle cx="107.9" cy="577.7" r="2.85"/><circle cx="91.7" cy="618.4" r="2.85"/><circle cx="96.7" cy="577.7" r="2.85"/><circle cx="93" cy="618.4" r="2.85"/><circle cx="119.2" cy="577.7" r="2.85"/><circle cx="107.3" cy="618.4" r="2.85"/><circle cx="112.1" cy="598.1" r="2.85"/><circle cx="99.3" cy="577.7" r="2.85"/><circle cx="102.7" cy="577.7" r="2.85"/><circle cx="111.3" cy="618.4" r="2.85"/><circle cx="93.3" cy="598.1" r="2.85"/><circle cx="128.5" cy="618.4" r="2.85"/><circle cx="105.2" cy="618.4" r="2.85"/><circle cx="102.5" cy="598.1" r="2.85"/><circle cx="112.6" cy="557.4" r="2.85"/><circle cx="103.5" cy="618.4" r="2.85"/><circle cx="88.4" cy="557.4" r="2.85"/><circle cx="98.5" cy="577.7" r="2.85"/><circle cx="91.1" cy="577.7" r="2.85"/><circle cx="111.9" cy="618.4" r="2.85"/><circle cx="100.4" cy="618.4" r="2.85"/><circle cx="75" cy="577.7" r="2.85"/><circle cx="81.6" cy="598.1" r="2.85"/><circle cx="101.7" cy="577.7" r="2.85"/><circle cx="95.4" cy="618.4" r="2.85"/><circle cx="98" cy="598.1" r="2.85"/><circle cx="75.2" cy="577.7" r="2.85"/><circle cx="87.7" cy="618.4" r="2.85"/><circle cx="113.8" cy="598.1" r="2.85"/><circle cx="97.5" cy="618.4" r="2.85"/><circle cx="93.5" cy="618.4" r="2.85"/><circle cx="117.3" cy="618.4" r="2.85"/><circle cx="90.5" cy="577.7" r="2.85"/><circle cx="102.6" cy="598.1" r="2.85"/><circle cx="101" cy="598.1" r="2.85"/><circle cx="90.1" cy="598.1" r="2.85"/><circle cx="95" cy="618.4" r="2.85"/><circle cx="113.2" cy="577.7" r="2.85"/><circle cx="103.2" cy="557.4" r="2.85"/><circle cx="99" cy="577.7" r="2.85"/><circle cx="114.3" cy="598.1" r="2.85"/><circle cx="88.8" cy="557.4" r="2.85"/><circle cx="101.6" cy="598.1" r="2.85"/><circle cx="84.4" cy="598.1" r="2.85"/><circle cx="97.9" cy="618.4" r="2.85"/><circle cx="115.9" cy="577.7" r="2.85"/><circle cx="116.4" cy="598.1" r="2.85"/><circle cx="114" cy="577.7" r="2.85"/><circle cx="100" cy="537.1" r="2.85"/><circle cx="99.2" cy="598.1" r="2.85"/><circle cx="106.5" cy="618.4" r="2.85"/><circle cx="84.7" cy="598.1" r="2.85"/><circle cx="101.3" cy="618.4" r="2.85"/><circle cx="142.2" cy="598.1" r="2.85"/><circle cx="134.2" cy="618.4" r="2.85"/><circle cx="125.7" cy="557.4" r="2.85"/><circle cx="134.3" cy="618.4" r="2.85"/><circle cx="123.3" cy="577.7" r="2.85"/><circle cx="138.8" cy="598.1" r="2.85"/><circle cx="144.8" cy="618.4" r="2.85"/><circle cx="145.7" cy="598.1" r="2.85"/><circle cx="122.4" cy="618.4" r="2.85"/><circle cx="124.8" cy="557.4" r="2.85"/><circle cx="131.3" cy="598.1" r="2.85"/><circle cx="121.4" cy="618.4" r="2.85"/><circle cx="131.4" cy="577.7" r="2.85"/><circle cx="107.1" cy="577.7" r="2.85"/><circle cx="127.3" cy="598.1" r="2.85"/><circle cx="135.9" cy="577.7" r="2.85"/><circle cx="135.6" cy="618.4" r="2.85"/><circle cx="137.6" cy="618.4" r="2.85"/><circle cx="151.6" cy="577.7" r="2.85"/><circle cx="136.6" cy="598.1" r="2.85"/><circle cx="129.1" cy="618.4" r="2.85"/><circle cx="147.4" cy="577.7" r="2.85"/><circle cx="144.5" cy="598.1" r="2.85"/><circle cx="142.2" cy="557.4" r="2.85"/><circle cx="142.3" cy="598.1" r="2.85"/><circle cx="143.2" cy="598.1" r="2.85"/><circle cx="144.5" cy="577.7" r="2.85"/><circle cx="140.8" cy="557.4" r="2.85"/><circle cx="121.2" cy="557.4" r="2.85"/><circle cx="144.6" cy="598.1" r="2.85"/><circle cx="167.8" cy="618.4" r="2.85"/><circle cx="148.9" cy="577.7" r="2.85"/><circle cx="133.9" cy="598.1" r="2.85"/><circle cx="152.8" cy="598.1" r="2.85"/><circle cx="153.3" cy="598.1" r="2.85"/><circle cx="171.2" cy="598.1" r="2.85"/><circle cx="112.6" cy="577.7" r="2.85"/><circle cx="135.1" cy="618.4" r="2.85"/><circle cx="132.2" cy="598.1" r="2.85"/><circle cx="136" cy="598.1" r="2.85"/><circle cx="121.2" cy="557.4" r="2.85"/><circle cx="185" cy="577.7" r="2.85"/><circle cx="163.2" cy="577.7" r="2.85"/><circle cx="145.1" cy="618.4" r="2.85"/><circle cx="127.3" cy="618.4" r="2.85"/><circle cx="139.3" cy="618.4" r="2.85"/><circle cx="110.7" cy="618.4" r="2.85"/><circle cx="102.6" cy="618.4" r="2.85"/><circle cx="136.6" cy="618.4" r="2.85"/><circle cx="124.1" cy="577.7" r="2.85"/><circle cx="119.5" cy="618.4" r="2.85"/><circle cx="130.7" cy="598.1" r="2.85"/><circle cx="150.1" cy="577.7" r="2.85"/><circle cx="135.9" cy="577.7" r="2.85"/><circle cx="129.6" cy="557.4" r="2.85"/><circle cx="140.1" cy="577.7" r="2.85"/><circle cx="112.6" cy="598.1" r="2.85"/><circle cx="139.1" cy="577.7" r="2.85"/><circle cx="133.4" cy="557.4" r="2.85"/><circle cx="137.2" cy="598.1" r="2.85"/><circle cx="147.9" cy="598.1" r="2.85"/><circle cx="140.1" cy="598.1" r="2.85"/><circle cx="131.8" cy="577.7" r="2.85"/><circle cx="133.5" cy="577.7" r="2.85"/><circle cx="141.3" cy="618.4" r="2.85"/><circle cx="167.8" cy="557.4" r="2.85"/><circle cx="118.7" cy="577.7" r="2.85"/><circle cx="151.2" cy="618.4" r="2.85"/><circle cx="123.5" cy="577.7" r="2.85"/><circle cx="128.1" cy="577.7" r="2.85"/><circle cx="142.5" cy="598.1" r="2.85"/><circle cx="157.1" cy="618.4" r="2.85"/><circle cx="130.1" cy="537.1" r="2.85"/><circle cx="133.8" cy="598.1" r="2.85"/><circle cx="155.1" cy="598.1" r="2.85"/><circle cx="118.9" cy="598.1" r="2.85"/><circle cx="178.5" cy="577.7" r="2.85"/><circle cx="139.6" cy="598.1" r="2.85"/><circle cx="134.1" cy="577.7" r="2.85"/><circle cx="165.5" cy="598.1" r="2.85"/><circle cx="122.7" cy="598.1" r="2.85"/><circle cx="128.5" cy="618.4" r="2.85"/><circle cx="129.6" cy="577.7" r="2.85"/><circle cx="128.2" cy="577.7" r="2.85"/><circle cx="136.9" cy="618.4" r="2.85"/><circle cx="126.5" cy="598.1" r="2.85"/><circle cx="158.5" cy="618.4" r="2.85"/><circle cx="152.2" cy="577.7" r="2.85"/><circle cx="140.3" cy="598.1" r="2.85"/><circle cx="146.5" cy="598.1" r="2.85"/><circle cx="143" cy="598.1" r="2.85"/><circle cx="112.8" cy="618.4" r="2.85"/><circle cx="130.6" cy="598.1" r="2.85"/><circle cx="148.3" cy="618.4" r="2.85"/><circle cx="109.9" cy="557.4" r="2.85"/><circle cx="159.7" cy="618.4" r="2.85"/><circle cx="122.7" cy="598.1" r="2.85"/><circle cx="141.9" cy="577.7" r="2.85"/><circle cx="122.1" cy="598.1" r="2.85"/><circle cx="137.2" cy="598.1" r="2.85"/><circle cx="146.1" cy="598.1" r="2.85"/><circle cx="148.5" cy="537.1" r="2.85"/><circle cx="141.4" cy="618.4" r="2.85"/><circle cx="127" cy="598.1" r="2.85"/><circle cx="130.8" cy="598.1" r="2.85"/><circle cx="146.4" cy="577.7" r="2.85"/><circle cx="145.1" cy="577.7" r="2.85"/><circle cx="141.5" cy="598.1" r="2.85"/><circle cx="124.5" cy="557.4" r="2.85"/><circle cx="144.4" cy="577.7" r="2.85"/><circle cx="132.2" cy="598.1" r="2.85"/><circle cx="111.2" cy="577.7" r="2.85"/><circle cx="128.9" cy="537.1" r="2.85"/><circle cx="158.6" cy="577.7" r="2.85"/><circle cx="127.5" cy="618.4" r="2.85"/><circle cx="154.4" cy="598.1" r="2.85"/><circle cx="141.4" cy="598.1" r="2.85"/><circle cx="144.2" cy="557.4" r="2.85"/><circle cx="142.1" cy="598.1" r="2.85"/><circle cx="136" cy="557.4" r="2.85"/><circle cx="166.3" cy="577.7" r="2.85"/><circle cx="117.7" cy="598.1" r="2.85"/><circle cx="115.9" cy="598.1" r="2.85"/><circle cx="138.1" cy="598.1" r="2.85"/><circle cx="146" cy="598.1" r="2.85"/><circle cx="131.2" cy="618.4" r="2.85"/><circle cx="121.6" cy="537.1" r="2.85"/><circle cx="143.1" cy="598.1" r="2.85"/><circle cx="132.9" cy="598.1" r="2.85"/><circle cx="152" cy="618.4" r="2.85"/><circle cx="149.6" cy="577.7" r="2.85"/><circle cx="137.2" cy="577.7" r="2.85"/><circle cx="135.2" cy="598.1" r="2.85"/><circle cx="119.9" cy="598.1" r="2.85"/><circle cx="142.9" cy="598.1" r="2.85"/><circle cx="115.9" cy="577.7" r="2.85"/><circle cx="122.8" cy="618.4" r="2.85"/><circle cx="98.7" cy="618.4" r="2.85"/><circle cx="147.6" cy="618.4" r="2.85"/><circle cx="119.9" cy="598.1" r="2.85"/><circle cx="120.3" cy="598.1" r="2.85"/><circle cx="127" cy="598.1" r="2.85"/><circle cx="152.4" cy="598.1" r="2.85"/><circle cx="139.9" cy="618.4" r="2.85"/><circle cx="134.3" cy="618.4" r="2.85"/><circle cx="144.3" cy="577.7" r="2.85"/><circle cx="145.4" cy="577.7" r="2.85"/><circle cx="121" cy="598.1" r="2.85"/><circle cx="140" cy="577.7" r="2.85"/><circle cx="152.3" cy="598.1" r="2.85"/><circle cx="118.9" cy="618.4" r="2.85"/><circle cx="149.7" cy="557.4" r="2.85"/><circle cx="135.2" cy="618.4" r="2.85"/><circle cx="111.3" cy="618.4" r="2.85"/><circle cx="123" cy="618.4" r="2.85"/><circle cx="137.8" cy="537.1" r="2.85"/><circle cx="158.9" cy="598.1" r="2.85"/><circle cx="133.8" cy="618.4" r="2.85"/><circle cx="126.5" cy="598.1" r="2.85"/><circle cx="149.8" cy="598.1" r="2.85"/><circle cx="137.9" cy="618.4" r="2.85"/><circle cx="131" cy="598.1" r="2.85"/><circle cx="132.9" cy="577.7" r="2.85"/><circle cx="144.4" cy="598.1" r="2.85"/><circle cx="130.9" cy="598.1" r="2.85"/><circle cx="130" cy="577.7" r="2.85"/><circle cx="128.4" cy="577.7" r="2.85"/><circle cx="143.4" cy="598.1" r="2.85"/><circle cx="115.1" cy="557.4" r="2.85"/><circle cx="144.8" cy="618.4" r="2.85"/><circle cx="129" cy="577.7" r="2.85"/><circle cx="148.7" cy="598.1" r="2.85"/><circle cx="133" cy="618.4" r="2.85"/><circle cx="114" cy="598.1" r="2.85"/><circle cx="151.9" cy="598.1" r="2.85"/><circle cx="142.8" cy="577.7" r="2.85"/><circle cx="141" cy="577.7" r="2.85"/><circle cx="124.5" cy="577.7" r="2.85"/><circle cx="155" cy="598.1" r="2.85"/><circle cx="127" cy="598.1" r="2.85"/><circle cx="159.3" cy="577.7" r="2.85"/><circle cx="137.1" cy="577.7" r="2.85"/><circle cx="159.2" cy="598.1" r="2.85"/><circle cx="122.9" cy="598.1" r="2.85"/><circle cx="110.7" cy="618.4" r="2.85"/><circle cx="119.5" cy="598.1" r="2.85"/><circle cx="129.5" cy="577.7" r="2.85"/><circle cx="124.2" cy="618.4" r="2.85"/><circle cx="128.1" cy="598.1" r="2.85"/><circle cx="138.1" cy="598.1" r="2.85"/><circle cx="136.5" cy="577.7" r="2.85"/><circle cx="139.9" cy="598.1" r="2.85"/><circle cx="130.5" cy="598.1" r="2.85"/><circle cx="145.3" cy="577.7" r="2.85"/><circle cx="151.7" cy="598.1" r="2.85"/><circle cx="120.5" cy="577.7" r="2.85"/><circle cx="153.5" cy="557.4" r="2.85"/><circle cx="121.1" cy="598.1" r="2.85"/><circle cx="160.6" cy="598.1" r="2.85"/><circle cx="139.3" cy="598.1" r="2.85"/><circle cx="165.8" cy="598.1" r="2.85"/><circle cx="99.4" cy="598.1" r="2.85"/><circle cx="78.1" cy="618.4" r="2.85"/><circle cx="84.9" cy="598.1" r="2.85"/><circle cx="125.1" cy="598.1" r="2.85"/><circle cx="119.3" cy="577.7" r="2.85"/><circle cx="173.8" cy="557.4" r="2.85"/><circle cx="151.6" cy="618.4" r="2.85"/><circle cx="70.1" cy="618.4" r="2.85"/><circle cx="142.1" cy="598.1" r="2.85"/><circle cx="115.7" cy="618.4" r="2.85"/><circle cx="124" cy="598.1" r="2.85"/><circle cx="132.3" cy="537.1" r="2.85"/><circle cx="74.9" cy="577.7" r="2.85"/><circle cx="92.3" cy="598.1" r="2.85"/><circle cx="85.8" cy="557.4" r="2.85"/><circle cx="85" cy="577.7" r="2.85"/><circle cx="160.4" cy="618.4" r="2.85"/><circle cx="101.6" cy="598.1" r="2.85"/><circle cx="90" cy="577.7" r="2.85"/><circle cx="171.8" cy="577.7" r="2.85"/><circle cx="74" cy="598.1" r="2.85"/><circle cx="100.3" cy="598.1" r="2.85"/><circle cx="168" cy="598.1" r="2.85"/><circle cx="180.8" cy="598.1" r="2.85"/><circle cx="106" cy="577.7" r="2.85"/><circle cx="112.3" cy="598.1" r="2.85"/><circle cx="110" cy="577.7" r="2.85"/><circle cx="129.3" cy="577.7" r="2.85"/><circle cx="110.8" cy="618.4" r="2.85"/><circle cx="73.3" cy="577.7" r="2.85"/><circle cx="76.1" cy="598.1" r="2.85"/><circle cx="111.1" cy="618.4" r="2.85"/><circle cx="176.4" cy="598.1" r="2.85"/><circle cx="179.9" cy="577.7" r="2.85"/><circle cx="94.2" cy="577.7" r="2.85"/><circle cx="102.1" cy="537.1" r="2.85"/><circle cx="147" cy="618.4" r="2.85"/><circle cx="80.1" cy="577.7" r="2.85"/><circle cx="138.7" cy="577.7" r="2.85"/><circle cx="151.1" cy="577.7" r="2.85"/><circle cx="85.4" cy="618.4" r="2.85"/><circle cx="164" cy="598.1" r="2.85"/><circle cx="106.1" cy="618.4" r="2.85"/><circle cx="200.2" cy="598.1" r="2.85"/><circle cx="204.3" cy="557.4" r="2.85"/><circle cx="205.7" cy="516.8" r="2.85"/><circle cx="208.4" cy="537.1" r="2.85"/><circle cx="211.2" cy="537.1" r="2.85"/><circle cx="202.9" cy="537.1" r="2.85"/><circle cx="171.2" cy="476.1" r="2.85"/><circle cx="99.7" cy="516.8" r="2.85"/><circle cx="141" cy="516.8" r="2.85"/><circle cx="176.8" cy="516.8" r="2.85"/></g><text transform="translate(25.2,536.4) rotate(-90)" font-size="15.6" fill="#000" font-family='"Liberation Sans",sans-serif' text-anchor="middle" >rotatable bonds</text><path d="M297.2,455.9 V618.4 H463" fill="none" stroke="#000" stroke-width="1.8"/><line x1="293" y1="455.9" x2="297.2" y2="455.9" stroke="#000" stroke-width="1.4"/><line x1="293" y1="496.5" x2="297.2" y2="496.5" stroke="#000" stroke-width="1.4"/><line x1="293" y1="537.2" x2="297.2" y2="537.2" stroke="#000" stroke-width="1.4"/><line x1="293" y1="577.8" x2="297.2" y2="577.8" stroke="#000" stroke-width="1.4"/><line x1="293" y1="618.4" x2="297.2" y2="618.4" stroke="#000" stroke-width="1.4"/><line x1="297.2" y1="618.4" x2="297.2" y2="622.6" stroke="#000" stroke-width="1.4"/><line x1="324.8" y1="618.4" x2="324.8" y2="622.6" stroke="#000" stroke-width="1.4"/><line x1="352.4" y1="618.4" x2="352.4" y2="622.6" stroke="#000" stroke-width="1.4"/><line x1="380.1" y1="618.4" x2="380.1" y2="622.6" stroke="#000" stroke-width="1.4"/><line x1="407.7" y1="618.4" x2="407.7" y2="622.6" stroke="#000" stroke-width="1.4"/><line x1="435.3" y1="618.4" x2="435.3" y2="622.6" stroke="#000" stroke-width="1.4"/><line x1="463" y1="618.4" x2="463" y2="622.6" stroke="#000" stroke-width="1.4"/><text x="284.6" y="460.2" font-size="13.6" text-anchor="end" font-family='"Liberation Sans",sans-serif'>100</text><text x="284.6" y="500.8" font-size="13.6" text-anchor="end" font-family='"Liberation Sans",sans-serif'>80</text><text x="284.6" y="541.5" font-size="13.6" text-anchor="end" font-family='"Liberation Sans",sans-serif'>60</text><text x="284.6" y="582.1" font-size="13.6" text-anchor="end" font-family='"Liberation Sans",sans-serif'>40</text><text x="284.6" y="622.7" font-size="13.6" text-anchor="end" font-family='"Liberation Sans",sans-serif'>20</text><text x="297.2" y="638.3" font-size="13.6" text-anchor="middle" font-family='"Liberation Sans",sans-serif'>-20</text><text x="324.8" y="638.3" font-size="13.6" text-anchor="middle" font-family='"Liberation Sans",sans-serif'>0</text><text x="352.4" y="638.3" font-size="13.6" text-anchor="middle" font-family='"Liberation Sans",sans-serif'>20</text><text x="380.1" y="638.3" font-size="13.6" text-anchor="middle" font-family='"Liberation Sans",sans-serif'>40</text><text x="407.7" y="638.3" font-size="13.6" text-anchor="middle" font-family='"Liberation Sans",sans-serif'>60</text><text x="435.3" y="638.3" font-size="13.6" text-anchor="middle" font-family='"Liberation Sans",sans-serif'>80</text><text x="463" y="638.3" font-size="13.6" text-anchor="middle" font-family='"Liberation Sans",sans-serif'>100</text><g fill="#c81e32" fill-opacity="0.14"><circle cx="330" cy="484.2" r="2.85"/><circle cx="322.7" cy="539.8" r="2.85"/><circle cx="332.5" cy="599.1" r="2.85"/><circle cx="332.8" cy="580" r="2.85"/><circle cx="332.3" cy="599.1" r="2.85"/><circle cx="325.2" cy="580" r="2.85"/><circle cx="322.2" cy="599.1" r="2.85"/><circle cx="324.5" cy="580" r="2.85"/><circle cx="335.7" cy="531.5" r="2.85"/><circle cx="329.9" cy="572.9" r="2.85"/><circle cx="325.3" cy="580" r="2.85"/><circle cx="323.8" cy="551.1" r="2.85"/><circle cx="341.1" cy="566.4" r="2.85"/><circle cx="334.1" cy="599.1" r="2.85"/><circle cx="340.6" cy="572.9" r="2.85"/><circle cx="336" cy="570" r="2.85"/><circle cx="313.8" cy="580" r="2.85"/><circle cx="334" cy="580" r="2.85"/><circle cx="337.8" cy="599.1" r="2.85"/><circle cx="336.6" cy="546.3" r="2.85"/><circle cx="337.5" cy="577.4" r="2.85"/><circle cx="332.6" cy="542.2" r="2.85"/><circle cx="322.2" cy="599.1" r="2.85"/><circle cx="311.7" cy="599.1" r="2.85"/><circle cx="342" cy="599.1" r="2.85"/><circle cx="344.3" cy="539.8" r="2.85"/><circle cx="337.3" cy="514.5" r="2.85"/><circle cx="336.1" cy="558.1" r="2.85"/><circle cx="336.7" cy="580" r="2.85"/><circle cx="340.9" cy="572.9" r="2.85"/><circle cx="352.2" cy="592.2" r="2.85"/><circle cx="324.5" cy="580" r="2.85"/><circle cx="336" cy="509.9" r="2.85"/><circle cx="323.4" cy="599.1" r="2.85"/><circle cx="335.8" cy="573.2" r="2.85"/><circle cx="332.6" cy="599.1" r="2.85"/><circle cx="352.6" cy="546.3" r="2.85"/><circle cx="335.2" cy="562" r="2.85"/><circle cx="316.2" cy="580" r="2.85"/><circle cx="331.6" cy="531.9" r="2.85"/><circle cx="337.4" cy="599.1" r="2.85"/><circle cx="334.4" cy="592.2" r="2.85"/><circle cx="343.6" cy="558.1" r="2.85"/><circle cx="316" cy="572.9" r="2.85"/><circle cx="337.3" cy="546.3" r="2.85"/><circle cx="334.8" cy="599.1" r="2.85"/><circle cx="323.2" cy="555.1" r="2.85"/><circle cx="326.9" cy="599.1" r="2.85"/><circle cx="328.1" cy="599.1" r="2.85"/><circle cx="333.7" cy="539.8" r="2.85"/><circle cx="310.6" cy="599.1" r="2.85"/><circle cx="334.2" cy="571" r="2.85"/><circle cx="314.9" cy="599.1" r="2.85"/><circle cx="332" cy="556.9" r="2.85"/><circle cx="312.3" cy="518.6" r="2.85"/><circle cx="344.1" cy="546.3" r="2.85"/><circle cx="337.6" cy="599.1" r="2.85"/><circle cx="336.2" cy="580" r="2.85"/><circle cx="343.7" cy="546.3" r="2.85"/><circle cx="339" cy="572.9" r="2.85"/><circle cx="345.5" cy="583.3" r="2.85"/><circle cx="339.9" cy="580" r="2.85"/><circle cx="330.4" cy="512.4" r="2.85"/><circle cx="325.1" cy="558.1" r="2.85"/><circle cx="351" cy="572.9" r="2.85"/><circle cx="328.2" cy="572.9" r="2.85"/><circle cx="344" cy="546" r="2.85"/><circle cx="349.2" cy="572.9" r="2.85"/><circle cx="332.9" cy="599.1" r="2.85"/><circle cx="331.8" cy="599.1" r="2.85"/><circle cx="319.6" cy="546.3" r="2.85"/><circle cx="316.2" cy="599.1" r="2.85"/><circle cx="346.3" cy="546.3" r="2.85"/><circle cx="322.8" cy="599.1" r="2.85"/><circle cx="331.8" cy="572.9" r="2.85"/><circle cx="325.4" cy="599.1" r="2.85"/><circle cx="332.1" cy="599.1" r="2.85"/><circle cx="335.3" cy="599.1" r="2.85"/><circle cx="336" cy="599.1" r="2.85"/><circle cx="325.2" cy="599.1" r="2.85"/><circle cx="322.2" cy="558.1" r="2.85"/><circle cx="347.9" cy="572.9" r="2.85"/><circle cx="325.5" cy="572.9" r="2.85"/><circle cx="344.8" cy="520.3" r="2.85"/><circle cx="331.5" cy="599.1" r="2.85"/><circle cx="348.3" cy="580" r="2.85"/><circle cx="314" cy="546.3" r="2.85"/><circle cx="330.1" cy="580" r="2.85"/><circle cx="332.8" cy="599.1" r="2.85"/><circle cx="342" cy="572.9" r="2.85"/><circle cx="332.3" cy="599.1" r="2.85"/><circle cx="325" cy="580" r="2.85"/><circle cx="342.4" cy="543.7" r="2.85"/><circle cx="339.8" cy="599.1" r="2.85"/><circle cx="339" cy="599.1" r="2.85"/><circle cx="342.5" cy="592.2" r="2.85"/><circle cx="315" cy="558.1" r="2.85"/><circle cx="341.4" cy="599.1" r="2.85"/><circle cx="325.1" cy="599.1" r="2.85"/><circle cx="330.2" cy="592.2" r="2.85"/><circle cx="326.4" cy="558.1" r="2.85"/><circle cx="352.7" cy="592.2" r="2.85"/><circle cx="340.7" cy="599.1" r="2.85"/><circle cx="345.6" cy="546.3" r="2.85"/><circle cx="332.7" cy="546.3" r="2.85"/><circle cx="336.2" cy="580" r="2.85"/><circle cx="344.8" cy="603.5" r="2.85"/><circle cx="326.7" cy="599.1" r="2.85"/><circle cx="362.1" cy="580" r="2.85"/><circle cx="338.7" cy="580" r="2.85"/><circle cx="335.9" cy="580" r="2.85"/><circle cx="346.1" cy="572.9" r="2.85"/><circle cx="336.9" cy="599.1" r="2.85"/><circle cx="321.8" cy="599.1" r="2.85"/><circle cx="332" cy="558.1" r="2.85"/><circle cx="324.5" cy="539.8" r="2.85"/><circle cx="345.4" cy="569.2" r="2.85"/><circle cx="333.8" cy="546.3" r="2.85"/><circle cx="308.4" cy="592.2" r="2.85"/><circle cx="315" cy="592.2" r="2.85"/><circle cx="335.1" cy="546.3" r="2.85"/><circle cx="328.8" cy="551.2" r="2.85"/><circle cx="331.4" cy="572.9" r="2.85"/><circle cx="308.5" cy="592.2" r="2.85"/><circle cx="321.1" cy="599.1" r="2.85"/><circle cx="347.3" cy="572.9" r="2.85"/><circle cx="330.9" cy="541.1" r="2.85"/><circle cx="327" cy="599.1" r="2.85"/><circle cx="350.7" cy="572.9" r="2.85"/><circle cx="323.9" cy="592.2" r="2.85"/><circle cx="336" cy="599.1" r="2.85"/><circle cx="334.5" cy="599.1" r="2.85"/><circle cx="323.5" cy="599.1" r="2.85"/><circle cx="328.4" cy="599.1" r="2.85"/><circle cx="346.7" cy="572.9" r="2.85"/><circle cx="336.7" cy="546.3" r="2.85"/><circle cx="332.5" cy="580" r="2.85"/><circle cx="347.8" cy="580" r="2.85"/><circle cx="322.2" cy="599.1" r="2.85"/><circle cx="335.1" cy="589.4" r="2.85"/><circle cx="317.8" cy="599.1" r="2.85"/><circle cx="331.3" cy="599.1" r="2.85"/><circle cx="349.4" cy="558.1" r="2.85"/><circle cx="349.9" cy="558.1" r="2.85"/><circle cx="347.5" cy="572.9" r="2.85"/><circle cx="333.4" cy="572.9" r="2.85"/><circle cx="332.6" cy="558.1" r="2.85"/><circle cx="340" cy="599.1" r="2.85"/><circle cx="318.1" cy="580" r="2.85"/><circle cx="334.7" cy="599.1" r="2.85"/><circle cx="375.8" cy="546.3" r="2.85"/><circle cx="367.8" cy="546.3" r="2.85"/><circle cx="359.2" cy="580" r="2.85"/><circle cx="367.9" cy="592.2" r="2.85"/><circle cx="356.8" cy="558.1" r="2.85"/><circle cx="372.3" cy="556.5" r="2.85"/><circle cx="378.4" cy="539.8" r="2.85"/><circle cx="379.3" cy="572.9" r="2.85"/><circle cx="355.9" cy="572.9" r="2.85"/><circle cx="358.3" cy="592.2" r="2.85"/><circle cx="364.9" cy="558.1" r="2.85"/><circle cx="354.9" cy="572.9" r="2.85"/><circle cx="364.9" cy="546.3" r="2.85"/><circle cx="340.6" cy="560.4" r="2.85"/><circle cx="360.8" cy="548.4" r="2.85"/><circle cx="369.5" cy="562.5" r="2.85"/><circle cx="369.2" cy="462" r="2.85"/><circle cx="371.2" cy="572.9" r="2.85"/><circle cx="385.2" cy="572.9" r="2.85"/><circle cx="370.2" cy="558.1" r="2.85"/><circle cx="362.6" cy="538.8" r="2.85"/><circle cx="381" cy="546.3" r="2.85"/><circle cx="378.1" cy="580" r="2.85"/><circle cx="375.8" cy="572.9" r="2.85"/><circle cx="375.8" cy="572.9" r="2.85"/><circle cx="376.8" cy="546.3" r="2.85"/><circle cx="378" cy="572.9" r="2.85"/><circle cx="374.4" cy="572.9" r="2.85"/><circle cx="354.7" cy="572.9" r="2.85"/><circle cx="378.2" cy="592.2" r="2.85"/><circle cx="401.5" cy="499.5" r="2.85"/><circle cx="382.5" cy="540.7" r="2.85"/><circle cx="367.5" cy="539.8" r="2.85"/><circle cx="386.4" cy="602.6" r="2.85"/><circle cx="387" cy="592.2" r="2.85"/><circle cx="404.8" cy="558.1" r="2.85"/><circle cx="346.1" cy="592.2" r="2.85"/><circle cx="368.7" cy="572.9" r="2.85"/><circle cx="365.8" cy="539.8" r="2.85"/><circle cx="369.5" cy="521.2" r="2.85"/><circle cx="354.8" cy="546.3" r="2.85"/><circle cx="418.8" cy="539.8" r="2.85"/><circle cx="396.9" cy="537.4" r="2.85"/><circle cx="378.6" cy="583.3" r="2.85"/><circle cx="360.8" cy="580" r="2.85"/><circle cx="372.9" cy="572.9" r="2.85"/><circle cx="344.2" cy="546.3" r="2.85"/><circle cx="336.1" cy="539.8" r="2.85"/><circle cx="370.2" cy="572.9" r="2.85"/><circle cx="357.6" cy="572.9" r="2.85"/><circle cx="353" cy="572.9" r="2.85"/><circle cx="364.3" cy="539.8" r="2.85"/><circle cx="383.7" cy="558.1" r="2.85"/><circle cx="369.5" cy="572.9" r="2.85"/><circle cx="363.1" cy="539.8" r="2.85"/><circle cx="373.6" cy="599.1" r="2.85"/><circle cx="346" cy="558.1" r="2.85"/><circle cx="372.6" cy="526" r="2.85"/><circle cx="367" cy="558.1" r="2.85"/><circle cx="370.7" cy="539.8" r="2.85"/><circle cx="381.5" cy="558.1" r="2.85"/><circle cx="373.7" cy="572.9" r="2.85"/><circle cx="365.4" cy="546.3" r="2.85"/><circle cx="367" cy="572.9" r="2.85"/><circle cx="374.9" cy="572.9" r="2.85"/><circle cx="401.5" cy="572.9" r="2.85"/><circle cx="352.2" cy="539.8" r="2.85"/><circle cx="384.9" cy="546.3" r="2.85"/><circle cx="357" cy="546.3" r="2.85"/><circle cx="361.6" cy="558.1" r="2.85"/><circle cx="376.1" cy="572.9" r="2.85"/><circle cx="390.8" cy="572.9" r="2.85"/><circle cx="363.6" cy="539.8" r="2.85"/><circle cx="367.3" cy="546.3" r="2.85"/><circle cx="388.8" cy="580" r="2.85"/><circle cx="352.4" cy="572.9" r="2.85"/><circle cx="412.3" cy="599.1" r="2.85"/><circle cx="373.1" cy="546.3" r="2.85"/><circle cx="367.6" cy="572.9" r="2.85"/><circle cx="399.2" cy="520.3" r="2.85"/><circle cx="356.3" cy="546.3" r="2.85"/><circle cx="362.1" cy="558.1" r="2.85"/><circle cx="363.1" cy="558.1" r="2.85"/><circle cx="361.7" cy="572.9" r="2.85"/><circle cx="370.4" cy="520.3" r="2.85"/><circle cx="360" cy="556.7" r="2.85"/><circle cx="392.1" cy="546.3" r="2.85"/><circle cx="385.8" cy="572.9" r="2.85"/><circle cx="373.8" cy="558.1" r="2.85"/><circle cx="380.1" cy="546.3" r="2.85"/><circle cx="376.6" cy="580" r="2.85"/><circle cx="346.3" cy="520.3" r="2.85"/><circle cx="364.2" cy="572.9" r="2.85"/><circle cx="381.9" cy="572.9" r="2.85"/><circle cx="343.4" cy="558.1" r="2.85"/><circle cx="393.3" cy="572.9" r="2.85"/><circle cx="356.3" cy="546.3" r="2.85"/><circle cx="375.5" cy="572.9" r="2.85"/><circle cx="355.6" cy="472.1" r="2.85"/><circle cx="370.7" cy="572.9" r="2.85"/><circle cx="379.7" cy="529.7" r="2.85"/><circle cx="382.1" cy="539.8" r="2.85"/><circle cx="374.9" cy="546.3" r="2.85"/><circle cx="360.5" cy="572.9" r="2.85"/><circle cx="364.3" cy="580" r="2.85"/><circle cx="380" cy="558.1" r="2.85"/><circle cx="378.7" cy="558.1" r="2.85"/><circle cx="375.1" cy="572.9" r="2.85"/><circle cx="358.1" cy="497.3" r="2.85"/><circle cx="378" cy="546.3" r="2.85"/><circle cx="365.7" cy="606.2" r="2.85"/><circle cx="344.6" cy="546.3" r="2.85"/><circle cx="362.4" cy="520.3" r="2.85"/><circle cx="392.3" cy="539.8" r="2.85"/><circle cx="361.1" cy="580" r="2.85"/><circle cx="388" cy="577.7" r="2.85"/><circle cx="374.9" cy="546.3" r="2.85"/><circle cx="377.7" cy="572.9" r="2.85"/><circle cx="375.7" cy="555.6" r="2.85"/><circle cx="369.5" cy="558.1" r="2.85"/><circle cx="399.9" cy="539.8" r="2.85"/><circle cx="351.2" cy="558.1" r="2.85"/><circle cx="349.4" cy="580" r="2.85"/><circle cx="371.6" cy="572.9" r="2.85"/><circle cx="379.6" cy="546.3" r="2.85"/><circle cx="364.7" cy="546.3" r="2.85"/><circle cx="355.1" cy="558.1" r="2.85"/><circle cx="376.7" cy="557.5" r="2.85"/><circle cx="366.4" cy="546.3" r="2.85"/><circle cx="385.6" cy="572.9" r="2.85"/><circle cx="383.2" cy="540" r="2.85"/><circle cx="370.8" cy="546.3" r="2.85"/><circle cx="368.7" cy="561.5" r="2.85"/><circle cx="353.4" cy="572.9" r="2.85"/><circle cx="376.4" cy="499.8" r="2.85"/><circle cx="349.4" cy="534.4" r="2.85"/><circle cx="356.3" cy="580" r="2.85"/><circle cx="332.1" cy="558.1" r="2.85"/><circle cx="381.2" cy="520.3" r="2.85"/><circle cx="353.4" cy="558.1" r="2.85"/><circle cx="353.8" cy="520.3" r="2.85"/><circle cx="360.6" cy="580" r="2.85"/><circle cx="386" cy="566.6" r="2.85"/><circle cx="373.5" cy="572.9" r="2.85"/><circle cx="367.9" cy="520.3" r="2.85"/><circle cx="377.9" cy="567.9" r="2.85"/><circle cx="379" cy="572.9" r="2.85"/><circle cx="354.5" cy="520.3" r="2.85"/><circle cx="373.6" cy="515.2" r="2.85"/><circle cx="385.9" cy="580" r="2.85"/><circle cx="352.4" cy="558.1" r="2.85"/><circle cx="383.3" cy="572.9" r="2.85"/><circle cx="368.7" cy="520.3" r="2.85"/><circle cx="344.8" cy="539.8" r="2.85"/><circle cx="356.6" cy="558.1" r="2.85"/><circle cx="371.4" cy="546.3" r="2.85"/><circle cx="392.6" cy="539.8" r="2.85"/><circle cx="367.4" cy="580" r="2.85"/><circle cx="360.1" cy="580" r="2.85"/><circle cx="383.4" cy="572.9" r="2.85"/><circle cx="371.4" cy="558.1" r="2.85"/><circle cx="364.5" cy="528.7" r="2.85"/><circle cx="366.5" cy="542.1" r="2.85"/><circle cx="378" cy="539.8" r="2.85"/><circle cx="364.4" cy="572.9" r="2.85"/><circle cx="363.5" cy="546.3" r="2.85"/><circle cx="362" cy="568.3" r="2.85"/><circle cx="377" cy="580" r="2.85"/><circle cx="348.6" cy="558.1" r="2.85"/><circle cx="378.4" cy="560.7" r="2.85"/><circle cx="362.5" cy="558.1" r="2.85"/><circle cx="382.3" cy="558.1" r="2.85"/><circle cx="366.6" cy="580" r="2.85"/><circle cx="347.4" cy="572.9" r="2.85"/><circle cx="385.5" cy="572.9" r="2.85"/><circle cx="376.4" cy="572.9" r="2.85"/><circle cx="374.5" cy="580" r="2.85"/><circle cx="358" cy="572.9" r="2.85"/><circle cx="388.7" cy="572.9" r="2.85"/><circle cx="360.5" cy="572.9" r="2.85"/><circle cx="392.9" cy="592.2" r="2.85"/><circle cx="370.6" cy="539.8" r="2.85"/><circle cx="392.9" cy="484" r="2.85"/><circle cx="356.4" cy="520.3" r="2.85"/><circle cx="344.2" cy="567" r="2.85"/><circle cx="353" cy="546.3" r="2.85"/><circle cx="363" cy="546.3" r="2.85"/><circle cx="357.7" cy="462" r="2.85"/><circle cx="361.6" cy="546.3" r="2.85"/><circle cx="371.7" cy="520.6" r="2.85"/><circle cx="370.1" cy="546.3" r="2.85"/><circle cx="373.4" cy="552.3" r="2.85"/><circle cx="364" cy="580" r="2.85"/><circle cx="378.9" cy="546.3" r="2.85"/><circle cx="385.3" cy="520.3" r="2.85"/><circle cx="354" cy="520.3" r="2.85"/><circle cx="387.1" cy="539.8" r="2.85"/><circle cx="354.6" cy="572.9" r="2.85"/><circle cx="394.3" cy="546.3" r="2.85"/><circle cx="372.9" cy="572.9" r="2.85"/><circle cx="399.5" cy="558.1" r="2.85"/><circle cx="332.8" cy="599.1" r="2.85"/><circle cx="311.4" cy="599.1" r="2.85"/><circle cx="318.3" cy="546.3" r="2.85"/><circle cx="358.6" cy="558.1" r="2.85"/><circle cx="352.8" cy="546.3" r="2.85"/><circle cx="407.5" cy="521.7" r="2.85"/><circle cx="385.2" cy="572.9" r="2.85"/><circle cx="303.5" cy="580" r="2.85"/><circle cx="375.6" cy="520.3" r="2.85"/><circle cx="349.2" cy="546.3" r="2.85"/><circle cx="357.5" cy="580" r="2.85"/><circle cx="365.9" cy="580" r="2.85"/><circle cx="308.2" cy="599.1" r="2.85"/><circle cx="325.7" cy="592.2" r="2.85"/><circle cx="319.1" cy="572.9" r="2.85"/><circle cx="318.4" cy="553.2" r="2.85"/><circle cx="394.1" cy="520.3" r="2.85"/><circle cx="335" cy="599.1" r="2.85"/><circle cx="323.4" cy="558.1" r="2.85"/><circle cx="405.5" cy="543.4" r="2.85"/><circle cx="307.3" cy="599.1" r="2.85"/><circle cx="333.7" cy="599.1" r="2.85"/><circle cx="401.7" cy="546.3" r="2.85"/><circle cx="414.5" cy="546.3" r="2.85"/><circle cx="339.5" cy="599.1" r="2.85"/><circle cx="345.8" cy="466.1" r="2.85"/><circle cx="343.4" cy="539.8" r="2.85"/><circle cx="362.8" cy="514.4" r="2.85"/><circle cx="344.3" cy="546.3" r="2.85"/><circle cx="306.6" cy="558.1" r="2.85"/><circle cx="309.4" cy="567.1" r="2.85"/><circle cx="344.5" cy="539.8" r="2.85"/><circle cx="410.1" cy="520.3" r="2.85"/><circle cx="413.6" cy="592.2" r="2.85"/><circle cx="327.6" cy="572.9" r="2.85"/><circle cx="335.5" cy="599.1" r="2.85"/><circle cx="380.6" cy="546.3" r="2.85"/><circle cx="313.4" cy="599.1" r="2.85"/><circle cx="372.2" cy="606.2" r="2.85"/><circle cx="384.7" cy="558.1" r="2.85"/><circle cx="318.8" cy="599.1" r="2.85"/><circle cx="397.6" cy="572.9" r="2.85"/><circle cx="339.6" cy="599.1" r="2.85"/><circle cx="434" cy="486.4" r="2.85"/><circle cx="438.1" cy="522.9" r="2.85"/><circle cx="439.5" cy="520.9" r="2.85"/><circle cx="442.2" cy="539.2" r="2.85"/><circle cx="445" cy="539.2" r="2.85"/><circle cx="436.7" cy="547.3" r="2.85"/></g><text transform="translate(257.5,539.4) rotate(-90)" font-size="11.75" fill="#000" font-family='"Liberation Sans",sans-serif' text-anchor="middle" >topological polar surface area (Å<tspan dy="-4" font-size="8">2</tspan><tspan dy="4">)</tspan></text><path d="M508.1,455.5 V618.3 H674.7" fill="none" stroke="#000" stroke-width="1.8"/><line x1="503.9" y1="455.9" x2="508.1" y2="455.9" stroke="#000" stroke-width="1.4"/><line x1="503.9" y1="479.1" x2="508.1" y2="479.1" stroke="#000" stroke-width="1.4"/><line x1="503.9" y1="502.3" x2="508.1" y2="502.3" stroke="#000" stroke-width="1.4"/><line x1="503.9" y1="525.5" x2="508.1" y2="525.5" stroke="#000" stroke-width="1.4"/><line x1="503.9" y1="548.7" x2="508.1" y2="548.7" stroke="#000" stroke-width="1.4"/><line x1="503.9" y1="571.9" x2="508.1" y2="571.9" stroke="#000" stroke-width="1.4"/><line x1="503.9" y1="595.1" x2="508.1" y2="595.1" stroke="#000" stroke-width="1.4"/><line x1="503.9" y1="618.3" x2="508.1" y2="618.3" stroke="#000" stroke-width="1.4"/><line x1="508.1" y1="618.3" x2="508.1" y2="622.5" stroke="#000" stroke-width="1.4"/><line x1="535.9" y1="618.3" x2="535.9" y2="622.5" stroke="#000" stroke-width="1.4"/><line x1="563.7" y1="618.3" x2="563.7" y2="622.5" stroke="#000" stroke-width="1.4"/><line x1="591.4" y1="618.3" x2="591.4" y2="622.5" stroke="#000" stroke-width="1.4"/><line x1="619.2" y1="618.3" x2="619.2" y2="622.5" stroke="#000" stroke-width="1.4"/><line x1="646.9" y1="618.3" x2="646.9" y2="622.5" stroke="#000" stroke-width="1.4"/><line x1="674.7" y1="618.3" x2="674.7" y2="622.5" stroke="#000" stroke-width="1.4"/><text x="496.5" y="460.2" font-size="13.6" text-anchor="end" font-family='"Liberation Sans",sans-serif'>7</text><text x="496.5" y="483.4" font-size="13.6" text-anchor="end" font-family='"Liberation Sans",sans-serif'>6</text><text x="496.5" y="506.6" font-size="13.6" text-anchor="end" font-family='"Liberation Sans",sans-serif'>5</text><text x="496.5" y="529.8" font-size="13.6" text-anchor="end" font-family='"Liberation Sans",sans-serif'>4</text><text x="496.5" y="553" font-size="13.6" text-anchor="end" font-family='"Liberation Sans",sans-serif'>3</text><text x="496.5" y="576.2" font-size="13.6" text-anchor="end" font-family='"Liberation Sans",sans-serif'>2</text><text x="496.5" y="599.4" font-size="13.6" text-anchor="end" font-family='"Liberation Sans",sans-serif'>1</text><text x="496.5" y="622.6" font-size="13.6" text-anchor="end" font-family='"Liberation Sans",sans-serif'>0</text><text x="508.1" y="638.3" font-size="13.6" text-anchor="middle" font-family='"Liberation Sans",sans-serif'>-20</text><text x="535.9" y="638.3" font-size="13.6" text-anchor="middle" font-family='"Liberation Sans",sans-serif'>0</text><text x="563.7" y="638.3" font-size="13.6" text-anchor="middle" font-family='"Liberation Sans",sans-serif'>20</text><text x="591.4" y="638.3" font-size="13.6" text-anchor="middle" font-family='"Liberation Sans",sans-serif'>40</text><text x="619.2" y="638.3" font-size="13.6" text-anchor="middle" font-family='"Liberation Sans",sans-serif'>60</text><text x="646.9" y="638.3" font-size="13.6" text-anchor="middle" font-family='"Liberation Sans",sans-serif'>80</text><text x="674.7" y="638.3" font-size="13.6" text-anchor="middle" font-family='"Liberation Sans",sans-serif'>100</text><g fill="#4f6ea0" fill-opacity="0.24"><circle cx="541.1" cy="525.5" r="2.85"/><circle cx="533.8" cy="571.9" r="2.85"/><circle cx="543.7" cy="502.3" r="2.85"/><circle cx="544" cy="571.9" r="2.85"/><circle cx="543.4" cy="525.5" r="2.85"/><circle cx="536.3" cy="571.9" r="2.85"/><circle cx="533.3" cy="525.5" r="2.85"/><circle cx="535.6" cy="525.5" r="2.85"/><circle cx="546.9" cy="548.7" r="2.85"/><circle cx="541" cy="525.5" r="2.85"/><circle cx="536.4" cy="548.7" r="2.85"/><circle cx="534.9" cy="525.5" r="2.85"/><circle cx="552.2" cy="525.5" r="2.85"/><circle cx="545.2" cy="571.9" r="2.85"/><circle cx="551.8" cy="548.7" r="2.85"/><circle cx="547.2" cy="548.7" r="2.85"/><circle cx="524.9" cy="548.7" r="2.85"/><circle cx="545.1" cy="548.7" r="2.85"/><circle cx="549" cy="571.9" r="2.85"/><circle cx="547.7" cy="571.9" r="2.85"/><circle cx="548.6" cy="548.7" r="2.85"/><circle cx="543.7" cy="548.7" r="2.85"/><circle cx="533.3" cy="571.9" r="2.85"/><circle cx="522.8" cy="571.9" r="2.85"/><circle cx="553.1" cy="571.9" r="2.85"/><circle cx="555.5" cy="548.7" r="2.85"/><circle cx="548.5" cy="525.5" r="2.85"/><circle cx="547.2" cy="571.9" r="2.85"/><circle cx="547.9" cy="548.7" r="2.85"/><circle cx="552.1" cy="548.7" r="2.85"/><circle cx="563.5" cy="525.5" r="2.85"/><circle cx="535.6" cy="525.5" r="2.85"/><circle cx="547.1" cy="571.9" r="2.85"/><circle cx="534.5" cy="571.9" r="2.85"/><circle cx="547" cy="548.7" r="2.85"/><circle cx="543.8" cy="571.9" r="2.85"/><circle cx="563.8" cy="548.7" r="2.85"/><circle cx="546.4" cy="548.7" r="2.85"/><circle cx="527.2" cy="525.5" r="2.85"/><circle cx="542.8" cy="571.9" r="2.85"/><circle cx="548.6" cy="571.9" r="2.85"/><circle cx="545.5" cy="548.7" r="2.85"/><circle cx="554.7" cy="548.7" r="2.85"/><circle cx="527.1" cy="571.9" r="2.85"/><circle cx="548.5" cy="525.5" r="2.85"/><circle cx="546" cy="548.7" r="2.85"/><circle cx="534.3" cy="548.7" r="2.85"/><circle cx="538" cy="548.7" r="2.85"/><circle cx="539.2" cy="548.7" r="2.85"/><circle cx="544.9" cy="548.7" r="2.85"/><circle cx="521.7" cy="571.9" r="2.85"/><circle cx="545.3" cy="548.7" r="2.85"/><circle cx="526" cy="548.7" r="2.85"/><circle cx="543.2" cy="548.7" r="2.85"/><circle cx="523.4" cy="548.7" r="2.85"/><circle cx="555.3" cy="548.7" r="2.85"/><circle cx="548.8" cy="548.7" r="2.85"/><circle cx="547.3" cy="525.5" r="2.85"/><circle cx="554.9" cy="571.9" r="2.85"/><circle cx="550.2" cy="502.3" r="2.85"/><circle cx="556.7" cy="502.3" r="2.85"/><circle cx="551.1" cy="571.9" r="2.85"/><circle cx="541.5" cy="571.9" r="2.85"/><circle cx="536.2" cy="502.3" r="2.85"/><circle cx="562.2" cy="525.5" r="2.85"/><circle cx="539.3" cy="571.9" r="2.85"/><circle cx="555.2" cy="548.7" r="2.85"/><circle cx="560.4" cy="548.7" r="2.85"/><circle cx="544.1" cy="571.9" r="2.85"/><circle cx="542.9" cy="571.9" r="2.85"/><circle cx="530.7" cy="571.9" r="2.85"/><circle cx="527.3" cy="571.9" r="2.85"/><circle cx="557.5" cy="525.5" r="2.85"/><circle cx="533.9" cy="571.9" r="2.85"/><circle cx="543" cy="548.7" r="2.85"/><circle cx="536.5" cy="548.7" r="2.85"/><circle cx="543.3" cy="571.9" r="2.85"/><circle cx="546.5" cy="571.9" r="2.85"/><circle cx="547.2" cy="525.5" r="2.85"/><circle cx="536.3" cy="548.7" r="2.85"/><circle cx="533.3" cy="548.7" r="2.85"/><circle cx="559.2" cy="548.7" r="2.85"/><circle cx="536.6" cy="525.5" r="2.85"/><circle cx="556" cy="502.3" r="2.85"/><circle cx="542.6" cy="571.9" r="2.85"/><circle cx="559.5" cy="525.5" r="2.85"/><circle cx="525.1" cy="548.7" r="2.85"/><circle cx="541.3" cy="571.9" r="2.85"/><circle cx="544" cy="548.7" r="2.85"/><circle cx="553.2" cy="525.5" r="2.85"/><circle cx="543.4" cy="571.9" r="2.85"/><circle cx="536.2" cy="571.9" r="2.85"/><circle cx="553.6" cy="571.9" r="2.85"/><circle cx="551" cy="571.9" r="2.85"/><circle cx="550.2" cy="571.9" r="2.85"/><circle cx="553.7" cy="548.7" r="2.85"/><circle cx="526.1" cy="571.9" r="2.85"/><circle cx="552.5" cy="525.5" r="2.85"/><circle cx="536.2" cy="571.9" r="2.85"/><circle cx="541.3" cy="571.9" r="2.85"/><circle cx="537.5" cy="525.5" r="2.85"/><circle cx="563.9" cy="548.7" r="2.85"/><circle cx="551.9" cy="571.9" r="2.85"/><circle cx="556.8" cy="548.7" r="2.85"/><circle cx="543.9" cy="548.7" r="2.85"/><circle cx="547.3" cy="571.9" r="2.85"/><circle cx="556" cy="571.9" r="2.85"/><circle cx="537.8" cy="571.9" r="2.85"/><circle cx="573.3" cy="548.7" r="2.85"/><circle cx="549.8" cy="571.9" r="2.85"/><circle cx="547" cy="571.9" r="2.85"/><circle cx="557.3" cy="548.7" r="2.85"/><circle cx="548.1" cy="571.9" r="2.85"/><circle cx="532.9" cy="548.7" r="2.85"/><circle cx="543.1" cy="525.5" r="2.85"/><circle cx="535.6" cy="548.7" r="2.85"/><circle cx="556.6" cy="571.9" r="2.85"/><circle cx="544.9" cy="548.7" r="2.85"/><circle cx="519.4" cy="571.9" r="2.85"/><circle cx="526.1" cy="571.9" r="2.85"/><circle cx="546.3" cy="548.7" r="2.85"/><circle cx="539.9" cy="571.9" r="2.85"/><circle cx="542.5" cy="571.9" r="2.85"/><circle cx="519.5" cy="571.9" r="2.85"/><circle cx="532.2" cy="502.3" r="2.85"/><circle cx="558.5" cy="525.5" r="2.85"/><circle cx="542" cy="571.9" r="2.85"/><circle cx="538.1" cy="571.9" r="2.85"/><circle cx="562" cy="571.9" r="2.85"/><circle cx="535" cy="571.9" r="2.85"/><circle cx="547.2" cy="571.9" r="2.85"/><circle cx="545.6" cy="571.9" r="2.85"/><circle cx="534.6" cy="571.9" r="2.85"/><circle cx="539.5" cy="548.7" r="2.85"/><circle cx="557.9" cy="502.3" r="2.85"/><circle cx="547.8" cy="502.3" r="2.85"/><circle cx="543.6" cy="571.9" r="2.85"/><circle cx="559" cy="525.5" r="2.85"/><circle cx="533.3" cy="571.9" r="2.85"/><circle cx="546.2" cy="571.9" r="2.85"/><circle cx="528.9" cy="571.9" r="2.85"/><circle cx="542.4" cy="525.5" r="2.85"/><circle cx="560.6" cy="548.7" r="2.85"/><circle cx="561.1" cy="548.7" r="2.85"/><circle cx="558.7" cy="525.5" r="2.85"/><circle cx="544.5" cy="548.7" r="2.85"/><circle cx="543.8" cy="548.7" r="2.85"/><circle cx="551.2" cy="571.9" r="2.85"/><circle cx="529.2" cy="525.5" r="2.85"/><circle cx="545.9" cy="548.7" r="2.85"/><circle cx="587.1" cy="548.7" r="2.85"/><circle cx="579.1" cy="548.7" r="2.85"/><circle cx="570.5" cy="525.5" r="2.85"/><circle cx="579.2" cy="548.7" r="2.85"/><circle cx="568.1" cy="525.5" r="2.85"/><circle cx="583.7" cy="548.7" r="2.85"/><circle cx="589.8" cy="548.7" r="2.85"/><circle cx="590.6" cy="502.3" r="2.85"/><circle cx="567.2" cy="548.7" r="2.85"/><circle cx="569.6" cy="548.7" r="2.85"/><circle cx="576.2" cy="525.5" r="2.85"/><circle cx="566.2" cy="525.5" r="2.85"/><circle cx="576.2" cy="548.7" r="2.85"/><circle cx="551.8" cy="548.7" r="2.85"/><circle cx="572.1" cy="525.5" r="2.85"/><circle cx="580.8" cy="525.5" r="2.85"/><circle cx="580.5" cy="548.7" r="2.85"/><circle cx="582.5" cy="525.5" r="2.85"/><circle cx="596.6" cy="548.7" r="2.85"/><circle cx="581.5" cy="548.7" r="2.85"/><circle cx="573.9" cy="548.7" r="2.85"/><circle cx="592.3" cy="525.5" r="2.85"/><circle cx="589.5" cy="548.7" r="2.85"/><circle cx="587.1" cy="525.5" r="2.85"/><circle cx="587.2" cy="548.7" r="2.85"/><circle cx="588.1" cy="525.5" r="2.85"/><circle cx="589.4" cy="548.7" r="2.85"/><circle cx="585.7" cy="548.7" r="2.85"/><circle cx="565.9" cy="548.7" r="2.85"/><circle cx="589.5" cy="525.5" r="2.85"/><circle cx="612.9" cy="548.7" r="2.85"/><circle cx="593.9" cy="525.5" r="2.85"/><circle cx="578.8" cy="525.5" r="2.85"/><circle cx="597.8" cy="525.5" r="2.85"/><circle cx="598.3" cy="571.9" r="2.85"/><circle cx="616.3" cy="525.5" r="2.85"/><circle cx="557.3" cy="548.7" r="2.85"/><circle cx="580" cy="525.5" r="2.85"/><circle cx="577.1" cy="548.7" r="2.85"/><circle cx="580.8" cy="525.5" r="2.85"/><circle cx="566" cy="548.7" r="2.85"/><circle cx="630.3" cy="548.7" r="2.85"/><circle cx="608.3" cy="525.5" r="2.85"/><circle cx="590" cy="571.9" r="2.85"/><circle cx="572.1" cy="525.5" r="2.85"/><circle cx="584.2" cy="525.5" r="2.85"/><circle cx="555.4" cy="571.9" r="2.85"/><circle cx="547.2" cy="571.9" r="2.85"/><circle cx="581.5" cy="525.5" r="2.85"/><circle cx="568.8" cy="525.5" r="2.85"/><circle cx="564.2" cy="548.7" r="2.85"/><circle cx="575.6" cy="548.7" r="2.85"/><circle cx="595.1" cy="548.7" r="2.85"/><circle cx="580.8" cy="525.5" r="2.85"/><circle cx="574.4" cy="548.7" r="2.85"/><circle cx="585" cy="525.5" r="2.85"/><circle cx="557.2" cy="548.7" r="2.85"/><circle cx="583.9" cy="525.5" r="2.85"/><circle cx="578.2" cy="548.7" r="2.85"/><circle cx="582" cy="548.7" r="2.85"/><circle cx="592.8" cy="548.7" r="2.85"/><circle cx="585" cy="548.7" r="2.85"/><circle cx="576.7" cy="548.7" r="2.85"/><circle cx="578.3" cy="548.7" r="2.85"/><circle cx="586.2" cy="548.7" r="2.85"/><circle cx="612.9" cy="548.7" r="2.85"/><circle cx="563.4" cy="548.7" r="2.85"/><circle cx="596.2" cy="548.7" r="2.85"/><circle cx="568.2" cy="548.7" r="2.85"/><circle cx="572.9" cy="525.5" r="2.85"/><circle cx="587.4" cy="548.7" r="2.85"/><circle cx="602.2" cy="502.3" r="2.85"/><circle cx="574.9" cy="548.7" r="2.85"/><circle cx="578.6" cy="571.9" r="2.85"/><circle cx="600.2" cy="548.7" r="2.85"/><circle cx="563.6" cy="548.7" r="2.85"/><circle cx="623.8" cy="548.7" r="2.85"/><circle cx="584.4" cy="525.5" r="2.85"/><circle cx="578.9" cy="525.5" r="2.85"/><circle cx="610.6" cy="525.5" r="2.85"/><circle cx="567.5" cy="548.7" r="2.85"/><circle cx="573.3" cy="548.7" r="2.85"/><circle cx="574.4" cy="548.7" r="2.85"/><circle cx="573" cy="525.5" r="2.85"/><circle cx="581.8" cy="548.7" r="2.85"/><circle cx="571.3" cy="571.9" r="2.85"/><circle cx="603.5" cy="548.7" r="2.85"/><circle cx="597.2" cy="525.5" r="2.85"/><circle cx="585.2" cy="548.7" r="2.85"/><circle cx="591.4" cy="525.5" r="2.85"/><circle cx="587.9" cy="548.7" r="2.85"/><circle cx="557.5" cy="548.7" r="2.85"/><circle cx="575.5" cy="548.7" r="2.85"/><circle cx="593.3" cy="548.7" r="2.85"/><circle cx="554.6" cy="525.5" r="2.85"/><circle cx="604.7" cy="548.7" r="2.85"/><circle cx="567.5" cy="525.5" r="2.85"/><circle cx="586.8" cy="548.7" r="2.85"/><circle cx="566.9" cy="525.5" r="2.85"/><circle cx="582" cy="548.7" r="2.85"/><circle cx="591" cy="525.5" r="2.85"/><circle cx="593.4" cy="525.5" r="2.85"/><circle cx="586.3" cy="525.5" r="2.85"/><circle cx="571.8" cy="548.7" r="2.85"/><circle cx="575.6" cy="525.5" r="2.85"/><circle cx="591.3" cy="525.5" r="2.85"/><circle cx="590.1" cy="548.7" r="2.85"/><circle cx="586.5" cy="525.5" r="2.85"/><circle cx="569.3" cy="525.5" r="2.85"/><circle cx="589.3" cy="525.5" r="2.85"/><circle cx="577" cy="525.5" r="2.85"/><circle cx="555.8" cy="571.9" r="2.85"/><circle cx="573.7" cy="548.7" r="2.85"/><circle cx="603.7" cy="548.7" r="2.85"/><circle cx="572.3" cy="548.7" r="2.85"/><circle cx="599.4" cy="548.7" r="2.85"/><circle cx="586.3" cy="548.7" r="2.85"/><circle cx="589.1" cy="548.7" r="2.85"/><circle cx="587" cy="548.7" r="2.85"/><circle cx="580.8" cy="548.7" r="2.85"/><circle cx="611.4" cy="548.7" r="2.85"/><circle cx="562.4" cy="525.5" r="2.85"/><circle cx="560.6" cy="525.5" r="2.85"/><circle cx="583" cy="525.5" r="2.85"/><circle cx="591" cy="525.5" r="2.85"/><circle cx="576" cy="548.7" r="2.85"/><circle cx="566.3" cy="548.7" r="2.85"/><circle cx="588" cy="548.7" r="2.85"/><circle cx="577.7" cy="548.7" r="2.85"/><circle cx="597" cy="548.7" r="2.85"/><circle cx="594.6" cy="525.5" r="2.85"/><circle cx="582.1" cy="548.7" r="2.85"/><circle cx="580" cy="525.5" r="2.85"/><circle cx="564.7" cy="525.5" r="2.85"/><circle cx="587.8" cy="548.7" r="2.85"/><circle cx="560.6" cy="548.7" r="2.85"/><circle cx="567.6" cy="548.7" r="2.85"/><circle cx="543.2" cy="548.7" r="2.85"/><circle cx="592.5" cy="548.7" r="2.85"/><circle cx="564.7" cy="548.7" r="2.85"/><circle cx="565" cy="525.5" r="2.85"/><circle cx="571.8" cy="525.5" r="2.85"/><circle cx="597.4" cy="525.5" r="2.85"/><circle cx="584.8" cy="502.3" r="2.85"/><circle cx="579.2" cy="548.7" r="2.85"/><circle cx="589.3" cy="548.7" r="2.85"/><circle cx="590.3" cy="548.7" r="2.85"/><circle cx="565.7" cy="502.3" r="2.85"/><circle cx="584.9" cy="548.7" r="2.85"/><circle cx="597.3" cy="548.7" r="2.85"/><circle cx="563.6" cy="525.5" r="2.85"/><circle cx="594.6" cy="525.5" r="2.85"/><circle cx="580" cy="548.7" r="2.85"/><circle cx="556" cy="571.9" r="2.85"/><circle cx="567.8" cy="502.3" r="2.85"/><circle cx="582.7" cy="525.5" r="2.85"/><circle cx="604" cy="571.9" r="2.85"/><circle cx="578.7" cy="548.7" r="2.85"/><circle cx="571.3" cy="525.5" r="2.85"/><circle cx="594.8" cy="548.7" r="2.85"/><circle cx="582.7" cy="525.5" r="2.85"/><circle cx="575.8" cy="548.7" r="2.85"/><circle cx="577.8" cy="548.7" r="2.85"/><circle cx="589.3" cy="525.5" r="2.85"/><circle cx="575.7" cy="548.7" r="2.85"/><circle cx="574.8" cy="548.7" r="2.85"/><circle cx="573.3" cy="548.7" r="2.85"/><circle cx="588.3" cy="548.7" r="2.85"/><circle cx="559.8" cy="548.7" r="2.85"/><circle cx="589.7" cy="525.5" r="2.85"/><circle cx="573.8" cy="548.7" r="2.85"/><circle cx="593.6" cy="548.7" r="2.85"/><circle cx="577.9" cy="548.7" r="2.85"/><circle cx="558.6" cy="548.7" r="2.85"/><circle cx="596.9" cy="548.7" r="2.85"/><circle cx="587.8" cy="548.7" r="2.85"/><circle cx="585.9" cy="548.7" r="2.85"/><circle cx="569.3" cy="548.7" r="2.85"/><circle cx="600.1" cy="548.7" r="2.85"/><circle cx="571.8" cy="525.5" r="2.85"/><circle cx="604.4" cy="548.7" r="2.85"/><circle cx="581.9" cy="525.5" r="2.85"/><circle cx="604.3" cy="525.5" r="2.85"/><circle cx="567.7" cy="571.9" r="2.85"/><circle cx="555.4" cy="571.9" r="2.85"/><circle cx="564.2" cy="548.7" r="2.85"/><circle cx="574.3" cy="525.5" r="2.85"/><circle cx="569" cy="548.7" r="2.85"/><circle cx="572.9" cy="548.7" r="2.85"/><circle cx="583" cy="548.7" r="2.85"/><circle cx="581.4" cy="548.7" r="2.85"/><circle cx="584.8" cy="525.5" r="2.85"/><circle cx="575.3" cy="548.7" r="2.85"/><circle cx="590.3" cy="548.7" r="2.85"/><circle cx="596.7" cy="571.9" r="2.85"/><circle cx="565.2" cy="548.7" r="2.85"/><circle cx="598.5" cy="548.7" r="2.85"/><circle cx="565.8" cy="502.3" r="2.85"/><circle cx="605.7" cy="525.5" r="2.85"/><circle cx="584.2" cy="525.5" r="2.85"/><circle cx="610.9" cy="525.5" r="2.85"/><circle cx="544" cy="571.9" r="2.85"/><circle cx="522.5" cy="548.7" r="2.85"/><circle cx="529.3" cy="571.9" r="2.85"/><circle cx="569.9" cy="525.5" r="2.85"/><circle cx="564.1" cy="548.7" r="2.85"/><circle cx="619" cy="548.7" r="2.85"/><circle cx="596.6" cy="525.5" r="2.85"/><circle cx="514.5" cy="548.7" r="2.85"/><circle cx="587" cy="548.7" r="2.85"/><circle cx="560.4" cy="548.7" r="2.85"/><circle cx="568.7" cy="548.7" r="2.85"/><circle cx="577.2" cy="525.5" r="2.85"/><circle cx="519.3" cy="571.9" r="2.85"/><circle cx="536.8" cy="548.7" r="2.85"/><circle cx="530.2" cy="571.9" r="2.85"/><circle cx="529.4" cy="548.7" r="2.85"/><circle cx="605.5" cy="548.7" r="2.85"/><circle cx="546.2" cy="548.7" r="2.85"/><circle cx="534.5" cy="571.9" r="2.85"/><circle cx="617" cy="548.7" r="2.85"/><circle cx="518.3" cy="502.3" r="2.85"/><circle cx="544.9" cy="548.7" r="2.85"/><circle cx="613.1" cy="525.5" r="2.85"/><circle cx="626" cy="548.7" r="2.85"/><circle cx="550.6" cy="548.7" r="2.85"/><circle cx="557" cy="525.5" r="2.85"/><circle cx="554.6" cy="571.9" r="2.85"/><circle cx="574.1" cy="525.5" r="2.85"/><circle cx="555.5" cy="571.9" r="2.85"/><circle cx="517.6" cy="548.7" r="2.85"/><circle cx="520.5" cy="548.7" r="2.85"/><circle cx="555.7" cy="548.7" r="2.85"/><circle cx="621.6" cy="548.7" r="2.85"/><circle cx="625.1" cy="548.7" r="2.85"/><circle cx="538.7" cy="571.9" r="2.85"/><circle cx="546.7" cy="548.7" r="2.85"/><circle cx="591.9" cy="548.7" r="2.85"/><circle cx="524.5" cy="548.7" r="2.85"/><circle cx="583.6" cy="571.9" r="2.85"/><circle cx="596.1" cy="548.7" r="2.85"/><circle cx="529.9" cy="571.9" r="2.85"/><circle cx="609.1" cy="525.5" r="2.85"/><circle cx="550.8" cy="548.7" r="2.85"/><circle cx="645.6" cy="548.7" r="2.85"/><circle cx="649.7" cy="525.5" r="2.85"/><circle cx="651.1" cy="548.7" r="2.85"/><circle cx="653.9" cy="548.7" r="2.85"/><circle cx="656.7" cy="525.5" r="2.85"/><circle cx="648.3" cy="548.7" r="2.85"/><circle cx="563.7" cy="455.9" r="2.85"/></g><g fill="#c80000" fill-opacity="0.17"><circle cx="541.1" cy="618.3" r="2.85"/><circle cx="533.8" cy="618.3" r="2.85"/><circle cx="543.7" cy="618.3" r="2.85"/><circle cx="544" cy="595.1" r="2.85"/><circle cx="543.4" cy="618.3" r="2.85"/><circle cx="536.3" cy="618.3" r="2.85"/><circle cx="533.3" cy="618.3" r="2.85"/><circle cx="535.6" cy="618.3" r="2.85"/><circle cx="546.9" cy="618.3" r="2.85"/><circle cx="541" cy="595.1" r="2.85"/><circle cx="536.4" cy="618.3" r="2.85"/><circle cx="534.9" cy="595.1" r="2.85"/><circle cx="552.2" cy="618.3" r="2.85"/><circle cx="545.2" cy="618.3" r="2.85"/><circle cx="551.8" cy="618.3" r="2.85"/><circle cx="547.2" cy="618.3" r="2.85"/><circle cx="524.9" cy="618.3" r="2.85"/><circle cx="545.1" cy="595.1" r="2.85"/><circle cx="549" cy="618.3" r="2.85"/><circle cx="547.7" cy="618.3" r="2.85"/><circle cx="548.6" cy="595.1" r="2.85"/><circle cx="543.7" cy="618.3" r="2.85"/><circle cx="533.3" cy="618.3" r="2.85"/><circle cx="522.8" cy="618.3" r="2.85"/><circle cx="553.1" cy="595.1" r="2.85"/><circle cx="555.5" cy="595.1" r="2.85"/><circle cx="548.5" cy="618.3" r="2.85"/><circle cx="547.2" cy="618.3" r="2.85"/><circle cx="547.9" cy="618.3" r="2.85"/><circle cx="552.1" cy="618.3" r="2.85"/><circle cx="563.5" cy="618.3" r="2.85"/><circle cx="535.6" cy="595.1" r="2.85"/><circle cx="547.1" cy="618.3" r="2.85"/><circle cx="534.5" cy="618.3" r="2.85"/><circle cx="547" cy="595.1" r="2.85"/><circle cx="543.8" cy="618.3" r="2.85"/><circle cx="563.8" cy="618.3" r="2.85"/><circle cx="546.4" cy="595.1" r="2.85"/><circle cx="527.2" cy="618.3" r="2.85"/><circle cx="542.8" cy="595.1" r="2.85"/><circle cx="548.6" cy="595.1" r="2.85"/><circle cx="545.5" cy="595.1" r="2.85"/><circle cx="554.7" cy="595.1" r="2.85"/><circle cx="527.1" cy="618.3" r="2.85"/><circle cx="548.5" cy="618.3" r="2.85"/><circle cx="546" cy="618.3" r="2.85"/><circle cx="534.3" cy="618.3" r="2.85"/><circle cx="538" cy="618.3" r="2.85"/><circle cx="539.2" cy="618.3" r="2.85"/><circle cx="544.9" cy="618.3" r="2.85"/><circle cx="521.7" cy="618.3" r="2.85"/><circle cx="545.3" cy="595.1" r="2.85"/><circle cx="526" cy="595.1" r="2.85"/><circle cx="543.2" cy="595.1" r="2.85"/><circle cx="523.4" cy="618.3" r="2.85"/><circle cx="555.3" cy="618.3" r="2.85"/><circle cx="548.8" cy="618.3" r="2.85"/><circle cx="547.3" cy="595.1" r="2.85"/><circle cx="554.9" cy="618.3" r="2.85"/><circle cx="550.2" cy="618.3" r="2.85"/><circle cx="556.7" cy="618.3" r="2.85"/><circle cx="551.1" cy="618.3" r="2.85"/><circle cx="541.5" cy="618.3" r="2.85"/><circle cx="536.2" cy="618.3" r="2.85"/><circle cx="562.2" cy="595.1" r="2.85"/><circle cx="539.3" cy="595.1" r="2.85"/><circle cx="555.2" cy="618.3" r="2.85"/><circle cx="560.4" cy="618.3" r="2.85"/><circle cx="544.1" cy="618.3" r="2.85"/><circle cx="542.9" cy="618.3" r="2.85"/><circle cx="530.7" cy="618.3" r="2.85"/><circle cx="527.3" cy="618.3" r="2.85"/><circle cx="557.5" cy="618.3" r="2.85"/><circle cx="533.9" cy="595.1" r="2.85"/><circle cx="543" cy="618.3" r="2.85"/><circle cx="536.5" cy="618.3" r="2.85"/><circle cx="543.3" cy="595.1" r="2.85"/><circle cx="546.5" cy="595.1" r="2.85"/><circle cx="547.2" cy="618.3" r="2.85"/><circle cx="536.3" cy="618.3" r="2.85"/><circle cx="533.3" cy="595.1" r="2.85"/><circle cx="559.2" cy="595.1" r="2.85"/><circle cx="536.6" cy="618.3" r="2.85"/><circle cx="556" cy="618.3" r="2.85"/><circle cx="542.6" cy="618.3" r="2.85"/><circle cx="559.5" cy="595.1" r="2.85"/><circle cx="525.1" cy="618.3" r="2.85"/><circle cx="541.3" cy="595.1" r="2.85"/><circle cx="544" cy="618.3" r="2.85"/><circle cx="553.2" cy="595.1" r="2.85"/><circle cx="543.4" cy="618.3" r="2.85"/><circle cx="536.2" cy="618.3" r="2.85"/><circle cx="553.6" cy="618.3" r="2.85"/><circle cx="551" cy="595.1" r="2.85"/><circle cx="550.2" cy="595.1" r="2.85"/><circle cx="553.7" cy="618.3" r="2.85"/><circle cx="526.1" cy="618.3" r="2.85"/><circle cx="552.5" cy="595.1" r="2.85"/><circle cx="536.2" cy="618.3" r="2.85"/><circle cx="541.3" cy="618.3" r="2.85"/><circle cx="537.5" cy="595.1" r="2.85"/><circle cx="563.9" cy="595.1" r="2.85"/><circle cx="551.9" cy="618.3" r="2.85"/><circle cx="556.8" cy="595.1" r="2.85"/><circle cx="543.9" cy="618.3" r="2.85"/><circle cx="547.3" cy="618.3" r="2.85"/><circle cx="556" cy="571.9" r="2.85"/><circle cx="537.8" cy="595.1" r="2.85"/><circle cx="573.3" cy="618.3" r="2.85"/><circle cx="549.8" cy="618.3" r="2.85"/><circle cx="547" cy="618.3" r="2.85"/><circle cx="557.3" cy="618.3" r="2.85"/><circle cx="548.1" cy="618.3" r="2.85"/><circle cx="532.9" cy="618.3" r="2.85"/><circle cx="543.1" cy="618.3" r="2.85"/><circle cx="535.6" cy="618.3" r="2.85"/><circle cx="556.6" cy="618.3" r="2.85"/><circle cx="544.9" cy="618.3" r="2.85"/><circle cx="519.4" cy="618.3" r="2.85"/><circle cx="526.1" cy="618.3" r="2.85"/><circle cx="546.3" cy="618.3" r="2.85"/><circle cx="539.9" cy="618.3" r="2.85"/><circle cx="542.5" cy="618.3" r="2.85"/><circle cx="519.5" cy="618.3" r="2.85"/><circle cx="532.2" cy="618.3" r="2.85"/><circle cx="558.5" cy="618.3" r="2.85"/><circle cx="542" cy="618.3" r="2.85"/><circle cx="538.1" cy="618.3" r="2.85"/><circle cx="562" cy="595.1" r="2.85"/><circle cx="535" cy="618.3" r="2.85"/><circle cx="547.2" cy="595.1" r="2.85"/><circle cx="545.6" cy="618.3" r="2.85"/><circle cx="534.6" cy="618.3" r="2.85"/><circle cx="539.5" cy="618.3" r="2.85"/><circle cx="557.9" cy="595.1" r="2.85"/><circle cx="547.8" cy="595.1" r="2.85"/><circle cx="543.6" cy="618.3" r="2.85"/><circle cx="559" cy="618.3" r="2.85"/><circle cx="533.3" cy="595.1" r="2.85"/><circle cx="546.2" cy="618.3" r="2.85"/><circle cx="528.9" cy="595.1" r="2.85"/><circle cx="542.4" cy="618.3" r="2.85"/><circle cx="560.6" cy="595.1" r="2.85"/><circle cx="561.1" cy="595.1" r="2.85"/><circle cx="558.7" cy="618.3" r="2.85"/><circle cx="544.5" cy="618.3" r="2.85"/><circle cx="543.8" cy="595.1" r="2.85"/><circle cx="551.2" cy="618.3" r="2.85"/><circle cx="529.2" cy="618.3" r="2.85"/><circle cx="545.9" cy="595.1" r="2.85"/><circle cx="587.1" cy="595.1" r="2.85"/><circle cx="579.1" cy="618.3" r="2.85"/><circle cx="570.5" cy="595.1" r="2.85"/><circle cx="579.2" cy="618.3" r="2.85"/><circle cx="568.1" cy="618.3" r="2.85"/><circle cx="583.7" cy="618.3" r="2.85"/><circle cx="589.8" cy="618.3" r="2.85"/><circle cx="590.6" cy="618.3" r="2.85"/><circle cx="567.2" cy="618.3" r="2.85"/><circle cx="569.6" cy="618.3" r="2.85"/><circle cx="576.2" cy="618.3" r="2.85"/><circle cx="566.2" cy="595.1" r="2.85"/><circle cx="576.2" cy="618.3" r="2.85"/><circle cx="551.8" cy="595.1" r="2.85"/><circle cx="572.1" cy="618.3" r="2.85"/><circle cx="580.8" cy="618.3" r="2.85"/><circle cx="580.5" cy="618.3" r="2.85"/><circle cx="582.5" cy="595.1" r="2.85"/><circle cx="596.6" cy="618.3" r="2.85"/><circle cx="581.5" cy="618.3" r="2.85"/><circle cx="573.9" cy="618.3" r="2.85"/><circle cx="592.3" cy="618.3" r="2.85"/><circle cx="589.5" cy="618.3" r="2.85"/><circle cx="587.1" cy="595.1" r="2.85"/><circle cx="587.2" cy="618.3" r="2.85"/><circle cx="588.1" cy="618.3" r="2.85"/><circle cx="589.4" cy="618.3" r="2.85"/><circle cx="585.7" cy="618.3" r="2.85"/><circle cx="565.9" cy="618.3" r="2.85"/><circle cx="589.5" cy="618.3" r="2.85"/><circle cx="612.9" cy="618.3" r="2.85"/><circle cx="593.9" cy="618.3" r="2.85"/><circle cx="578.8" cy="618.3" r="2.85"/><circle cx="597.8" cy="618.3" r="2.85"/><circle cx="598.3" cy="618.3" r="2.85"/><circle cx="616.3" cy="618.3" r="2.85"/><circle cx="557.3" cy="618.3" r="2.85"/><circle cx="580" cy="618.3" r="2.85"/><circle cx="577.1" cy="618.3" r="2.85"/><circle cx="580.8" cy="595.1" r="2.85"/><circle cx="566" cy="618.3" r="2.85"/><circle cx="630.3" cy="618.3" r="2.85"/><circle cx="608.3" cy="595.1" r="2.85"/><circle cx="590" cy="618.3" r="2.85"/><circle cx="572.1" cy="618.3" r="2.85"/><circle cx="584.2" cy="618.3" r="2.85"/><circle cx="555.4" cy="618.3" r="2.85"/><circle cx="547.2" cy="618.3" r="2.85"/><circle cx="581.5" cy="618.3" r="2.85"/><circle cx="568.8" cy="618.3" r="2.85"/><circle cx="564.2" cy="618.3" r="2.85"/><circle cx="575.6" cy="618.3" r="2.85"/><circle cx="595.1" cy="618.3" r="2.85"/><circle cx="580.8" cy="618.3" r="2.85"/><circle cx="574.4" cy="618.3" r="2.85"/><circle cx="585" cy="595.1" r="2.85"/><circle cx="557.2" cy="618.3" r="2.85"/><circle cx="583.9" cy="595.1" r="2.85"/><circle cx="578.2" cy="618.3" r="2.85"/><circle cx="582" cy="595.1" r="2.85"/><circle cx="592.8" cy="618.3" r="2.85"/><circle cx="585" cy="618.3" r="2.85"/><circle cx="576.7" cy="618.3" r="2.85"/><circle cx="578.3" cy="618.3" r="2.85"/><circle cx="586.2" cy="571.9" r="2.85"/><circle cx="612.9" cy="618.3" r="2.85"/><circle cx="563.4" cy="618.3" r="2.85"/><circle cx="596.2" cy="618.3" r="2.85"/><circle cx="568.2" cy="618.3" r="2.85"/><circle cx="572.9" cy="618.3" r="2.85"/><circle cx="587.4" cy="595.1" r="2.85"/><circle cx="602.2" cy="618.3" r="2.85"/><circle cx="574.9" cy="618.3" r="2.85"/><circle cx="578.6" cy="595.1" r="2.85"/><circle cx="600.2" cy="618.3" r="2.85"/><circle cx="563.6" cy="618.3" r="2.85"/><circle cx="623.8" cy="595.1" r="2.85"/><circle cx="584.4" cy="618.3" r="2.85"/><circle cx="578.9" cy="595.1" r="2.85"/><circle cx="610.6" cy="618.3" r="2.85"/><circle cx="567.5" cy="595.1" r="2.85"/><circle cx="573.3" cy="618.3" r="2.85"/><circle cx="574.4" cy="618.3" r="2.85"/><circle cx="573" cy="595.1" r="2.85"/><circle cx="581.8" cy="618.3" r="2.85"/><circle cx="571.3" cy="595.1" r="2.85"/><circle cx="603.5" cy="618.3" r="2.85"/><circle cx="597.2" cy="618.3" r="2.85"/><circle cx="585.2" cy="571.9" r="2.85"/><circle cx="591.4" cy="618.3" r="2.85"/><circle cx="587.9" cy="618.3" r="2.85"/><circle cx="557.5" cy="618.3" r="2.85"/><circle cx="575.5" cy="618.3" r="2.85"/><circle cx="593.3" cy="595.1" r="2.85"/><circle cx="554.6" cy="618.3" r="2.85"/><circle cx="604.7" cy="595.1" r="2.85"/><circle cx="567.5" cy="618.3" r="2.85"/><circle cx="586.8" cy="618.3" r="2.85"/><circle cx="566.9" cy="618.3" r="2.85"/><circle cx="582" cy="618.3" r="2.85"/><circle cx="591" cy="595.1" r="2.85"/><circle cx="593.4" cy="618.3" r="2.85"/><circle cx="586.3" cy="595.1" r="2.85"/><circle cx="571.8" cy="618.3" r="2.85"/><circle cx="575.6" cy="618.3" r="2.85"/><circle cx="591.3" cy="595.1" r="2.85"/><circle cx="590.1" cy="618.3" r="2.85"/><circle cx="586.5" cy="618.3" r="2.85"/><circle cx="569.3" cy="618.3" r="2.85"/><circle cx="589.3" cy="595.1" r="2.85"/><circle cx="577" cy="618.3" r="2.85"/><circle cx="555.8" cy="595.1" r="2.85"/><circle cx="573.7" cy="618.3" r="2.85"/><circle cx="603.7" cy="618.3" r="2.85"/><circle cx="572.3" cy="618.3" r="2.85"/><circle cx="599.4" cy="618.3" r="2.85"/><circle cx="586.3" cy="595.1" r="2.85"/><circle cx="589.1" cy="595.1" r="2.85"/><circle cx="587" cy="571.9" r="2.85"/><circle cx="580.8" cy="618.3" r="2.85"/><circle cx="611.4" cy="618.3" r="2.85"/><circle cx="562.4" cy="618.3" r="2.85"/><circle cx="560.6" cy="618.3" r="2.85"/><circle cx="583" cy="595.1" r="2.85"/><circle cx="591" cy="618.3" r="2.85"/><circle cx="576" cy="618.3" r="2.85"/><circle cx="566.3" cy="595.1" r="2.85"/><circle cx="588" cy="595.1" r="2.85"/><circle cx="577.7" cy="618.3" r="2.85"/><circle cx="597" cy="618.3" r="2.85"/><circle cx="594.6" cy="595.1" r="2.85"/><circle cx="582.1" cy="618.3" r="2.85"/><circle cx="580" cy="618.3" r="2.85"/><circle cx="564.7" cy="618.3" r="2.85"/><circle cx="587.8" cy="618.3" r="2.85"/><circle cx="560.6" cy="618.3" r="2.85"/><circle cx="567.6" cy="618.3" r="2.85"/><circle cx="543.2" cy="595.1" r="2.85"/><circle cx="592.5" cy="618.3" r="2.85"/><circle cx="564.7" cy="618.3" r="2.85"/><circle cx="565" cy="595.1" r="2.85"/><circle cx="571.8" cy="618.3" r="2.85"/><circle cx="597.4" cy="618.3" r="2.85"/><circle cx="584.8" cy="618.3" r="2.85"/><circle cx="579.2" cy="618.3" r="2.85"/><circle cx="589.3" cy="618.3" r="2.85"/><circle cx="590.3" cy="618.3" r="2.85"/><circle cx="565.7" cy="595.1" r="2.85"/><circle cx="584.9" cy="618.3" r="2.85"/><circle cx="597.3" cy="595.1" r="2.85"/><circle cx="563.6" cy="618.3" r="2.85"/><circle cx="594.6" cy="618.3" r="2.85"/><circle cx="580" cy="618.3" r="2.85"/><circle cx="556" cy="618.3" r="2.85"/><circle cx="567.8" cy="618.3" r="2.85"/><circle cx="582.7" cy="618.3" r="2.85"/><circle cx="604" cy="618.3" r="2.85"/><circle cx="578.7" cy="618.3" r="2.85"/><circle cx="571.3" cy="618.3" r="2.85"/><circle cx="594.8" cy="618.3" r="2.85"/><circle cx="582.7" cy="595.1" r="2.85"/><circle cx="575.8" cy="618.3" r="2.85"/><circle cx="577.8" cy="618.3" r="2.85"/><circle cx="589.3" cy="618.3" r="2.85"/><circle cx="575.7" cy="595.1" r="2.85"/><circle cx="574.8" cy="618.3" r="2.85"/><circle cx="573.3" cy="595.1" r="2.85"/><circle cx="588.3" cy="618.3" r="2.85"/><circle cx="559.8" cy="571.9" r="2.85"/><circle cx="589.7" cy="618.3" r="2.85"/><circle cx="573.8" cy="618.3" r="2.85"/><circle cx="593.6" cy="595.1" r="2.85"/><circle cx="577.9" cy="618.3" r="2.85"/><circle cx="558.6" cy="618.3" r="2.85"/><circle cx="596.9" cy="595.1" r="2.85"/><circle cx="587.8" cy="618.3" r="2.85"/><circle cx="585.9" cy="618.3" r="2.85"/><circle cx="569.3" cy="618.3" r="2.85"/><circle cx="600.1" cy="618.3" r="2.85"/><circle cx="571.8" cy="595.1" r="2.85"/><circle cx="604.4" cy="618.3" r="2.85"/><circle cx="581.9" cy="595.1" r="2.85"/><circle cx="604.3" cy="595.1" r="2.85"/><circle cx="567.7" cy="618.3" r="2.85"/><circle cx="555.4" cy="595.1" r="2.85"/><circle cx="564.2" cy="618.3" r="2.85"/><circle cx="574.3" cy="618.3" r="2.85"/><circle cx="569" cy="618.3" r="2.85"/><circle cx="572.9" cy="618.3" r="2.85"/><circle cx="583" cy="618.3" r="2.85"/><circle cx="581.4" cy="595.1" r="2.85"/><circle cx="584.8" cy="618.3" r="2.85"/><circle cx="575.3" cy="618.3" r="2.85"/><circle cx="590.3" cy="618.3" r="2.85"/><circle cx="596.7" cy="595.1" r="2.85"/><circle cx="565.2" cy="618.3" r="2.85"/><circle cx="598.5" cy="618.3" r="2.85"/><circle cx="565.8" cy="618.3" r="2.85"/><circle cx="605.7" cy="618.3" r="2.85"/><circle cx="584.2" cy="618.3" r="2.85"/><circle cx="610.9" cy="595.1" r="2.85"/><circle cx="544" cy="618.3" r="2.85"/><circle cx="522.5" cy="618.3" r="2.85"/><circle cx="529.3" cy="595.1" r="2.85"/><circle cx="569.9" cy="618.3" r="2.85"/><circle cx="564.1" cy="618.3" r="2.85"/><circle cx="619" cy="618.3" r="2.85"/><circle cx="596.6" cy="595.1" r="2.85"/><circle cx="514.5" cy="618.3" r="2.85"/><circle cx="587" cy="618.3" r="2.85"/><circle cx="560.4" cy="618.3" r="2.85"/><circle cx="568.7" cy="618.3" r="2.85"/><circle cx="577.2" cy="618.3" r="2.85"/><circle cx="519.3" cy="618.3" r="2.85"/><circle cx="536.8" cy="618.3" r="2.85"/><circle cx="530.2" cy="618.3" r="2.85"/><circle cx="529.4" cy="618.3" r="2.85"/><circle cx="605.5" cy="595.1" r="2.85"/><circle cx="546.2" cy="618.3" r="2.85"/><circle cx="534.5" cy="618.3" r="2.85"/><circle cx="617" cy="618.3" r="2.85"/><circle cx="518.3" cy="618.3" r="2.85"/><circle cx="544.9" cy="595.1" r="2.85"/><circle cx="613.1" cy="618.3" r="2.85"/><circle cx="626" cy="595.1" r="2.85"/><circle cx="550.6" cy="618.3" r="2.85"/><circle cx="557" cy="618.3" r="2.85"/><circle cx="554.6" cy="618.3" r="2.85"/><circle cx="574.1" cy="595.1" r="2.85"/><circle cx="555.5" cy="618.3" r="2.85"/><circle cx="517.6" cy="618.3" r="2.85"/><circle cx="520.5" cy="618.3" r="2.85"/><circle cx="555.7" cy="618.3" r="2.85"/><circle cx="621.6" cy="618.3" r="2.85"/><circle cx="625.1" cy="618.3" r="2.85"/><circle cx="538.7" cy="595.1" r="2.85"/><circle cx="546.7" cy="595.1" r="2.85"/><circle cx="591.9" cy="618.3" r="2.85"/><circle cx="524.5" cy="618.3" r="2.85"/><circle cx="583.6" cy="618.3" r="2.85"/><circle cx="596.1" cy="595.1" r="2.85"/><circle cx="529.9" cy="618.3" r="2.85"/><circle cx="609.1" cy="595.1" r="2.85"/><circle cx="550.8" cy="571.9" r="2.85"/><circle cx="645.6" cy="618.3" r="2.85"/><circle cx="649.7" cy="618.3" r="2.85"/><circle cx="651.1" cy="595.1" r="2.85"/><circle cx="653.9" cy="595.1" r="2.85"/><circle cx="656.7" cy="618.3" r="2.85"/><circle cx="648.3" cy="618.3" r="2.85"/></g><text transform="translate(477.5,534.8) rotate(-90)" font-size="15.6" fill="#000" font-family='"Liberation Sans",sans-serif' text-anchor="middle" >hydrogen bonding</text><rect x="581.1" y="462" width="93.5" height="21.4" fill="#fff" stroke="#555" stroke-width="1"/><circle cx="592.2" cy="472.9" r="2.8" fill="#c9d2e2"/><circle cx="636.3" cy="472.9" r="2.8" fill="#f3d4d7"/><text x="598.6" y="477.2" font-size="13" font-family='"Liberation Sans",sans-serif'>HBA</text><text x="642.9" y="477.2" font-size="13" font-family='"Liberation Sans",sans-serif'>HBD</text><line x1="63.8" y1="655.7" x2="677.7" y2="655.7" stroke="#000" stroke-width="1.8"/><text x="370.6" y="675.4" font-size="15.5" text-anchor="middle" font-family='"Liberation Sans",sans-serif'>accumulation difference</text><text x="371.2" y="695.3" font-size="15.5" text-anchor="middle" fill="#4e6285" font-family='"Liberation Sans",sans-serif'>PMBN - untreated <tspan font-style="italic">E. coli</tspan></text>
</svg>
</body></html>
